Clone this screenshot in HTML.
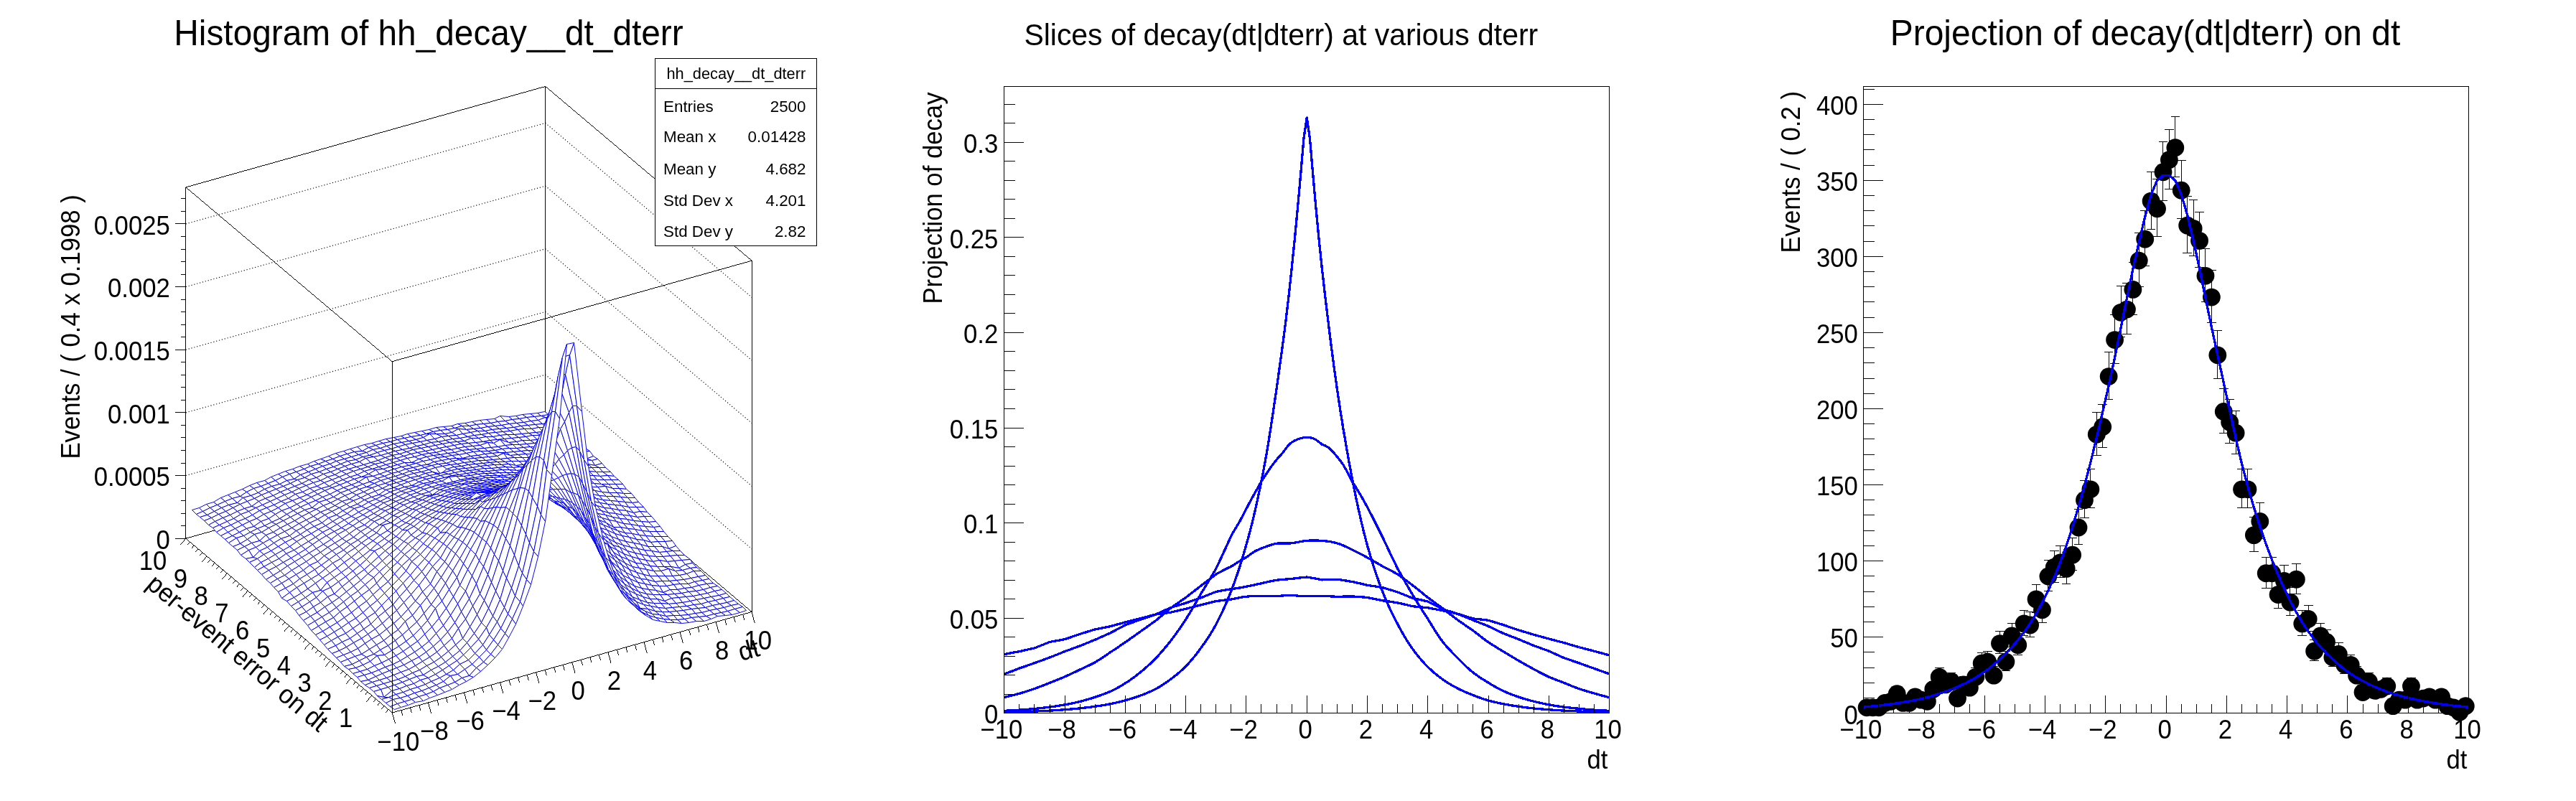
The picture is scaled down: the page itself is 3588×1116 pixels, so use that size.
<!DOCTYPE html>
<html><head><meta charset="utf-8"><title>rf306</title>
<style>html,body{margin:0;padding:0;background:#fff}svg{display:block;will-change:transform}line,polyline,polygon,rect{shape-rendering:crispEdges}.dot polyline{shape-rendering:geometricPrecision}text{font-family:"Liberation Sans",sans-serif}</style>
</head><body>
<svg width="3588" height="1116" viewBox="0 0 3588 1116">
<rect width="3588" height="1116" fill="#fff"/>
<g stroke="#000" stroke-width="0.97" fill="none">
<line x1="258.8" y1="750.2" x2="258.8" y2="260.9" />
<line x1="258.8" y1="260.9" x2="759.7" y2="120.4" />
<line x1="759.7" y1="120.4" x2="1047.2" y2="363.2" />
<line x1="759.7" y1="120.4" x2="759.7" y2="609.7" />
<line x1="1047.2" y1="363.2" x2="1047.2" y2="852.5" />
<line x1="258.8" y1="750.2" x2="759.7" y2="609.7" />
<line x1="759.7" y1="609.7" x2="1047.2" y2="852.5" />
</g>
<g stroke="#000" stroke-width="1.15" fill="none" stroke-dasharray="1.15 2.85" style="shape-rendering:geometricPrecision" class="dot">
<polyline points="258.8,662.55 759.7,522.05 1047.2,764.85"/>
<polyline points="258.8,574.9 759.7,434.4 1047.2,677.2"/>
<polyline points="258.8,487.25 759.7,346.75 1047.2,589.55"/>
<polyline points="258.8,399.6 759.7,259.1 1047.2,501.9"/>
<polyline points="258.8,311.95 759.7,171.45 1047.2,414.25"/>
</g>
<g stroke="#0000ff" stroke-width="0.97" fill="#fff" stroke-linejoin="round">
<polygon points="753.5,579.5 764.5,577.5 758.5,573.5 748.5,575.5"/>
<polygon points="744.5,580.5 753.5,579.5 748.5,575.5 738.5,576.5"/>
<polygon points="733.5,581.5 744.5,580.5 738.5,576.5 727.5,577.5"/>
<polygon points="723.5,583.5 733.5,581.5 727.5,577.5 718.5,579.5"/>
<polygon points="713.5,584.5 723.5,583.5 718.5,579.5 708.5,580.5"/>
<polygon points="703.5,586.5 713.5,584.5 708.5,580.5 696.5,579.5"/>
<polygon points="693.5,587.5 703.5,586.5 696.5,579.5 688.5,583.5"/>
<polygon points="683.5,589.5 693.5,587.5 688.5,583.5 677.5,584.5"/>
<polygon points="673.5,590.5 683.5,589.5 677.5,584.5 668.5,585.5"/>
<polygon points="663.5,591.5 673.5,590.5 668.5,585.5 657.5,587.5"/>
<polygon points="653.5,593.5 663.5,591.5 657.5,587.5 647.5,589.5"/>
<polygon points="643.5,593.5 653.5,593.5 647.5,589.5 637.5,590.5"/>
<polygon points="633.5,596.5 643.5,593.5 637.5,590.5 628.5,593.5"/>
<polygon points="623.5,598.5 633.5,596.5 628.5,593.5 617.5,594.5"/>
<polygon points="613.5,599.5 623.5,598.5 617.5,594.5 607.5,595.5"/>
<polygon points="603.5,601.5 613.5,599.5 607.5,595.5 597.5,598.5"/>
<polygon points="593.5,604.5 603.5,601.5 597.5,598.5 587.5,600.5"/>
<polygon points="585.5,606.5 593.5,604.5 587.5,600.5 577.5,602.5"/>
<polygon points="572.5,608.5 585.5,606.5 577.5,602.5 567.5,604.5"/>
<polygon points="563.5,610.5 572.5,608.5 567.5,604.5 558.5,607.5"/>
<polygon points="553.5,612.5 563.5,610.5 558.5,607.5 548.5,609.5"/>
<polygon points="543.5,615.5 553.5,612.5 548.5,609.5 537.5,611.5"/>
<polygon points="533.5,617.5 543.5,615.5 537.5,611.5 527.5,614.5"/>
<polygon points="523.5,620.5 533.5,617.5 527.5,614.5 517.5,617.5"/>
<polygon points="513.5,623.5 523.5,620.5 517.5,617.5 507.5,619.5"/>
<polygon points="504.5,628.5 513.5,623.5 507.5,619.5 497.5,622.5"/>
<polygon points="493.5,629.5 504.5,628.5 497.5,622.5 487.5,625.5"/>
<polygon points="483.5,632.5 493.5,629.5 487.5,625.5 478.5,628.5"/>
<polygon points="473.5,635.5 483.5,632.5 478.5,628.5 467.5,631.5"/>
<polygon points="463.5,639.5 473.5,635.5 467.5,631.5 457.5,635.5"/>
<polygon points="453.5,642.5 463.5,639.5 457.5,635.5 446.5,639.5"/>
<polygon points="443.5,646.5 453.5,642.5 446.5,639.5 437.5,642.5"/>
<polygon points="432.5,649.5 443.5,646.5 437.5,642.5 428.5,646.5"/>
<polygon points="423.5,653.5 432.5,649.5 428.5,646.5 417.5,649.5"/>
<polygon points="412.5,657.5 423.5,653.5 417.5,649.5 407.5,653.5"/>
<polygon points="403.5,660.5 412.5,657.5 407.5,653.5 397.5,656.5"/>
<polygon points="393.5,664.5 403.5,660.5 397.5,656.5 387.5,660.5"/>
<polygon points="383.5,669.5 393.5,664.5 387.5,660.5 377.5,664.5"/>
<polygon points="373.5,673.5 383.5,669.5 377.5,664.5 368.5,669.5"/>
<polygon points="363.5,677.5 373.5,673.5 368.5,669.5 357.5,672.5"/>
<polygon points="353.5,680.5 363.5,677.5 357.5,672.5 347.5,676.5"/>
<polygon points="343.5,685.5 353.5,680.5 347.5,676.5 337.5,681.5"/>
<polygon points="334.5,691.5 343.5,685.5 337.5,681.5 327.5,685.5"/>
<polygon points="323.5,694.5 334.5,691.5 327.5,685.5 317.5,689.5"/>
<polygon points="313.5,698.5 323.5,694.5 317.5,689.5 307.5,693.5"/>
<polygon points="302.5,703.5 313.5,698.5 307.5,693.5 297.5,699.5"/>
<polygon points="292.5,707.5 302.5,703.5 297.5,699.5 287.5,702.5"/>
<polygon points="282.5,712.5 292.5,707.5 287.5,702.5 277.5,707.5"/>
<polygon points="273.5,716.5 282.5,712.5 277.5,707.5 267.5,710.5"/>
<polygon points="759.5,581.5 769.5,583.5 764.5,577.5 753.5,579.5"/>
<polygon points="749.5,585.5 759.5,581.5 753.5,579.5 744.5,580.5"/>
<polygon points="739.5,586.5 749.5,585.5 744.5,580.5 733.5,581.5"/>
<polygon points="729.5,588.5 739.5,586.5 733.5,581.5 723.5,583.5"/>
<polygon points="719.5,589.5 729.5,588.5 723.5,583.5 713.5,584.5"/>
<polygon points="709.5,590.5 719.5,589.5 713.5,584.5 703.5,586.5"/>
<polygon points="698.5,592.5 709.5,590.5 703.5,586.5 693.5,587.5"/>
<polygon points="689.5,593.5 698.5,592.5 693.5,587.5 683.5,589.5"/>
<polygon points="679.5,594.5 689.5,593.5 683.5,589.5 673.5,590.5"/>
<polygon points="669.5,596.5 679.5,594.5 673.5,590.5 663.5,591.5"/>
<polygon points="659.5,597.5 669.5,596.5 663.5,591.5 653.5,593.5"/>
<polygon points="649.5,598.5 659.5,597.5 653.5,593.5 643.5,593.5"/>
<polygon points="638.5,597.5 649.5,598.5 643.5,593.5 633.5,596.5"/>
<polygon points="629.5,602.5 638.5,597.5 633.5,596.5 623.5,598.5"/>
<polygon points="619.5,604.5 629.5,602.5 623.5,598.5 613.5,599.5"/>
<polygon points="607.5,604.5 619.5,604.5 613.5,599.5 603.5,601.5"/>
<polygon points="598.5,604.5 607.5,604.5 603.5,601.5 593.5,604.5"/>
<polygon points="589.5,609.5 598.5,604.5 593.5,604.5 585.5,606.5"/>
<polygon points="579.5,612.5 589.5,609.5 585.5,606.5 572.5,608.5"/>
<polygon points="569.5,614.5 579.5,612.5 572.5,608.5 563.5,610.5"/>
<polygon points="559.5,616.5 569.5,614.5 563.5,610.5 553.5,612.5"/>
<polygon points="548.5,618.5 559.5,616.5 553.5,612.5 543.5,615.5"/>
<polygon points="538.5,621.5 548.5,618.5 543.5,615.5 533.5,617.5"/>
<polygon points="529.5,624.5 538.5,621.5 533.5,617.5 523.5,620.5"/>
<polygon points="519.5,626.5 529.5,624.5 523.5,620.5 513.5,623.5"/>
<polygon points="510.5,630.5 519.5,626.5 513.5,623.5 504.5,628.5"/>
<polygon points="499.5,633.5 510.5,630.5 504.5,628.5 493.5,629.5"/>
<polygon points="489.5,636.5 499.5,633.5 493.5,629.5 483.5,632.5"/>
<polygon points="479.5,639.5 489.5,636.5 483.5,632.5 473.5,635.5"/>
<polygon points="468.5,642.5 479.5,639.5 473.5,635.5 463.5,639.5"/>
<polygon points="459.5,646.5 468.5,642.5 463.5,639.5 453.5,642.5"/>
<polygon points="449.5,649.5 459.5,646.5 453.5,642.5 443.5,646.5"/>
<polygon points="439.5,653.5 449.5,649.5 443.5,646.5 432.5,649.5"/>
<polygon points="429.5,657.5 439.5,653.5 432.5,649.5 423.5,653.5"/>
<polygon points="418.5,661.5 429.5,657.5 423.5,653.5 412.5,657.5"/>
<polygon points="409.5,667.5 418.5,661.5 412.5,657.5 403.5,660.5"/>
<polygon points="399.5,669.5 409.5,667.5 403.5,660.5 393.5,664.5"/>
<polygon points="389.5,674.5 399.5,669.5 393.5,664.5 383.5,669.5"/>
<polygon points="378.5,677.5 389.5,674.5 383.5,669.5 373.5,673.5"/>
<polygon points="368.5,681.5 378.5,677.5 373.5,673.5 363.5,677.5"/>
<polygon points="359.5,686.5 368.5,681.5 363.5,677.5 353.5,680.5"/>
<polygon points="349.5,690.5 359.5,686.5 353.5,680.5 343.5,685.5"/>
<polygon points="338.5,693.5 349.5,690.5 343.5,685.5 334.5,691.5"/>
<polygon points="330.5,700.5 338.5,693.5 334.5,691.5 323.5,694.5"/>
<polygon points="318.5,703.5 330.5,700.5 323.5,694.5 313.5,698.5"/>
<polygon points="308.5,707.5 318.5,703.5 313.5,698.5 302.5,703.5"/>
<polygon points="298.5,712.5 308.5,707.5 302.5,703.5 292.5,707.5"/>
<polygon points="288.5,717.5 298.5,712.5 292.5,707.5 282.5,712.5"/>
<polygon points="278.5,720.5 288.5,717.5 282.5,712.5 273.5,716.5"/>
<polygon points="765.5,589.5 775.5,588.5 769.5,583.5 759.5,581.5"/>
<polygon points="755.5,590.5 765.5,589.5 759.5,581.5 749.5,585.5"/>
<polygon points="745.5,591.5 755.5,590.5 749.5,585.5 739.5,586.5"/>
<polygon points="735.5,592.5 745.5,591.5 739.5,586.5 729.5,588.5"/>
<polygon points="725.5,593.5 735.5,592.5 729.5,588.5 719.5,589.5"/>
<polygon points="715.5,595.5 725.5,593.5 719.5,589.5 709.5,590.5"/>
<polygon points="705.5,596.5 715.5,595.5 709.5,590.5 698.5,592.5"/>
<polygon points="695.5,597.5 705.5,596.5 698.5,592.5 689.5,593.5"/>
<polygon points="685.5,598.5 695.5,597.5 689.5,593.5 679.5,594.5"/>
<polygon points="675.5,600.5 685.5,598.5 679.5,594.5 669.5,596.5"/>
<polygon points="665.5,600.5 675.5,600.5 669.5,596.5 659.5,597.5"/>
<polygon points="655.5,602.5 665.5,600.5 659.5,597.5 649.5,598.5"/>
<polygon points="644.5,604.5 655.5,602.5 649.5,598.5 638.5,597.5"/>
<polygon points="635.5,606.5 644.5,604.5 638.5,597.5 629.5,602.5"/>
<polygon points="624.5,607.5 635.5,606.5 629.5,602.5 619.5,604.5"/>
<polygon points="615.5,608.5 624.5,607.5 619.5,604.5 607.5,604.5"/>
<polygon points="605.5,611.5 615.5,608.5 607.5,604.5 598.5,604.5"/>
<polygon points="594.5,613.5 605.5,611.5 598.5,604.5 589.5,609.5"/>
<polygon points="585.5,615.5 594.5,613.5 589.5,609.5 579.5,612.5"/>
<polygon points="574.5,617.5 585.5,615.5 579.5,612.5 569.5,614.5"/>
<polygon points="564.5,619.5 574.5,617.5 569.5,614.5 559.5,616.5"/>
<polygon points="554.5,622.5 564.5,619.5 559.5,616.5 548.5,618.5"/>
<polygon points="544.5,625.5 554.5,622.5 548.5,618.5 538.5,621.5"/>
<polygon points="535.5,627.5 544.5,625.5 538.5,621.5 529.5,624.5"/>
<polygon points="525.5,630.5 535.5,627.5 529.5,624.5 519.5,626.5"/>
<polygon points="514.5,634.5 525.5,630.5 519.5,626.5 510.5,630.5"/>
<polygon points="505.5,636.5 514.5,634.5 510.5,630.5 499.5,633.5"/>
<polygon points="495.5,640.5 505.5,636.5 499.5,633.5 489.5,636.5"/>
<polygon points="484.5,642.5 495.5,640.5 489.5,636.5 479.5,639.5"/>
<polygon points="474.5,646.5 484.5,642.5 479.5,639.5 468.5,642.5"/>
<polygon points="464.5,650.5 474.5,646.5 468.5,642.5 459.5,646.5"/>
<polygon points="454.5,653.5 464.5,650.5 459.5,646.5 449.5,649.5"/>
<polygon points="444.5,657.5 454.5,653.5 449.5,649.5 439.5,653.5"/>
<polygon points="433.5,660.5 444.5,657.5 439.5,653.5 429.5,657.5"/>
<polygon points="424.5,665.5 433.5,660.5 429.5,657.5 418.5,661.5"/>
<polygon points="414.5,668.5 424.5,665.5 418.5,661.5 409.5,667.5"/>
<polygon points="404.5,673.5 414.5,668.5 409.5,667.5 399.5,669.5"/>
<polygon points="394.5,677.5 404.5,673.5 399.5,669.5 389.5,674.5"/>
<polygon points="384.5,681.5 394.5,677.5 389.5,674.5 378.5,677.5"/>
<polygon points="374.5,685.5 384.5,681.5 378.5,677.5 368.5,681.5"/>
<polygon points="364.5,689.5 374.5,685.5 368.5,681.5 359.5,686.5"/>
<polygon points="354.5,694.5 364.5,689.5 359.5,686.5 349.5,690.5"/>
<polygon points="344.5,698.5 354.5,694.5 349.5,690.5 338.5,693.5"/>
<polygon points="334.5,702.5 344.5,698.5 338.5,693.5 330.5,700.5"/>
<polygon points="324.5,707.5 334.5,702.5 330.5,700.5 318.5,703.5"/>
<polygon points="314.5,712.5 324.5,707.5 318.5,703.5 308.5,707.5"/>
<polygon points="304.5,716.5 314.5,712.5 308.5,707.5 298.5,712.5"/>
<polygon points="294.5,721.5 304.5,716.5 298.5,712.5 288.5,717.5"/>
<polygon points="284.5,725.5 294.5,721.5 288.5,717.5 278.5,720.5"/>
<polygon points="772.5,597.5 781.5,593.5 775.5,588.5 765.5,589.5"/>
<polygon points="760.5,595.5 772.5,597.5 765.5,589.5 755.5,590.5"/>
<polygon points="750.5,595.5 760.5,595.5 755.5,590.5 745.5,591.5"/>
<polygon points="740.5,597.5 750.5,595.5 745.5,591.5 735.5,592.5"/>
<polygon points="730.5,597.5 740.5,597.5 735.5,592.5 725.5,593.5"/>
<polygon points="721.5,598.5 730.5,597.5 725.5,593.5 715.5,595.5"/>
<polygon points="710.5,600.5 721.5,598.5 715.5,595.5 705.5,596.5"/>
<polygon points="700.5,601.5 710.5,600.5 705.5,596.5 695.5,597.5"/>
<polygon points="690.5,602.5 700.5,601.5 695.5,597.5 685.5,598.5"/>
<polygon points="680.5,603.5 690.5,602.5 685.5,598.5 675.5,600.5"/>
<polygon points="670.5,605.5 680.5,603.5 675.5,600.5 665.5,600.5"/>
<polygon points="660.5,606.5 670.5,605.5 665.5,600.5 655.5,602.5"/>
<polygon points="651.5,608.5 660.5,606.5 655.5,602.5 644.5,604.5"/>
<polygon points="640.5,610.5 651.5,608.5 644.5,604.5 635.5,606.5"/>
<polygon points="630.5,611.5 640.5,610.5 635.5,606.5 624.5,607.5"/>
<polygon points="620.5,613.5 630.5,611.5 624.5,607.5 615.5,608.5"/>
<polygon points="610.5,615.5 620.5,613.5 615.5,608.5 605.5,611.5"/>
<polygon points="600.5,616.5 610.5,615.5 605.5,611.5 594.5,613.5"/>
<polygon points="590.5,619.5 600.5,616.5 594.5,613.5 585.5,615.5"/>
<polygon points="580.5,621.5 590.5,619.5 585.5,615.5 574.5,617.5"/>
<polygon points="570.5,624.5 580.5,621.5 574.5,617.5 564.5,619.5"/>
<polygon points="560.5,626.5 570.5,624.5 564.5,619.5 554.5,622.5"/>
<polygon points="550.5,628.5 560.5,626.5 554.5,622.5 544.5,625.5"/>
<polygon points="540.5,631.5 550.5,628.5 544.5,625.5 535.5,627.5"/>
<polygon points="530.5,634.5 540.5,631.5 535.5,627.5 525.5,630.5"/>
<polygon points="520.5,636.5 530.5,634.5 525.5,630.5 514.5,634.5"/>
<polygon points="509.5,638.5 520.5,636.5 514.5,634.5 505.5,636.5"/>
<polygon points="500.5,643.5 509.5,638.5 505.5,636.5 495.5,640.5"/>
<polygon points="489.5,646.5 500.5,643.5 495.5,640.5 484.5,642.5"/>
<polygon points="480.5,649.5 489.5,646.5 484.5,642.5 474.5,646.5"/>
<polygon points="470.5,653.5 480.5,649.5 474.5,646.5 464.5,650.5"/>
<polygon points="460.5,657.5 470.5,653.5 464.5,650.5 454.5,653.5"/>
<polygon points="450.5,660.5 460.5,657.5 454.5,653.5 444.5,657.5"/>
<polygon points="440.5,665.5 450.5,660.5 444.5,657.5 433.5,660.5"/>
<polygon points="430.5,668.5 440.5,665.5 433.5,660.5 424.5,665.5"/>
<polygon points="420.5,673.5 430.5,668.5 424.5,665.5 414.5,668.5"/>
<polygon points="410.5,677.5 420.5,673.5 414.5,668.5 404.5,673.5"/>
<polygon points="400.5,681.5 410.5,677.5 404.5,673.5 394.5,677.5"/>
<polygon points="390.5,685.5 400.5,681.5 394.5,677.5 384.5,681.5"/>
<polygon points="380.5,690.5 390.5,685.5 384.5,681.5 374.5,685.5"/>
<polygon points="369.5,694.5 380.5,690.5 374.5,685.5 364.5,689.5"/>
<polygon points="360.5,698.5 369.5,694.5 364.5,689.5 354.5,694.5"/>
<polygon points="350.5,705.5 360.5,698.5 354.5,694.5 344.5,698.5"/>
<polygon points="340.5,708.5 350.5,705.5 344.5,698.5 334.5,702.5"/>
<polygon points="330.5,712.5 340.5,708.5 334.5,702.5 324.5,707.5"/>
<polygon points="320.5,717.5 330.5,712.5 324.5,707.5 314.5,712.5"/>
<polygon points="310.5,721.5 320.5,717.5 314.5,712.5 304.5,716.5"/>
<polygon points="299.5,726.5 310.5,721.5 304.5,716.5 294.5,721.5"/>
<polygon points="290.5,731.5 299.5,726.5 294.5,721.5 284.5,725.5"/>
<polygon points="776.5,599.5 786.5,600.5 781.5,593.5 772.5,597.5"/>
<polygon points="767.5,599.5 776.5,599.5 772.5,597.5 760.5,595.5"/>
<polygon points="756.5,601.5 767.5,599.5 760.5,595.5 750.5,595.5"/>
<polygon points="746.5,602.5 756.5,601.5 750.5,595.5 740.5,597.5"/>
<polygon points="736.5,603.5 746.5,602.5 740.5,597.5 730.5,597.5"/>
<polygon points="726.5,604.5 736.5,603.5 730.5,597.5 721.5,598.5"/>
<polygon points="716.5,605.5 726.5,604.5 721.5,598.5 710.5,600.5"/>
<polygon points="706.5,605.5 716.5,605.5 710.5,600.5 700.5,601.5"/>
<polygon points="696.5,606.5 706.5,605.5 700.5,601.5 690.5,602.5"/>
<polygon points="686.5,608.5 696.5,606.5 690.5,602.5 680.5,603.5"/>
<polygon points="677.5,608.5 686.5,608.5 680.5,603.5 670.5,605.5"/>
<polygon points="666.5,610.5 677.5,608.5 670.5,605.5 660.5,606.5"/>
<polygon points="656.5,610.5 666.5,610.5 660.5,606.5 651.5,608.5"/>
<polygon points="646.5,614.5 656.5,610.5 651.5,608.5 640.5,610.5"/>
<polygon points="636.5,615.5 646.5,614.5 640.5,610.5 630.5,611.5"/>
<polygon points="626.5,616.5 636.5,615.5 630.5,611.5 620.5,613.5"/>
<polygon points="616.5,618.5 626.5,616.5 620.5,613.5 610.5,615.5"/>
<polygon points="606.5,620.5 616.5,618.5 610.5,615.5 600.5,616.5"/>
<polygon points="596.5,622.5 606.5,620.5 600.5,616.5 590.5,619.5"/>
<polygon points="586.5,624.5 596.5,622.5 590.5,619.5 580.5,621.5"/>
<polygon points="575.5,626.5 586.5,624.5 580.5,621.5 570.5,624.5"/>
<polygon points="566.5,629.5 575.5,626.5 570.5,624.5 560.5,626.5"/>
<polygon points="556.5,632.5 566.5,629.5 560.5,626.5 550.5,628.5"/>
<polygon points="546.5,634.5 556.5,632.5 550.5,628.5 540.5,631.5"/>
<polygon points="536.5,637.5 546.5,634.5 540.5,631.5 530.5,634.5"/>
<polygon points="526.5,641.5 536.5,637.5 530.5,634.5 520.5,636.5"/>
<polygon points="516.5,644.5 526.5,641.5 520.5,636.5 509.5,638.5"/>
<polygon points="506.5,647.5 516.5,644.5 509.5,638.5 500.5,643.5"/>
<polygon points="496.5,650.5 506.5,647.5 500.5,643.5 489.5,646.5"/>
<polygon points="485.5,653.5 496.5,650.5 489.5,646.5 480.5,649.5"/>
<polygon points="475.5,656.5 485.5,653.5 480.5,649.5 470.5,653.5"/>
<polygon points="466.5,661.5 475.5,656.5 470.5,653.5 460.5,657.5"/>
<polygon points="456.5,664.5 466.5,661.5 460.5,657.5 450.5,660.5"/>
<polygon points="446.5,669.5 456.5,664.5 450.5,660.5 440.5,665.5"/>
<polygon points="436.5,672.5 446.5,669.5 440.5,665.5 430.5,668.5"/>
<polygon points="426.5,676.5 436.5,672.5 430.5,668.5 420.5,673.5"/>
<polygon points="416.5,680.5 426.5,676.5 420.5,673.5 410.5,677.5"/>
<polygon points="406.5,685.5 416.5,680.5 410.5,677.5 400.5,681.5"/>
<polygon points="396.5,689.5 406.5,685.5 400.5,681.5 390.5,685.5"/>
<polygon points="385.5,694.5 396.5,689.5 390.5,685.5 380.5,690.5"/>
<polygon points="376.5,698.5 385.5,694.5 380.5,690.5 369.5,694.5"/>
<polygon points="365.5,703.5 376.5,698.5 369.5,694.5 360.5,698.5"/>
<polygon points="356.5,707.5 365.5,703.5 360.5,698.5 350.5,705.5"/>
<polygon points="346.5,712.5 356.5,707.5 350.5,705.5 340.5,708.5"/>
<polygon points="335.5,716.5 346.5,712.5 340.5,708.5 330.5,712.5"/>
<polygon points="325.5,722.5 335.5,716.5 330.5,712.5 320.5,717.5"/>
<polygon points="316.5,726.5 325.5,722.5 320.5,717.5 310.5,721.5"/>
<polygon points="305.5,731.5 316.5,726.5 310.5,721.5 299.5,726.5"/>
<polygon points="296.5,735.5 305.5,731.5 299.5,726.5 290.5,731.5"/>
<polygon points="782.5,604.5 792.5,603.5 786.5,600.5 776.5,599.5"/>
<polygon points="772.5,605.5 782.5,604.5 776.5,599.5 767.5,599.5"/>
<polygon points="762.5,606.5 772.5,605.5 767.5,599.5 756.5,601.5"/>
<polygon points="752.5,606.5 762.5,606.5 756.5,601.5 746.5,602.5"/>
<polygon points="741.5,606.5 752.5,606.5 746.5,602.5 736.5,603.5"/>
<polygon points="732.5,608.5 741.5,606.5 736.5,603.5 726.5,604.5"/>
<polygon points="722.5,609.5 732.5,608.5 726.5,604.5 716.5,605.5"/>
<polygon points="712.5,610.5 722.5,609.5 716.5,605.5 706.5,605.5"/>
<polygon points="702.5,611.5 712.5,610.5 706.5,605.5 696.5,606.5"/>
<polygon points="692.5,612.5 702.5,611.5 696.5,606.5 686.5,608.5"/>
<polygon points="682.5,613.5 692.5,612.5 686.5,608.5 677.5,608.5"/>
<polygon points="672.5,615.5 682.5,613.5 677.5,608.5 666.5,610.5"/>
<polygon points="662.5,616.5 672.5,615.5 666.5,610.5 656.5,610.5"/>
<polygon points="652.5,617.5 662.5,616.5 656.5,610.5 646.5,614.5"/>
<polygon points="642.5,618.5 652.5,617.5 646.5,614.5 636.5,615.5"/>
<polygon points="632.5,620.5 642.5,618.5 636.5,615.5 626.5,616.5"/>
<polygon points="621.5,622.5 632.5,620.5 626.5,616.5 616.5,618.5"/>
<polygon points="611.5,624.5 621.5,622.5 616.5,618.5 606.5,620.5"/>
<polygon points="602.5,626.5 611.5,624.5 606.5,620.5 596.5,622.5"/>
<polygon points="592.5,628.5 602.5,626.5 596.5,622.5 586.5,624.5"/>
<polygon points="581.5,630.5 592.5,628.5 586.5,624.5 575.5,626.5"/>
<polygon points="572.5,632.5 581.5,630.5 575.5,626.5 566.5,629.5"/>
<polygon points="562.5,635.5 572.5,632.5 566.5,629.5 556.5,632.5"/>
<polygon points="552.5,638.5 562.5,635.5 556.5,632.5 546.5,634.5"/>
<polygon points="542.5,640.5 552.5,638.5 546.5,634.5 536.5,637.5"/>
<polygon points="532.5,644.5 542.5,640.5 536.5,637.5 526.5,641.5"/>
<polygon points="522.5,646.5 532.5,644.5 526.5,641.5 516.5,644.5"/>
<polygon points="512.5,650.5 522.5,646.5 516.5,644.5 506.5,647.5"/>
<polygon points="502.5,653.5 512.5,650.5 506.5,647.5 496.5,650.5"/>
<polygon points="492.5,656.5 502.5,653.5 496.5,650.5 485.5,653.5"/>
<polygon points="482.5,660.5 492.5,656.5 485.5,653.5 475.5,656.5"/>
<polygon points="472.5,664.5 482.5,660.5 475.5,656.5 466.5,661.5"/>
<polygon points="462.5,668.5 472.5,664.5 466.5,661.5 456.5,664.5"/>
<polygon points="451.5,672.5 462.5,668.5 456.5,664.5 446.5,669.5"/>
<polygon points="441.5,677.5 451.5,672.5 446.5,669.5 436.5,672.5"/>
<polygon points="431.5,680.5 441.5,677.5 436.5,672.5 426.5,676.5"/>
<polygon points="421.5,685.5 431.5,680.5 426.5,676.5 416.5,680.5"/>
<polygon points="411.5,688.5 421.5,685.5 416.5,680.5 406.5,685.5"/>
<polygon points="401.5,694.5 411.5,688.5 406.5,685.5 396.5,689.5"/>
<polygon points="391.5,698.5 401.5,694.5 396.5,689.5 385.5,694.5"/>
<polygon points="381.5,703.5 391.5,698.5 385.5,694.5 376.5,698.5"/>
<polygon points="371.5,707.5 381.5,703.5 376.5,698.5 365.5,703.5"/>
<polygon points="361.5,711.5 371.5,707.5 365.5,703.5 356.5,707.5"/>
<polygon points="351.5,717.5 361.5,711.5 356.5,707.5 346.5,712.5"/>
<polygon points="341.5,722.5 351.5,717.5 346.5,712.5 335.5,716.5"/>
<polygon points="331.5,726.5 341.5,722.5 335.5,716.5 325.5,722.5"/>
<polygon points="321.5,731.5 331.5,726.5 325.5,722.5 316.5,726.5"/>
<polygon points="311.5,735.5 321.5,731.5 316.5,726.5 305.5,731.5"/>
<polygon points="301.5,741.5 311.5,735.5 305.5,731.5 296.5,735.5"/>
<polygon points="788.5,609.5 798.5,608.5 792.5,603.5 782.5,604.5"/>
<polygon points="778.5,610.5 788.5,609.5 782.5,604.5 772.5,605.5"/>
<polygon points="768.5,611.5 778.5,610.5 772.5,605.5 762.5,606.5"/>
<polygon points="758.5,611.5 768.5,611.5 762.5,606.5 752.5,606.5"/>
<polygon points="748.5,612.5 758.5,611.5 752.5,606.5 741.5,606.5"/>
<polygon points="738.5,613.5 748.5,612.5 741.5,606.5 732.5,608.5"/>
<polygon points="727.5,613.5 738.5,613.5 732.5,608.5 722.5,609.5"/>
<polygon points="719.5,615.5 727.5,613.5 722.5,609.5 712.5,610.5"/>
<polygon points="708.5,616.5 719.5,615.5 712.5,610.5 702.5,611.5"/>
<polygon points="696.5,612.5 708.5,616.5 702.5,611.5 692.5,612.5"/>
<polygon points="687.5,617.5 696.5,612.5 692.5,612.5 682.5,613.5"/>
<polygon points="679.5,616.5 687.5,617.5 682.5,613.5 672.5,615.5"/>
<polygon points="668.5,620.5 679.5,616.5 672.5,615.5 662.5,616.5"/>
<polygon points="658.5,621.5 668.5,620.5 662.5,616.5 652.5,617.5"/>
<polygon points="647.5,622.5 658.5,621.5 652.5,617.5 642.5,618.5"/>
<polygon points="637.5,624.5 647.5,622.5 642.5,618.5 632.5,620.5"/>
<polygon points="628.5,626.5 637.5,624.5 632.5,620.5 621.5,622.5"/>
<polygon points="617.5,627.5 628.5,626.5 621.5,622.5 611.5,624.5"/>
<polygon points="607.5,630.5 617.5,627.5 611.5,624.5 602.5,626.5"/>
<polygon points="597.5,631.5 607.5,630.5 602.5,626.5 592.5,628.5"/>
<polygon points="587.5,633.5 597.5,631.5 592.5,628.5 581.5,630.5"/>
<polygon points="577.5,636.5 587.5,633.5 581.5,630.5 572.5,632.5"/>
<polygon points="567.5,638.5 577.5,636.5 572.5,632.5 562.5,635.5"/>
<polygon points="557.5,641.5 567.5,638.5 562.5,635.5 552.5,638.5"/>
<polygon points="547.5,644.5 557.5,641.5 552.5,638.5 542.5,640.5"/>
<polygon points="537.5,647.5 547.5,644.5 542.5,640.5 532.5,644.5"/>
<polygon points="527.5,650.5 537.5,647.5 532.5,644.5 522.5,646.5"/>
<polygon points="518.5,653.5 527.5,650.5 522.5,646.5 512.5,650.5"/>
<polygon points="507.5,656.5 518.5,653.5 512.5,650.5 502.5,653.5"/>
<polygon points="497.5,661.5 507.5,656.5 502.5,653.5 492.5,656.5"/>
<polygon points="487.5,664.5 497.5,661.5 492.5,656.5 482.5,660.5"/>
<polygon points="477.5,668.5 487.5,664.5 482.5,660.5 472.5,664.5"/>
<polygon points="467.5,672.5 477.5,668.5 472.5,664.5 462.5,668.5"/>
<polygon points="458.5,677.5 467.5,672.5 462.5,668.5 451.5,672.5"/>
<polygon points="447.5,680.5 458.5,677.5 451.5,672.5 441.5,677.5"/>
<polygon points="437.5,684.5 447.5,680.5 441.5,677.5 431.5,680.5"/>
<polygon points="427.5,689.5 437.5,684.5 431.5,680.5 421.5,685.5"/>
<polygon points="417.5,693.5 427.5,689.5 421.5,685.5 411.5,688.5"/>
<polygon points="407.5,697.5 417.5,693.5 411.5,688.5 401.5,694.5"/>
<polygon points="397.5,701.5 407.5,697.5 401.5,694.5 391.5,698.5"/>
<polygon points="387.5,707.5 397.5,701.5 391.5,698.5 381.5,703.5"/>
<polygon points="377.5,712.5 387.5,707.5 381.5,703.5 371.5,707.5"/>
<polygon points="367.5,716.5 377.5,712.5 371.5,707.5 361.5,711.5"/>
<polygon points="357.5,722.5 367.5,716.5 361.5,711.5 351.5,717.5"/>
<polygon points="347.5,726.5 357.5,722.5 351.5,717.5 341.5,722.5"/>
<polygon points="337.5,731.5 347.5,726.5 341.5,722.5 331.5,726.5"/>
<polygon points="327.5,736.5 337.5,731.5 331.5,726.5 321.5,731.5"/>
<polygon points="317.5,741.5 327.5,736.5 321.5,731.5 311.5,735.5"/>
<polygon points="307.5,746.5 317.5,741.5 311.5,735.5 301.5,741.5"/>
<polygon points="793.5,614.5 804.5,613.5 798.5,608.5 788.5,609.5"/>
<polygon points="784.5,616.5 793.5,614.5 788.5,609.5 778.5,610.5"/>
<polygon points="774.5,615.5 784.5,616.5 778.5,610.5 768.5,611.5"/>
<polygon points="764.5,614.5 774.5,615.5 768.5,611.5 758.5,611.5"/>
<polygon points="753.5,614.5 764.5,614.5 758.5,611.5 748.5,612.5"/>
<polygon points="744.5,617.5 753.5,614.5 748.5,612.5 738.5,613.5"/>
<polygon points="733.5,618.5 744.5,617.5 738.5,613.5 727.5,613.5"/>
<polygon points="723.5,619.5 733.5,618.5 727.5,613.5 719.5,615.5"/>
<polygon points="714.5,619.5 723.5,619.5 719.5,615.5 708.5,616.5"/>
<polygon points="703.5,620.5 714.5,619.5 708.5,616.5 696.5,612.5"/>
<polygon points="693.5,622.5 703.5,620.5 696.5,612.5 687.5,617.5"/>
<polygon points="683.5,623.5 693.5,622.5 687.5,617.5 679.5,616.5"/>
<polygon points="674.5,624.5 683.5,623.5 679.5,616.5 668.5,620.5"/>
<polygon points="663.5,625.5 674.5,624.5 668.5,620.5 658.5,621.5"/>
<polygon points="653.5,626.5 663.5,625.5 658.5,621.5 647.5,622.5"/>
<polygon points="643.5,627.5 653.5,626.5 647.5,622.5 637.5,624.5"/>
<polygon points="633.5,630.5 643.5,627.5 637.5,624.5 628.5,626.5"/>
<polygon points="623.5,631.5 633.5,630.5 628.5,626.5 617.5,627.5"/>
<polygon points="613.5,633.5 623.5,631.5 617.5,627.5 607.5,630.5"/>
<polygon points="603.5,634.5 613.5,633.5 607.5,630.5 597.5,631.5"/>
<polygon points="594.5,636.5 603.5,634.5 597.5,631.5 587.5,633.5"/>
<polygon points="583.5,639.5 594.5,636.5 587.5,633.5 577.5,636.5"/>
<polygon points="573.5,644.5 583.5,639.5 577.5,636.5 567.5,638.5"/>
<polygon points="563.5,644.5 573.5,644.5 567.5,638.5 557.5,641.5"/>
<polygon points="553.5,647.5 563.5,644.5 557.5,641.5 547.5,644.5"/>
<polygon points="543.5,650.5 553.5,647.5 547.5,644.5 537.5,647.5"/>
<polygon points="533.5,653.5 543.5,650.5 537.5,647.5 527.5,650.5"/>
<polygon points="523.5,654.5 533.5,653.5 527.5,650.5 518.5,653.5"/>
<polygon points="513.5,660.5 523.5,654.5 518.5,653.5 507.5,656.5"/>
<polygon points="503.5,664.5 513.5,660.5 507.5,656.5 497.5,661.5"/>
<polygon points="493.5,667.5 503.5,664.5 497.5,661.5 487.5,664.5"/>
<polygon points="483.5,671.5 493.5,667.5 487.5,664.5 477.5,668.5"/>
<polygon points="473.5,675.5 483.5,671.5 477.5,668.5 467.5,672.5"/>
<polygon points="462.5,679.5 473.5,675.5 467.5,672.5 458.5,677.5"/>
<polygon points="452.5,683.5 462.5,679.5 458.5,677.5 447.5,680.5"/>
<polygon points="442.5,688.5 452.5,683.5 447.5,680.5 437.5,684.5"/>
<polygon points="433.5,692.5 442.5,688.5 437.5,684.5 427.5,689.5"/>
<polygon points="423.5,697.5 433.5,692.5 427.5,689.5 417.5,693.5"/>
<polygon points="413.5,702.5 423.5,697.5 417.5,693.5 407.5,697.5"/>
<polygon points="403.5,707.5 413.5,702.5 407.5,697.5 397.5,701.5"/>
<polygon points="392.5,711.5 403.5,707.5 397.5,701.5 387.5,707.5"/>
<polygon points="383.5,716.5 392.5,711.5 387.5,707.5 377.5,712.5"/>
<polygon points="374.5,722.5 383.5,716.5 377.5,712.5 367.5,716.5"/>
<polygon points="363.5,726.5 374.5,722.5 367.5,716.5 357.5,722.5"/>
<polygon points="353.5,733.5 363.5,726.5 357.5,722.5 347.5,726.5"/>
<polygon points="343.5,736.5 353.5,733.5 347.5,726.5 337.5,731.5"/>
<polygon points="333.5,741.5 343.5,736.5 337.5,731.5 327.5,736.5"/>
<polygon points="323.5,746.5 333.5,741.5 327.5,736.5 317.5,741.5"/>
<polygon points="313.5,751.5 323.5,746.5 317.5,741.5 307.5,746.5"/>
<polygon points="799.5,619.5 809.5,618.5 804.5,613.5 793.5,614.5"/>
<polygon points="789.5,619.5 799.5,619.5 793.5,614.5 784.5,616.5"/>
<polygon points="779.5,620.5 789.5,619.5 784.5,616.5 774.5,615.5"/>
<polygon points="769.5,621.5 779.5,620.5 774.5,615.5 764.5,614.5"/>
<polygon points="758.5,622.5 769.5,621.5 764.5,614.5 753.5,614.5"/>
<polygon points="749.5,622.5 758.5,622.5 753.5,614.5 744.5,617.5"/>
<polygon points="738.5,622.5 749.5,622.5 744.5,617.5 733.5,618.5"/>
<polygon points="729.5,623.5 738.5,622.5 733.5,618.5 723.5,619.5"/>
<polygon points="719.5,624.5 729.5,623.5 723.5,619.5 714.5,619.5"/>
<polygon points="709.5,624.5 719.5,624.5 714.5,619.5 703.5,620.5"/>
<polygon points="699.5,625.5 709.5,624.5 703.5,620.5 693.5,622.5"/>
<polygon points="689.5,627.5 699.5,625.5 693.5,622.5 683.5,623.5"/>
<polygon points="679.5,628.5 689.5,627.5 683.5,623.5 674.5,624.5"/>
<polygon points="669.5,628.5 679.5,628.5 674.5,624.5 663.5,625.5"/>
<polygon points="659.5,629.5 669.5,628.5 663.5,625.5 653.5,626.5"/>
<polygon points="649.5,631.5 659.5,629.5 653.5,626.5 643.5,627.5"/>
<polygon points="639.5,633.5 649.5,631.5 643.5,627.5 633.5,630.5"/>
<polygon points="629.5,634.5 639.5,633.5 633.5,630.5 623.5,631.5"/>
<polygon points="619.5,636.5 629.5,634.5 623.5,631.5 613.5,633.5"/>
<polygon points="609.5,637.5 619.5,636.5 613.5,633.5 603.5,634.5"/>
<polygon points="599.5,640.5 609.5,637.5 603.5,634.5 594.5,636.5"/>
<polygon points="589.5,642.5 599.5,640.5 594.5,636.5 583.5,639.5"/>
<polygon points="579.5,645.5 589.5,642.5 583.5,639.5 573.5,644.5"/>
<polygon points="569.5,648.5 579.5,645.5 573.5,644.5 563.5,644.5"/>
<polygon points="559.5,650.5 569.5,648.5 563.5,644.5 553.5,647.5"/>
<polygon points="549.5,653.5 559.5,650.5 553.5,647.5 543.5,650.5"/>
<polygon points="539.5,656.5 549.5,653.5 543.5,650.5 533.5,653.5"/>
<polygon points="528.5,660.5 539.5,656.5 533.5,653.5 523.5,654.5"/>
<polygon points="519.5,663.5 528.5,660.5 523.5,654.5 513.5,660.5"/>
<polygon points="510.5,664.5 519.5,663.5 513.5,660.5 503.5,664.5"/>
<polygon points="499.5,671.5 510.5,664.5 503.5,664.5 493.5,667.5"/>
<polygon points="489.5,675.5 499.5,671.5 493.5,667.5 483.5,671.5"/>
<polygon points="478.5,679.5 489.5,675.5 483.5,671.5 473.5,675.5"/>
<polygon points="469.5,683.5 478.5,679.5 473.5,675.5 462.5,679.5"/>
<polygon points="459.5,688.5 469.5,683.5 462.5,679.5 452.5,683.5"/>
<polygon points="449.5,692.5 459.5,688.5 452.5,683.5 442.5,688.5"/>
<polygon points="439.5,697.5 449.5,692.5 442.5,688.5 433.5,692.5"/>
<polygon points="429.5,701.5 439.5,697.5 433.5,692.5 423.5,697.5"/>
<polygon points="418.5,706.5 429.5,701.5 423.5,697.5 413.5,702.5"/>
<polygon points="408.5,711.5 418.5,706.5 413.5,702.5 403.5,707.5"/>
<polygon points="399.5,716.5 408.5,711.5 403.5,707.5 392.5,711.5"/>
<polygon points="389.5,722.5 399.5,716.5 392.5,711.5 383.5,716.5"/>
<polygon points="378.5,727.5 389.5,722.5 383.5,716.5 374.5,722.5"/>
<polygon points="368.5,732.5 378.5,727.5 374.5,722.5 363.5,726.5"/>
<polygon points="358.5,736.5 368.5,732.5 363.5,726.5 353.5,733.5"/>
<polygon points="348.5,741.5 358.5,736.5 353.5,733.5 343.5,736.5"/>
<polygon points="339.5,746.5 348.5,741.5 343.5,736.5 333.5,741.5"/>
<polygon points="329.5,749.5 339.5,746.5 333.5,741.5 323.5,746.5"/>
<polygon points="318.5,756.5 329.5,749.5 323.5,746.5 313.5,751.5"/>
<polygon points="805.5,624.5 815.5,624.5 809.5,618.5 799.5,619.5"/>
<polygon points="795.5,625.5 805.5,624.5 799.5,619.5 789.5,619.5"/>
<polygon points="784.5,623.5 795.5,625.5 789.5,619.5 779.5,620.5"/>
<polygon points="775.5,626.5 784.5,623.5 779.5,620.5 769.5,621.5"/>
<polygon points="765.5,626.5 775.5,626.5 769.5,621.5 758.5,622.5"/>
<polygon points="755.5,627.5 765.5,626.5 758.5,622.5 749.5,622.5"/>
<polygon points="745.5,627.5 755.5,627.5 749.5,622.5 738.5,622.5"/>
<polygon points="735.5,627.5 745.5,627.5 738.5,622.5 729.5,623.5"/>
<polygon points="725.5,628.5 735.5,627.5 729.5,623.5 719.5,624.5"/>
<polygon points="715.5,629.5 725.5,628.5 719.5,624.5 709.5,624.5"/>
<polygon points="705.5,630.5 715.5,629.5 709.5,624.5 699.5,625.5"/>
<polygon points="695.5,630.5 705.5,630.5 699.5,625.5 689.5,627.5"/>
<polygon points="685.5,631.5 695.5,630.5 689.5,627.5 679.5,628.5"/>
<polygon points="675.5,632.5 685.5,631.5 679.5,628.5 669.5,628.5"/>
<polygon points="665.5,634.5 675.5,632.5 669.5,628.5 659.5,629.5"/>
<polygon points="655.5,635.5 665.5,634.5 659.5,629.5 649.5,631.5"/>
<polygon points="644.5,638.5 655.5,635.5 649.5,631.5 639.5,633.5"/>
<polygon points="635.5,638.5 644.5,638.5 639.5,633.5 629.5,634.5"/>
<polygon points="625.5,639.5 635.5,638.5 629.5,634.5 619.5,636.5"/>
<polygon points="615.5,641.5 625.5,639.5 619.5,636.5 609.5,637.5"/>
<polygon points="604.5,643.5 615.5,641.5 609.5,637.5 599.5,640.5"/>
<polygon points="594.5,647.5 604.5,643.5 599.5,640.5 589.5,642.5"/>
<polygon points="586.5,648.5 594.5,647.5 589.5,642.5 579.5,645.5"/>
<polygon points="575.5,651.5 586.5,648.5 579.5,645.5 569.5,648.5"/>
<polygon points="565.5,653.5 575.5,651.5 569.5,648.5 559.5,650.5"/>
<polygon points="554.5,657.5 565.5,653.5 559.5,650.5 549.5,653.5"/>
<polygon points="545.5,659.5 554.5,657.5 549.5,653.5 539.5,656.5"/>
<polygon points="535.5,663.5 545.5,659.5 539.5,656.5 528.5,660.5"/>
<polygon points="525.5,666.5 535.5,663.5 528.5,660.5 519.5,663.5"/>
<polygon points="514.5,671.5 525.5,666.5 519.5,663.5 510.5,664.5"/>
<polygon points="505.5,674.5 514.5,671.5 510.5,664.5 499.5,671.5"/>
<polygon points="495.5,678.5 505.5,674.5 499.5,671.5 489.5,675.5"/>
<polygon points="485.5,682.5 495.5,678.5 489.5,675.5 478.5,679.5"/>
<polygon points="474.5,686.5 485.5,682.5 478.5,679.5 469.5,683.5"/>
<polygon points="464.5,692.5 474.5,686.5 469.5,683.5 459.5,688.5"/>
<polygon points="454.5,696.5 464.5,692.5 459.5,688.5 449.5,692.5"/>
<polygon points="444.5,699.5 454.5,696.5 449.5,692.5 439.5,697.5"/>
<polygon points="434.5,707.5 444.5,699.5 439.5,697.5 429.5,701.5"/>
<polygon points="424.5,710.5 434.5,707.5 429.5,701.5 418.5,706.5"/>
<polygon points="414.5,715.5 424.5,710.5 418.5,706.5 408.5,711.5"/>
<polygon points="404.5,720.5 414.5,715.5 408.5,711.5 399.5,716.5"/>
<polygon points="394.5,725.5 404.5,720.5 399.5,716.5 389.5,722.5"/>
<polygon points="384.5,730.5 394.5,725.5 389.5,722.5 378.5,727.5"/>
<polygon points="374.5,735.5 384.5,730.5 378.5,727.5 368.5,732.5"/>
<polygon points="364.5,741.5 374.5,735.5 368.5,732.5 358.5,736.5"/>
<polygon points="354.5,744.5 364.5,741.5 358.5,736.5 348.5,741.5"/>
<polygon points="344.5,751.5 354.5,744.5 348.5,741.5 339.5,746.5"/>
<polygon points="334.5,757.5 344.5,751.5 339.5,746.5 329.5,749.5"/>
<polygon points="324.5,761.5 334.5,757.5 329.5,749.5 318.5,756.5"/>
<polygon points="811.5,629.5 821.5,628.5 815.5,624.5 805.5,624.5"/>
<polygon points="801.5,629.5 811.5,629.5 805.5,624.5 795.5,625.5"/>
<polygon points="791.5,630.5 801.5,629.5 795.5,625.5 784.5,623.5"/>
<polygon points="781.5,630.5 791.5,630.5 784.5,623.5 775.5,626.5"/>
<polygon points="771.5,631.5 781.5,630.5 775.5,626.5 765.5,626.5"/>
<polygon points="760.5,631.5 771.5,631.5 765.5,626.5 755.5,627.5"/>
<polygon points="751.5,632.5 760.5,631.5 755.5,627.5 745.5,627.5"/>
<polygon points="741.5,632.5 751.5,632.5 745.5,627.5 735.5,627.5"/>
<polygon points="732.5,632.5 741.5,632.5 735.5,627.5 725.5,628.5"/>
<polygon points="721.5,633.5 732.5,632.5 725.5,628.5 715.5,629.5"/>
<polygon points="710.5,634.5 721.5,633.5 715.5,629.5 705.5,630.5"/>
<polygon points="701.5,631.5 710.5,634.5 705.5,630.5 695.5,630.5"/>
<polygon points="692.5,635.5 701.5,631.5 695.5,630.5 685.5,631.5"/>
<polygon points="680.5,636.5 692.5,635.5 685.5,631.5 675.5,632.5"/>
<polygon points="671.5,637.5 680.5,636.5 675.5,632.5 665.5,634.5"/>
<polygon points="660.5,638.5 671.5,637.5 665.5,634.5 655.5,635.5"/>
<polygon points="651.5,639.5 660.5,638.5 655.5,635.5 644.5,638.5"/>
<polygon points="639.5,640.5 651.5,639.5 644.5,638.5 635.5,638.5"/>
<polygon points="630.5,642.5 639.5,640.5 635.5,638.5 625.5,639.5"/>
<polygon points="621.5,645.5 630.5,642.5 625.5,639.5 615.5,641.5"/>
<polygon points="610.5,646.5 621.5,645.5 615.5,641.5 604.5,643.5"/>
<polygon points="601.5,648.5 610.5,646.5 604.5,643.5 594.5,647.5"/>
<polygon points="591.5,651.5 601.5,648.5 594.5,647.5 586.5,648.5"/>
<polygon points="581.5,654.5 591.5,651.5 586.5,648.5 575.5,651.5"/>
<polygon points="570.5,656.5 581.5,654.5 575.5,651.5 565.5,653.5"/>
<polygon points="560.5,660.5 570.5,656.5 565.5,653.5 554.5,657.5"/>
<polygon points="550.5,663.5 560.5,660.5 554.5,657.5 545.5,659.5"/>
<polygon points="540.5,666.5 550.5,663.5 545.5,659.5 535.5,663.5"/>
<polygon points="530.5,669.5 540.5,666.5 535.5,663.5 525.5,666.5"/>
<polygon points="521.5,673.5 530.5,669.5 525.5,666.5 514.5,671.5"/>
<polygon points="510.5,678.5 521.5,673.5 514.5,671.5 505.5,674.5"/>
<polygon points="500.5,681.5 510.5,678.5 505.5,674.5 495.5,678.5"/>
<polygon points="490.5,686.5 500.5,681.5 495.5,678.5 485.5,682.5"/>
<polygon points="480.5,690.5 490.5,686.5 485.5,682.5 474.5,686.5"/>
<polygon points="470.5,695.5 480.5,690.5 474.5,686.5 464.5,692.5"/>
<polygon points="460.5,700.5 470.5,695.5 464.5,692.5 454.5,696.5"/>
<polygon points="450.5,704.5 460.5,700.5 454.5,696.5 444.5,699.5"/>
<polygon points="440.5,709.5 450.5,704.5 444.5,699.5 434.5,707.5"/>
<polygon points="430.5,714.5 440.5,709.5 434.5,707.5 424.5,710.5"/>
<polygon points="420.5,719.5 430.5,714.5 424.5,710.5 414.5,715.5"/>
<polygon points="410.5,725.5 420.5,719.5 414.5,715.5 404.5,720.5"/>
<polygon points="400.5,730.5 410.5,725.5 404.5,720.5 394.5,725.5"/>
<polygon points="390.5,735.5 400.5,730.5 394.5,725.5 384.5,730.5"/>
<polygon points="380.5,741.5 390.5,735.5 384.5,730.5 374.5,735.5"/>
<polygon points="370.5,745.5 380.5,741.5 374.5,735.5 364.5,741.5"/>
<polygon points="361.5,753.5 370.5,745.5 364.5,741.5 354.5,744.5"/>
<polygon points="350.5,756.5 361.5,753.5 354.5,744.5 344.5,751.5"/>
<polygon points="340.5,761.5 350.5,756.5 344.5,751.5 334.5,757.5"/>
<polygon points="330.5,766.5 340.5,761.5 334.5,757.5 324.5,761.5"/>
<polygon points="816.5,639.5 826.5,635.5 821.5,628.5 811.5,629.5"/>
<polygon points="807.5,635.5 816.5,639.5 811.5,629.5 801.5,629.5"/>
<polygon points="797.5,635.5 807.5,635.5 801.5,629.5 791.5,630.5"/>
<polygon points="787.5,636.5 797.5,635.5 791.5,630.5 781.5,630.5"/>
<polygon points="776.5,636.5 787.5,636.5 781.5,630.5 771.5,631.5"/>
<polygon points="766.5,636.5 776.5,636.5 771.5,631.5 760.5,631.5"/>
<polygon points="756.5,636.5 766.5,636.5 760.5,631.5 751.5,632.5"/>
<polygon points="746.5,636.5 756.5,636.5 751.5,632.5 741.5,632.5"/>
<polygon points="736.5,637.5 746.5,636.5 741.5,632.5 732.5,632.5"/>
<polygon points="727.5,637.5 736.5,637.5 732.5,632.5 721.5,633.5"/>
<polygon points="716.5,637.5 727.5,637.5 721.5,633.5 710.5,634.5"/>
<polygon points="706.5,638.5 716.5,637.5 710.5,634.5 701.5,631.5"/>
<polygon points="696.5,639.5 706.5,638.5 701.5,631.5 692.5,635.5"/>
<polygon points="686.5,640.5 696.5,639.5 692.5,635.5 680.5,636.5"/>
<polygon points="676.5,641.5 686.5,640.5 680.5,636.5 671.5,637.5"/>
<polygon points="666.5,641.5 676.5,641.5 671.5,637.5 660.5,638.5"/>
<polygon points="656.5,643.5 666.5,641.5 660.5,638.5 651.5,639.5"/>
<polygon points="646.5,644.5 656.5,643.5 651.5,639.5 639.5,640.5"/>
<polygon points="636.5,646.5 646.5,644.5 639.5,640.5 630.5,642.5"/>
<polygon points="627.5,647.5 636.5,646.5 630.5,642.5 621.5,645.5"/>
<polygon points="616.5,649.5 627.5,647.5 621.5,645.5 610.5,646.5"/>
<polygon points="606.5,651.5 616.5,649.5 610.5,646.5 601.5,648.5"/>
<polygon points="597.5,654.5 606.5,651.5 601.5,648.5 591.5,651.5"/>
<polygon points="586.5,657.5 597.5,654.5 591.5,651.5 581.5,654.5"/>
<polygon points="576.5,659.5 586.5,657.5 581.5,654.5 570.5,656.5"/>
<polygon points="566.5,662.5 576.5,659.5 570.5,656.5 560.5,660.5"/>
<polygon points="555.5,666.5 566.5,662.5 560.5,660.5 550.5,663.5"/>
<polygon points="546.5,669.5 555.5,666.5 550.5,663.5 540.5,666.5"/>
<polygon points="536.5,673.5 546.5,669.5 540.5,666.5 530.5,669.5"/>
<polygon points="526.5,676.5 536.5,673.5 530.5,669.5 521.5,673.5"/>
<polygon points="518.5,679.5 526.5,676.5 521.5,673.5 510.5,678.5"/>
<polygon points="506.5,685.5 518.5,679.5 510.5,678.5 500.5,681.5"/>
<polygon points="496.5,689.5 506.5,685.5 500.5,681.5 490.5,686.5"/>
<polygon points="486.5,695.5 496.5,689.5 490.5,686.5 480.5,690.5"/>
<polygon points="476.5,698.5 486.5,695.5 480.5,690.5 470.5,695.5"/>
<polygon points="466.5,704.5 476.5,698.5 470.5,695.5 460.5,700.5"/>
<polygon points="456.5,709.5 466.5,704.5 460.5,700.5 450.5,704.5"/>
<polygon points="446.5,713.5 456.5,709.5 450.5,704.5 440.5,709.5"/>
<polygon points="436.5,719.5 446.5,713.5 440.5,709.5 430.5,714.5"/>
<polygon points="426.5,724.5 436.5,719.5 430.5,714.5 420.5,719.5"/>
<polygon points="416.5,729.5 426.5,724.5 420.5,719.5 410.5,725.5"/>
<polygon points="406.5,735.5 416.5,729.5 410.5,725.5 400.5,730.5"/>
<polygon points="396.5,740.5 406.5,735.5 400.5,730.5 390.5,735.5"/>
<polygon points="386.5,745.5 396.5,740.5 390.5,735.5 380.5,741.5"/>
<polygon points="375.5,751.5 386.5,745.5 380.5,741.5 370.5,745.5"/>
<polygon points="366.5,756.5 375.5,751.5 370.5,745.5 361.5,753.5"/>
<polygon points="356.5,762.5 366.5,756.5 361.5,753.5 350.5,756.5"/>
<polygon points="346.5,766.5 356.5,762.5 350.5,756.5 340.5,761.5"/>
<polygon points="335.5,773.5 346.5,766.5 340.5,761.5 330.5,766.5"/>
<polygon points="824.5,641.5 832.5,639.5 826.5,635.5 816.5,639.5"/>
<polygon points="812.5,640.5 824.5,641.5 816.5,639.5 807.5,635.5"/>
<polygon points="802.5,641.5 812.5,640.5 807.5,635.5 797.5,635.5"/>
<polygon points="792.5,640.5 802.5,641.5 797.5,635.5 787.5,636.5"/>
<polygon points="782.5,640.5 792.5,640.5 787.5,636.5 776.5,636.5"/>
<polygon points="771.5,641.5 782.5,640.5 776.5,636.5 766.5,636.5"/>
<polygon points="762.5,641.5 771.5,641.5 766.5,636.5 756.5,636.5"/>
<polygon points="752.5,641.5 762.5,641.5 756.5,636.5 746.5,636.5"/>
<polygon points="742.5,641.5 752.5,641.5 746.5,636.5 736.5,637.5"/>
<polygon points="732.5,642.5 742.5,641.5 736.5,637.5 727.5,637.5"/>
<polygon points="722.5,642.5 732.5,642.5 727.5,637.5 716.5,637.5"/>
<polygon points="712.5,642.5 722.5,642.5 716.5,637.5 706.5,638.5"/>
<polygon points="703.5,643.5 712.5,642.5 706.5,638.5 696.5,639.5"/>
<polygon points="692.5,643.5 703.5,643.5 696.5,639.5 686.5,640.5"/>
<polygon points="682.5,644.5 692.5,643.5 686.5,640.5 676.5,641.5"/>
<polygon points="672.5,645.5 682.5,644.5 676.5,641.5 666.5,641.5"/>
<polygon points="662.5,646.5 672.5,645.5 666.5,641.5 656.5,643.5"/>
<polygon points="652.5,647.5 662.5,646.5 656.5,643.5 646.5,644.5"/>
<polygon points="642.5,649.5 652.5,647.5 646.5,644.5 636.5,646.5"/>
<polygon points="632.5,650.5 642.5,649.5 636.5,646.5 627.5,647.5"/>
<polygon points="622.5,653.5 632.5,650.5 627.5,647.5 616.5,649.5"/>
<polygon points="613.5,660.5 622.5,653.5 616.5,649.5 606.5,651.5"/>
<polygon points="602.5,657.5 613.5,660.5 606.5,651.5 597.5,654.5"/>
<polygon points="592.5,659.5 602.5,657.5 597.5,654.5 586.5,657.5"/>
<polygon points="582.5,663.5 592.5,659.5 586.5,657.5 576.5,659.5"/>
<polygon points="571.5,665.5 582.5,663.5 576.5,659.5 566.5,662.5"/>
<polygon points="562.5,669.5 571.5,665.5 566.5,662.5 555.5,666.5"/>
<polygon points="552.5,672.5 562.5,669.5 555.5,666.5 546.5,669.5"/>
<polygon points="542.5,675.5 552.5,672.5 546.5,669.5 536.5,673.5"/>
<polygon points="532.5,680.5 542.5,675.5 536.5,673.5 526.5,676.5"/>
<polygon points="522.5,684.5 532.5,680.5 526.5,676.5 518.5,679.5"/>
<polygon points="512.5,688.5 522.5,684.5 518.5,679.5 506.5,685.5"/>
<polygon points="502.5,693.5 512.5,688.5 506.5,685.5 496.5,689.5"/>
<polygon points="492.5,697.5 502.5,693.5 496.5,689.5 486.5,695.5"/>
<polygon points="482.5,702.5 492.5,697.5 486.5,695.5 476.5,698.5"/>
<polygon points="472.5,707.5 482.5,702.5 476.5,698.5 466.5,704.5"/>
<polygon points="462.5,712.5 472.5,707.5 466.5,704.5 456.5,709.5"/>
<polygon points="452.5,717.5 462.5,712.5 456.5,709.5 446.5,713.5"/>
<polygon points="442.5,723.5 452.5,717.5 446.5,713.5 436.5,719.5"/>
<polygon points="431.5,728.5 442.5,723.5 436.5,719.5 426.5,724.5"/>
<polygon points="422.5,734.5 431.5,728.5 426.5,724.5 416.5,729.5"/>
<polygon points="412.5,739.5 422.5,734.5 416.5,729.5 406.5,735.5"/>
<polygon points="403.5,746.5 412.5,739.5 406.5,735.5 396.5,740.5"/>
<polygon points="391.5,750.5 403.5,746.5 396.5,740.5 386.5,745.5"/>
<polygon points="381.5,756.5 391.5,750.5 386.5,745.5 375.5,751.5"/>
<polygon points="372.5,762.5 381.5,756.5 375.5,751.5 366.5,756.5"/>
<polygon points="361.5,767.5 372.5,762.5 366.5,756.5 356.5,762.5"/>
<polygon points="352.5,776.5 361.5,767.5 356.5,762.5 346.5,766.5"/>
<polygon points="342.5,778.5 352.5,776.5 346.5,766.5 335.5,773.5"/>
<polygon points="828.5,648.5 838.5,645.5 832.5,639.5 824.5,641.5"/>
<polygon points="818.5,646.5 828.5,648.5 824.5,641.5 812.5,640.5"/>
<polygon points="808.5,646.5 818.5,646.5 812.5,640.5 802.5,641.5"/>
<polygon points="798.5,645.5 808.5,646.5 802.5,641.5 792.5,640.5"/>
<polygon points="788.5,646.5 798.5,645.5 792.5,640.5 782.5,640.5"/>
<polygon points="778.5,646.5 788.5,646.5 782.5,640.5 771.5,641.5"/>
<polygon points="768.5,645.5 778.5,646.5 771.5,641.5 762.5,641.5"/>
<polygon points="757.5,646.5 768.5,645.5 762.5,641.5 752.5,641.5"/>
<polygon points="748.5,646.5 757.5,646.5 752.5,641.5 742.5,641.5"/>
<polygon points="738.5,646.5 748.5,646.5 742.5,641.5 732.5,642.5"/>
<polygon points="728.5,647.5 738.5,646.5 732.5,642.5 722.5,642.5"/>
<polygon points="718.5,648.5 728.5,647.5 722.5,642.5 712.5,642.5"/>
<polygon points="708.5,646.5 718.5,648.5 712.5,642.5 703.5,643.5"/>
<polygon points="698.5,647.5 708.5,646.5 703.5,643.5 692.5,643.5"/>
<polygon points="688.5,647.5 698.5,647.5 692.5,643.5 682.5,644.5"/>
<polygon points="678.5,648.5 688.5,647.5 682.5,644.5 672.5,645.5"/>
<polygon points="668.5,649.5 678.5,648.5 672.5,645.5 662.5,646.5"/>
<polygon points="658.5,651.5 668.5,649.5 662.5,646.5 652.5,647.5"/>
<polygon points="648.5,652.5 658.5,651.5 652.5,647.5 642.5,649.5"/>
<polygon points="637.5,653.5 648.5,652.5 642.5,649.5 632.5,650.5"/>
<polygon points="628.5,655.5 637.5,653.5 632.5,650.5 622.5,653.5"/>
<polygon points="617.5,658.5 628.5,655.5 622.5,653.5 613.5,660.5"/>
<polygon points="608.5,660.5 617.5,658.5 613.5,660.5 602.5,657.5"/>
<polygon points="598.5,662.5 608.5,660.5 602.5,657.5 592.5,659.5"/>
<polygon points="588.5,665.5 598.5,662.5 592.5,659.5 582.5,663.5"/>
<polygon points="578.5,668.5 588.5,665.5 582.5,663.5 571.5,665.5"/>
<polygon points="568.5,671.5 578.5,668.5 571.5,665.5 562.5,669.5"/>
<polygon points="558.5,675.5 568.5,671.5 562.5,669.5 552.5,672.5"/>
<polygon points="548.5,679.5 558.5,675.5 552.5,672.5 542.5,675.5"/>
<polygon points="537.5,682.5 548.5,679.5 542.5,675.5 532.5,680.5"/>
<polygon points="527.5,689.5 537.5,682.5 532.5,680.5 522.5,684.5"/>
<polygon points="517.5,692.5 527.5,689.5 522.5,684.5 512.5,688.5"/>
<polygon points="507.5,696.5 517.5,692.5 512.5,688.5 502.5,693.5"/>
<polygon points="497.5,702.5 507.5,696.5 502.5,693.5 492.5,697.5"/>
<polygon points="487.5,706.5 497.5,702.5 492.5,697.5 482.5,702.5"/>
<polygon points="477.5,711.5 487.5,706.5 482.5,702.5 472.5,707.5"/>
<polygon points="468.5,717.5 477.5,711.5 472.5,707.5 462.5,712.5"/>
<polygon points="457.5,721.5 468.5,717.5 462.5,712.5 452.5,717.5"/>
<polygon points="448.5,728.5 457.5,721.5 452.5,717.5 442.5,723.5"/>
<polygon points="437.5,733.5 448.5,728.5 442.5,723.5 431.5,728.5"/>
<polygon points="427.5,738.5 437.5,733.5 431.5,728.5 422.5,734.5"/>
<polygon points="418.5,744.5 427.5,738.5 422.5,734.5 412.5,739.5"/>
<polygon points="407.5,750.5 418.5,744.5 412.5,739.5 403.5,746.5"/>
<polygon points="397.5,755.5 407.5,750.5 403.5,746.5 391.5,750.5"/>
<polygon points="387.5,761.5 397.5,755.5 391.5,750.5 381.5,756.5"/>
<polygon points="377.5,767.5 387.5,761.5 381.5,756.5 372.5,762.5"/>
<polygon points="367.5,772.5 377.5,767.5 372.5,762.5 361.5,767.5"/>
<polygon points="358.5,778.5 367.5,772.5 361.5,767.5 352.5,776.5"/>
<polygon points="347.5,783.5 358.5,778.5 352.5,776.5 342.5,778.5"/>
<polygon points="834.5,651.5 843.5,651.5 838.5,645.5 828.5,648.5"/>
<polygon points="824.5,651.5 834.5,651.5 828.5,648.5 818.5,646.5"/>
<polygon points="814.5,652.5 824.5,651.5 818.5,646.5 808.5,646.5"/>
<polygon points="804.5,651.5 814.5,652.5 808.5,646.5 798.5,645.5"/>
<polygon points="794.5,651.5 804.5,651.5 798.5,645.5 788.5,646.5"/>
<polygon points="784.5,651.5 794.5,651.5 788.5,646.5 778.5,646.5"/>
<polygon points="774.5,651.5 784.5,651.5 778.5,646.5 768.5,645.5"/>
<polygon points="764.5,650.5 774.5,651.5 768.5,645.5 757.5,646.5"/>
<polygon points="754.5,650.5 764.5,650.5 757.5,646.5 748.5,646.5"/>
<polygon points="744.5,650.5 754.5,650.5 748.5,646.5 738.5,646.5"/>
<polygon points="733.5,650.5 744.5,650.5 738.5,646.5 728.5,647.5"/>
<polygon points="724.5,650.5 733.5,650.5 728.5,647.5 718.5,648.5"/>
<polygon points="714.5,651.5 724.5,650.5 718.5,648.5 708.5,646.5"/>
<polygon points="704.5,650.5 714.5,651.5 708.5,646.5 698.5,647.5"/>
<polygon points="693.5,651.5 704.5,650.5 698.5,647.5 688.5,647.5"/>
<polygon points="684.5,652.5 693.5,651.5 688.5,647.5 678.5,648.5"/>
<polygon points="674.5,652.5 684.5,652.5 678.5,648.5 668.5,649.5"/>
<polygon points="663.5,654.5 674.5,652.5 668.5,649.5 658.5,651.5"/>
<polygon points="653.5,655.5 663.5,654.5 658.5,651.5 648.5,652.5"/>
<polygon points="644.5,656.5 653.5,655.5 648.5,652.5 637.5,653.5"/>
<polygon points="633.5,658.5 644.5,656.5 637.5,653.5 628.5,655.5"/>
<polygon points="624.5,660.5 633.5,658.5 628.5,655.5 617.5,658.5"/>
<polygon points="613.5,662.5 624.5,660.5 617.5,658.5 608.5,660.5"/>
<polygon points="603.5,665.5 613.5,662.5 608.5,660.5 598.5,662.5"/>
<polygon points="593.5,667.5 603.5,665.5 598.5,662.5 588.5,665.5"/>
<polygon points="583.5,671.5 593.5,667.5 588.5,665.5 578.5,668.5"/>
<polygon points="573.5,676.5 583.5,671.5 578.5,668.5 568.5,671.5"/>
<polygon points="563.5,678.5 573.5,676.5 568.5,671.5 558.5,675.5"/>
<polygon points="554.5,681.5 563.5,678.5 558.5,675.5 548.5,679.5"/>
<polygon points="543.5,685.5 554.5,681.5 548.5,679.5 537.5,682.5"/>
<polygon points="533.5,690.5 543.5,685.5 537.5,682.5 527.5,689.5"/>
<polygon points="523.5,695.5 533.5,690.5 527.5,689.5 517.5,692.5"/>
<polygon points="513.5,699.5 523.5,695.5 517.5,692.5 507.5,696.5"/>
<polygon points="503.5,705.5 513.5,699.5 507.5,696.5 497.5,702.5"/>
<polygon points="493.5,708.5 503.5,705.5 497.5,702.5 487.5,706.5"/>
<polygon points="483.5,715.5 493.5,708.5 487.5,706.5 477.5,711.5"/>
<polygon points="473.5,720.5 483.5,715.5 477.5,711.5 468.5,717.5"/>
<polygon points="463.5,726.5 473.5,720.5 468.5,717.5 457.5,721.5"/>
<polygon points="453.5,732.5 463.5,726.5 457.5,721.5 448.5,728.5"/>
<polygon points="443.5,737.5 453.5,732.5 448.5,728.5 437.5,733.5"/>
<polygon points="433.5,743.5 443.5,737.5 437.5,733.5 427.5,738.5"/>
<polygon points="423.5,748.5 433.5,743.5 427.5,738.5 418.5,744.5"/>
<polygon points="413.5,754.5 423.5,748.5 418.5,744.5 407.5,750.5"/>
<polygon points="403.5,761.5 413.5,754.5 407.5,750.5 397.5,755.5"/>
<polygon points="394.5,766.5 403.5,761.5 397.5,755.5 387.5,761.5"/>
<polygon points="383.5,772.5 394.5,766.5 387.5,761.5 377.5,767.5"/>
<polygon points="373.5,778.5 383.5,772.5 377.5,767.5 367.5,772.5"/>
<polygon points="363.5,783.5 373.5,778.5 367.5,772.5 358.5,778.5"/>
<polygon points="354.5,790.5 363.5,783.5 358.5,778.5 347.5,783.5"/>
<polygon points="839.5,657.5 850.5,657.5 843.5,651.5 834.5,651.5"/>
<polygon points="830.5,657.5 839.5,657.5 834.5,651.5 824.5,651.5"/>
<polygon points="820.5,656.5 830.5,657.5 824.5,651.5 814.5,652.5"/>
<polygon points="809.5,656.5 820.5,656.5 814.5,652.5 804.5,651.5"/>
<polygon points="800.5,656.5 809.5,656.5 804.5,651.5 794.5,651.5"/>
<polygon points="790.5,656.5 800.5,656.5 794.5,651.5 784.5,651.5"/>
<polygon points="780.5,657.5 790.5,656.5 784.5,651.5 774.5,651.5"/>
<polygon points="769.5,655.5 780.5,657.5 774.5,651.5 764.5,650.5"/>
<polygon points="759.5,654.5 769.5,655.5 764.5,650.5 754.5,650.5"/>
<polygon points="749.5,654.5 759.5,654.5 754.5,650.5 744.5,650.5"/>
<polygon points="739.5,654.5 749.5,654.5 744.5,650.5 733.5,650.5"/>
<polygon points="729.5,654.5 739.5,654.5 733.5,650.5 724.5,650.5"/>
<polygon points="719.5,655.5 729.5,654.5 724.5,650.5 714.5,651.5"/>
<polygon points="709.5,654.5 719.5,655.5 714.5,651.5 704.5,650.5"/>
<polygon points="699.5,654.5 709.5,654.5 704.5,650.5 693.5,651.5"/>
<polygon points="689.5,655.5 699.5,654.5 693.5,651.5 684.5,652.5"/>
<polygon points="679.5,656.5 689.5,655.5 684.5,652.5 674.5,652.5"/>
<polygon points="669.5,656.5 679.5,656.5 674.5,652.5 663.5,654.5"/>
<polygon points="659.5,658.5 669.5,656.5 663.5,654.5 653.5,655.5"/>
<polygon points="649.5,659.5 659.5,658.5 653.5,655.5 644.5,656.5"/>
<polygon points="639.5,661.5 649.5,659.5 644.5,656.5 633.5,658.5"/>
<polygon points="629.5,662.5 639.5,661.5 633.5,658.5 624.5,660.5"/>
<polygon points="619.5,665.5 629.5,662.5 624.5,660.5 613.5,662.5"/>
<polygon points="609.5,667.5 619.5,665.5 613.5,662.5 603.5,665.5"/>
<polygon points="600.5,671.5 609.5,667.5 603.5,665.5 593.5,667.5"/>
<polygon points="589.5,673.5 600.5,671.5 593.5,667.5 583.5,671.5"/>
<polygon points="579.5,677.5 589.5,673.5 583.5,671.5 573.5,676.5"/>
<polygon points="569.5,680.5 579.5,677.5 573.5,676.5 563.5,678.5"/>
<polygon points="558.5,684.5 569.5,680.5 563.5,678.5 554.5,681.5"/>
<polygon points="549.5,688.5 558.5,684.5 554.5,681.5 543.5,685.5"/>
<polygon points="539.5,693.5 549.5,688.5 543.5,685.5 533.5,690.5"/>
<polygon points="529.5,698.5 539.5,693.5 533.5,690.5 523.5,695.5"/>
<polygon points="519.5,703.5 529.5,698.5 523.5,695.5 513.5,699.5"/>
<polygon points="509.5,708.5 519.5,703.5 513.5,699.5 503.5,705.5"/>
<polygon points="499.5,713.5 509.5,708.5 503.5,705.5 493.5,708.5"/>
<polygon points="489.5,719.5 499.5,713.5 493.5,708.5 483.5,715.5"/>
<polygon points="479.5,724.5 489.5,719.5 483.5,715.5 473.5,720.5"/>
<polygon points="469.5,730.5 479.5,724.5 473.5,720.5 463.5,726.5"/>
<polygon points="459.5,736.5 469.5,730.5 463.5,726.5 453.5,732.5"/>
<polygon points="449.5,741.5 459.5,736.5 453.5,732.5 443.5,737.5"/>
<polygon points="439.5,748.5 449.5,741.5 443.5,737.5 433.5,743.5"/>
<polygon points="429.5,754.5 439.5,748.5 433.5,743.5 423.5,748.5"/>
<polygon points="419.5,760.5 429.5,754.5 423.5,748.5 413.5,754.5"/>
<polygon points="409.5,766.5 419.5,760.5 413.5,754.5 403.5,761.5"/>
<polygon points="398.5,771.5 409.5,766.5 403.5,761.5 394.5,766.5"/>
<polygon points="388.5,778.5 398.5,771.5 394.5,766.5 383.5,772.5"/>
<polygon points="378.5,783.5 388.5,778.5 383.5,772.5 373.5,778.5"/>
<polygon points="367.5,789.5 378.5,783.5 373.5,778.5 363.5,783.5"/>
<polygon points="358.5,794.5 367.5,789.5 363.5,783.5 354.5,790.5"/>
<polygon points="846.5,662.5 855.5,663.5 850.5,657.5 839.5,657.5"/>
<polygon points="835.5,663.5 846.5,662.5 839.5,657.5 830.5,657.5"/>
<polygon points="826.5,662.5 835.5,663.5 830.5,657.5 820.5,656.5"/>
<polygon points="815.5,662.5 826.5,662.5 820.5,656.5 809.5,656.5"/>
<polygon points="805.5,661.5 815.5,662.5 809.5,656.5 800.5,656.5"/>
<polygon points="796.5,661.5 805.5,661.5 800.5,656.5 790.5,656.5"/>
<polygon points="786.5,660.5 796.5,661.5 790.5,656.5 780.5,657.5"/>
<polygon points="775.5,660.5 786.5,660.5 780.5,657.5 769.5,655.5"/>
<polygon points="765.5,660.5 775.5,660.5 769.5,655.5 759.5,654.5"/>
<polygon points="755.5,658.5 765.5,660.5 759.5,654.5 749.5,654.5"/>
<polygon points="745.5,658.5 755.5,658.5 749.5,654.5 739.5,654.5"/>
<polygon points="735.5,658.5 745.5,658.5 739.5,654.5 729.5,654.5"/>
<polygon points="725.5,658.5 735.5,658.5 729.5,654.5 719.5,655.5"/>
<polygon points="715.5,658.5 725.5,658.5 719.5,655.5 709.5,654.5"/>
<polygon points="705.5,658.5 715.5,658.5 709.5,654.5 699.5,654.5"/>
<polygon points="695.5,658.5 705.5,658.5 699.5,654.5 689.5,655.5"/>
<polygon points="685.5,659.5 695.5,658.5 689.5,655.5 679.5,656.5"/>
<polygon points="675.5,659.5 685.5,659.5 679.5,656.5 669.5,656.5"/>
<polygon points="665.5,660.5 675.5,659.5 669.5,656.5 659.5,658.5"/>
<polygon points="655.5,662.5 665.5,660.5 659.5,658.5 649.5,659.5"/>
<polygon points="645.5,663.5 655.5,662.5 649.5,659.5 639.5,661.5"/>
<polygon points="635.5,663.5 645.5,663.5 639.5,661.5 629.5,662.5"/>
<polygon points="625.5,664.5 635.5,663.5 629.5,662.5 619.5,665.5"/>
<polygon points="615.5,670.5 625.5,664.5 619.5,665.5 609.5,667.5"/>
<polygon points="605.5,672.5 615.5,670.5 609.5,667.5 600.5,671.5"/>
<polygon points="594.5,675.5 605.5,672.5 600.5,671.5 589.5,673.5"/>
<polygon points="585.5,679.5 594.5,675.5 589.5,673.5 579.5,677.5"/>
<polygon points="575.5,683.5 585.5,679.5 579.5,677.5 569.5,680.5"/>
<polygon points="565.5,686.5 575.5,683.5 569.5,680.5 558.5,684.5"/>
<polygon points="554.5,691.5 565.5,686.5 558.5,684.5 549.5,688.5"/>
<polygon points="545.5,696.5 554.5,691.5 549.5,688.5 539.5,693.5"/>
<polygon points="534.5,700.5 545.5,696.5 539.5,693.5 529.5,698.5"/>
<polygon points="525.5,706.5 534.5,700.5 529.5,698.5 519.5,703.5"/>
<polygon points="515.5,711.5 525.5,706.5 519.5,703.5 509.5,708.5"/>
<polygon points="505.5,717.5 515.5,711.5 509.5,708.5 499.5,713.5"/>
<polygon points="495.5,722.5 505.5,717.5 499.5,713.5 489.5,719.5"/>
<polygon points="485.5,729.5 495.5,722.5 489.5,719.5 479.5,724.5"/>
<polygon points="475.5,735.5 485.5,729.5 479.5,724.5 469.5,730.5"/>
<polygon points="465.5,740.5 475.5,735.5 469.5,730.5 459.5,736.5"/>
<polygon points="454.5,746.5 465.5,740.5 459.5,736.5 449.5,741.5"/>
<polygon points="444.5,752.5 454.5,746.5 449.5,741.5 439.5,748.5"/>
<polygon points="435.5,758.5 444.5,752.5 439.5,748.5 429.5,754.5"/>
<polygon points="425.5,765.5 435.5,758.5 429.5,754.5 419.5,760.5"/>
<polygon points="415.5,771.5 425.5,765.5 419.5,760.5 409.5,766.5"/>
<polygon points="405.5,777.5 415.5,771.5 409.5,766.5 398.5,771.5"/>
<polygon points="394.5,783.5 405.5,777.5 398.5,771.5 388.5,778.5"/>
<polygon points="384.5,789.5 394.5,783.5 388.5,778.5 378.5,783.5"/>
<polygon points="374.5,794.5 384.5,789.5 378.5,783.5 367.5,789.5"/>
<polygon points="364.5,800.5 374.5,794.5 367.5,789.5 358.5,794.5"/>
<polygon points="851.5,668.5 861.5,668.5 855.5,663.5 846.5,662.5"/>
<polygon points="841.5,668.5 851.5,668.5 846.5,662.5 835.5,663.5"/>
<polygon points="831.5,668.5 841.5,668.5 835.5,663.5 826.5,662.5"/>
<polygon points="821.5,667.5 831.5,668.5 826.5,662.5 815.5,662.5"/>
<polygon points="811.5,666.5 821.5,667.5 815.5,662.5 805.5,661.5"/>
<polygon points="801.5,666.5 811.5,666.5 805.5,661.5 796.5,661.5"/>
<polygon points="791.5,665.5 801.5,666.5 796.5,661.5 786.5,660.5"/>
<polygon points="782.5,662.5 791.5,665.5 786.5,660.5 775.5,660.5"/>
<polygon points="771.5,663.5 782.5,662.5 775.5,660.5 765.5,660.5"/>
<polygon points="761.5,664.5 771.5,663.5 765.5,660.5 755.5,658.5"/>
<polygon points="751.5,663.5 761.5,664.5 755.5,658.5 745.5,658.5"/>
<polygon points="741.5,662.5 751.5,663.5 745.5,658.5 735.5,658.5"/>
<polygon points="731.5,661.5 741.5,662.5 735.5,658.5 725.5,658.5"/>
<polygon points="721.5,661.5 731.5,661.5 725.5,658.5 715.5,658.5"/>
<polygon points="711.5,661.5 721.5,661.5 715.5,658.5 705.5,658.5"/>
<polygon points="701.5,662.5 711.5,661.5 705.5,658.5 695.5,658.5"/>
<polygon points="692.5,662.5 701.5,662.5 695.5,658.5 685.5,659.5"/>
<polygon points="681.5,662.5 692.5,662.5 685.5,659.5 675.5,659.5"/>
<polygon points="671.5,663.5 681.5,662.5 675.5,659.5 665.5,660.5"/>
<polygon points="661.5,665.5 671.5,663.5 665.5,660.5 655.5,662.5"/>
<polygon points="651.5,666.5 661.5,665.5 655.5,662.5 645.5,663.5"/>
<polygon points="641.5,668.5 651.5,666.5 645.5,663.5 635.5,663.5"/>
<polygon points="630.5,671.5 641.5,668.5 635.5,663.5 625.5,664.5"/>
<polygon points="621.5,673.5 630.5,671.5 625.5,664.5 615.5,670.5"/>
<polygon points="611.5,675.5 621.5,673.5 615.5,670.5 605.5,672.5"/>
<polygon points="601.5,678.5 611.5,675.5 605.5,672.5 594.5,675.5"/>
<polygon points="590.5,681.5 601.5,678.5 594.5,675.5 585.5,679.5"/>
<polygon points="580.5,686.5 590.5,681.5 585.5,679.5 575.5,683.5"/>
<polygon points="571.5,689.5 580.5,686.5 575.5,683.5 565.5,686.5"/>
<polygon points="561.5,694.5 571.5,689.5 565.5,686.5 554.5,691.5"/>
<polygon points="551.5,698.5 561.5,694.5 554.5,691.5 545.5,696.5"/>
<polygon points="540.5,704.5 551.5,698.5 545.5,696.5 534.5,700.5"/>
<polygon points="530.5,709.5 540.5,704.5 534.5,700.5 525.5,706.5"/>
<polygon points="520.5,715.5 530.5,709.5 525.5,706.5 515.5,711.5"/>
<polygon points="511.5,720.5 520.5,715.5 515.5,711.5 505.5,717.5"/>
<polygon points="500.5,726.5 511.5,720.5 505.5,717.5 495.5,722.5"/>
<polygon points="491.5,732.5 500.5,726.5 495.5,722.5 485.5,729.5"/>
<polygon points="481.5,738.5 491.5,732.5 485.5,729.5 475.5,735.5"/>
<polygon points="470.5,744.5 481.5,738.5 475.5,735.5 465.5,740.5"/>
<polygon points="461.5,751.5 470.5,744.5 465.5,740.5 454.5,746.5"/>
<polygon points="450.5,758.5 461.5,751.5 454.5,746.5 444.5,752.5"/>
<polygon points="440.5,764.5 450.5,758.5 444.5,752.5 435.5,758.5"/>
<polygon points="430.5,770.5 440.5,764.5 435.5,758.5 425.5,765.5"/>
<polygon points="420.5,776.5 430.5,770.5 425.5,765.5 415.5,771.5"/>
<polygon points="410.5,782.5 420.5,776.5 415.5,771.5 405.5,777.5"/>
<polygon points="400.5,788.5 410.5,782.5 405.5,777.5 394.5,783.5"/>
<polygon points="390.5,795.5 400.5,788.5 394.5,783.5 384.5,789.5"/>
<polygon points="380.5,801.5 390.5,795.5 384.5,789.5 374.5,794.5"/>
<polygon points="370.5,807.5 380.5,801.5 374.5,794.5 364.5,800.5"/>
<polygon points="857.5,674.5 867.5,674.5 861.5,668.5 851.5,668.5"/>
<polygon points="847.5,674.5 857.5,674.5 851.5,668.5 841.5,668.5"/>
<polygon points="837.5,674.5 847.5,674.5 841.5,668.5 831.5,668.5"/>
<polygon points="827.5,673.5 837.5,674.5 831.5,668.5 821.5,667.5"/>
<polygon points="817.5,672.5 827.5,673.5 821.5,667.5 811.5,666.5"/>
<polygon points="807.5,671.5 817.5,672.5 811.5,666.5 801.5,666.5"/>
<polygon points="797.5,671.5 807.5,671.5 801.5,666.5 791.5,665.5"/>
<polygon points="787.5,669.5 797.5,671.5 791.5,665.5 782.5,662.5"/>
<polygon points="777.5,669.5 787.5,669.5 782.5,662.5 771.5,663.5"/>
<polygon points="766.5,668.5 777.5,669.5 771.5,663.5 761.5,664.5"/>
<polygon points="757.5,667.5 766.5,668.5 761.5,664.5 751.5,663.5"/>
<polygon points="747.5,666.5 757.5,667.5 751.5,663.5 741.5,662.5"/>
<polygon points="736.5,665.5 747.5,666.5 741.5,662.5 731.5,661.5"/>
<polygon points="727.5,665.5 736.5,665.5 731.5,661.5 721.5,661.5"/>
<polygon points="716.5,664.5 727.5,665.5 721.5,661.5 711.5,661.5"/>
<polygon points="707.5,665.5 716.5,664.5 711.5,661.5 701.5,662.5"/>
<polygon points="697.5,664.5 707.5,665.5 701.5,662.5 692.5,662.5"/>
<polygon points="687.5,665.5 697.5,664.5 692.5,662.5 681.5,662.5"/>
<polygon points="676.5,665.5 687.5,665.5 681.5,662.5 671.5,663.5"/>
<polygon points="667.5,667.5 676.5,665.5 671.5,663.5 661.5,665.5"/>
<polygon points="656.5,667.5 667.5,667.5 661.5,665.5 651.5,666.5"/>
<polygon points="646.5,669.5 656.5,667.5 651.5,666.5 641.5,668.5"/>
<polygon points="636.5,672.5 646.5,669.5 641.5,668.5 630.5,671.5"/>
<polygon points="626.5,674.5 636.5,672.5 630.5,671.5 621.5,673.5"/>
<polygon points="616.5,677.5 626.5,674.5 621.5,673.5 611.5,675.5"/>
<polygon points="606.5,680.5 616.5,677.5 611.5,675.5 601.5,678.5"/>
<polygon points="597.5,685.5 606.5,680.5 601.5,678.5 590.5,681.5"/>
<polygon points="586.5,688.5 597.5,685.5 590.5,681.5 580.5,686.5"/>
<polygon points="576.5,692.5 586.5,688.5 580.5,686.5 571.5,689.5"/>
<polygon points="566.5,696.5 576.5,692.5 571.5,689.5 561.5,694.5"/>
<polygon points="556.5,701.5 566.5,696.5 561.5,694.5 551.5,698.5"/>
<polygon points="546.5,707.5 556.5,701.5 551.5,698.5 540.5,704.5"/>
<polygon points="536.5,711.5 546.5,707.5 540.5,704.5 530.5,709.5"/>
<polygon points="526.5,718.5 536.5,711.5 530.5,709.5 520.5,715.5"/>
<polygon points="516.5,724.5 526.5,718.5 520.5,715.5 511.5,720.5"/>
<polygon points="507.5,731.5 516.5,724.5 511.5,720.5 500.5,726.5"/>
<polygon points="496.5,736.5 507.5,731.5 500.5,726.5 491.5,732.5"/>
<polygon points="486.5,743.5 496.5,736.5 491.5,732.5 481.5,738.5"/>
<polygon points="476.5,750.5 486.5,743.5 481.5,738.5 470.5,744.5"/>
<polygon points="466.5,756.5 476.5,750.5 470.5,744.5 461.5,751.5"/>
<polygon points="456.5,762.5 466.5,756.5 461.5,751.5 450.5,758.5"/>
<polygon points="446.5,769.5 456.5,762.5 450.5,758.5 440.5,764.5"/>
<polygon points="436.5,775.5 446.5,769.5 440.5,764.5 430.5,770.5"/>
<polygon points="426.5,782.5 436.5,775.5 430.5,770.5 420.5,776.5"/>
<polygon points="416.5,788.5 426.5,782.5 420.5,776.5 410.5,782.5"/>
<polygon points="406.5,794.5 416.5,788.5 410.5,782.5 400.5,788.5"/>
<polygon points="396.5,801.5 406.5,794.5 400.5,788.5 390.5,795.5"/>
<polygon points="386.5,806.5 396.5,801.5 390.5,795.5 380.5,801.5"/>
<polygon points="376.5,812.5 386.5,806.5 380.5,801.5 370.5,807.5"/>
<polygon points="862.5,680.5 872.5,681.5 867.5,674.5 857.5,674.5"/>
<polygon points="853.5,680.5 862.5,680.5 857.5,674.5 847.5,674.5"/>
<polygon points="843.5,677.5 853.5,680.5 847.5,674.5 837.5,674.5"/>
<polygon points="832.5,678.5 843.5,677.5 837.5,674.5 827.5,673.5"/>
<polygon points="822.5,678.5 832.5,678.5 827.5,673.5 817.5,672.5"/>
<polygon points="813.5,677.5 822.5,678.5 817.5,672.5 807.5,671.5"/>
<polygon points="803.5,676.5 813.5,677.5 807.5,671.5 797.5,671.5"/>
<polygon points="793.5,674.5 803.5,676.5 797.5,671.5 787.5,669.5"/>
<polygon points="783.5,674.5 793.5,674.5 787.5,669.5 777.5,669.5"/>
<polygon points="772.5,672.5 783.5,674.5 777.5,669.5 766.5,668.5"/>
<polygon points="763.5,671.5 772.5,672.5 766.5,668.5 757.5,667.5"/>
<polygon points="752.5,670.5 763.5,671.5 757.5,667.5 747.5,666.5"/>
<polygon points="742.5,669.5 752.5,670.5 747.5,666.5 736.5,665.5"/>
<polygon points="732.5,668.5 742.5,669.5 736.5,665.5 727.5,665.5"/>
<polygon points="723.5,669.5 732.5,668.5 727.5,665.5 716.5,664.5"/>
<polygon points="712.5,667.5 723.5,669.5 716.5,664.5 707.5,665.5"/>
<polygon points="702.5,668.5 712.5,667.5 707.5,665.5 697.5,664.5"/>
<polygon points="692.5,668.5 702.5,668.5 697.5,664.5 687.5,665.5"/>
<polygon points="682.5,668.5 692.5,668.5 687.5,665.5 676.5,665.5"/>
<polygon points="672.5,669.5 682.5,668.5 676.5,665.5 667.5,667.5"/>
<polygon points="662.5,670.5 672.5,669.5 667.5,667.5 656.5,667.5"/>
<polygon points="652.5,671.5 662.5,670.5 656.5,667.5 646.5,669.5"/>
<polygon points="642.5,674.5 652.5,671.5 646.5,669.5 636.5,672.5"/>
<polygon points="632.5,676.5 642.5,674.5 636.5,672.5 626.5,674.5"/>
<polygon points="622.5,678.5 632.5,676.5 626.5,674.5 616.5,677.5"/>
<polygon points="612.5,682.5 622.5,678.5 616.5,677.5 606.5,680.5"/>
<polygon points="602.5,689.5 612.5,682.5 606.5,680.5 597.5,685.5"/>
<polygon points="592.5,690.5 602.5,689.5 597.5,685.5 586.5,688.5"/>
<polygon points="582.5,695.5 592.5,690.5 586.5,688.5 576.5,692.5"/>
<polygon points="572.5,699.5 582.5,695.5 576.5,692.5 566.5,696.5"/>
<polygon points="562.5,703.5 572.5,699.5 566.5,696.5 556.5,701.5"/>
<polygon points="552.5,709.5 562.5,703.5 556.5,701.5 546.5,707.5"/>
<polygon points="542.5,715.5 552.5,709.5 546.5,707.5 536.5,711.5"/>
<polygon points="532.5,721.5 542.5,715.5 536.5,711.5 526.5,718.5"/>
<polygon points="521.5,726.5 532.5,721.5 526.5,718.5 516.5,724.5"/>
<polygon points="512.5,734.5 521.5,726.5 516.5,724.5 507.5,731.5"/>
<polygon points="502.5,740.5 512.5,734.5 507.5,731.5 496.5,736.5"/>
<polygon points="492.5,748.5 502.5,740.5 496.5,736.5 486.5,743.5"/>
<polygon points="482.5,754.5 492.5,748.5 486.5,743.5 476.5,750.5"/>
<polygon points="472.5,761.5 482.5,754.5 476.5,750.5 466.5,756.5"/>
<polygon points="462.5,767.5 472.5,761.5 466.5,756.5 456.5,762.5"/>
<polygon points="451.5,774.5 462.5,767.5 456.5,762.5 446.5,769.5"/>
<polygon points="442.5,782.5 451.5,774.5 446.5,769.5 436.5,775.5"/>
<polygon points="431.5,787.5 442.5,782.5 436.5,775.5 426.5,782.5"/>
<polygon points="422.5,794.5 431.5,787.5 426.5,782.5 416.5,788.5"/>
<polygon points="412.5,800.5 422.5,794.5 416.5,788.5 406.5,794.5"/>
<polygon points="402.5,806.5 412.5,800.5 406.5,794.5 396.5,801.5"/>
<polygon points="392.5,812.5 402.5,806.5 396.5,801.5 386.5,806.5"/>
<polygon points="381.5,818.5 392.5,812.5 386.5,806.5 376.5,812.5"/>
<polygon points="868.5,687.5 879.5,687.5 872.5,681.5 862.5,680.5"/>
<polygon points="859.5,686.5 868.5,687.5 862.5,680.5 853.5,680.5"/>
<polygon points="848.5,686.5 859.5,686.5 853.5,680.5 843.5,677.5"/>
<polygon points="838.5,685.5 848.5,686.5 843.5,677.5 832.5,678.5"/>
<polygon points="828.5,683.5 838.5,685.5 832.5,678.5 822.5,678.5"/>
<polygon points="818.5,682.5 828.5,683.5 822.5,678.5 813.5,677.5"/>
<polygon points="808.5,681.5 818.5,682.5 813.5,677.5 803.5,676.5"/>
<polygon points="798.5,680.5 808.5,681.5 803.5,676.5 793.5,674.5"/>
<polygon points="789.5,679.5 798.5,680.5 793.5,674.5 783.5,674.5"/>
<polygon points="778.5,678.5 789.5,679.5 783.5,674.5 772.5,672.5"/>
<polygon points="768.5,676.5 778.5,678.5 772.5,672.5 763.5,671.5"/>
<polygon points="758.5,674.5 768.5,676.5 763.5,671.5 752.5,670.5"/>
<polygon points="748.5,673.5 758.5,674.5 752.5,670.5 742.5,669.5"/>
<polygon points="738.5,673.5 748.5,673.5 742.5,669.5 732.5,668.5"/>
<polygon points="726.5,672.5 738.5,673.5 732.5,668.5 723.5,669.5"/>
<polygon points="718.5,670.5 726.5,672.5 723.5,669.5 712.5,667.5"/>
<polygon points="708.5,670.5 718.5,670.5 712.5,667.5 702.5,668.5"/>
<polygon points="698.5,670.5 708.5,670.5 702.5,668.5 692.5,668.5"/>
<polygon points="688.5,670.5 698.5,670.5 692.5,668.5 682.5,668.5"/>
<polygon points="678.5,671.5 688.5,670.5 682.5,668.5 672.5,669.5"/>
<polygon points="668.5,673.5 678.5,671.5 672.5,669.5 662.5,670.5"/>
<polygon points="658.5,673.5 668.5,673.5 662.5,670.5 652.5,671.5"/>
<polygon points="647.5,674.5 658.5,673.5 652.5,671.5 642.5,674.5"/>
<polygon points="638.5,678.5 647.5,674.5 642.5,674.5 632.5,676.5"/>
<polygon points="628.5,681.5 638.5,678.5 632.5,676.5 622.5,678.5"/>
<polygon points="618.5,683.5 628.5,681.5 622.5,678.5 612.5,682.5"/>
<polygon points="608.5,688.5 618.5,683.5 612.5,682.5 602.5,689.5"/>
<polygon points="598.5,691.5 608.5,688.5 602.5,689.5 592.5,690.5"/>
<polygon points="588.5,696.5 598.5,691.5 592.5,690.5 582.5,695.5"/>
<polygon points="578.5,700.5 588.5,696.5 582.5,695.5 572.5,699.5"/>
<polygon points="568.5,707.5 578.5,700.5 572.5,699.5 562.5,703.5"/>
<polygon points="558.5,712.5 568.5,707.5 562.5,703.5 552.5,709.5"/>
<polygon points="547.5,718.5 558.5,712.5 552.5,709.5 542.5,715.5"/>
<polygon points="538.5,725.5 547.5,718.5 542.5,715.5 532.5,721.5"/>
<polygon points="528.5,731.5 538.5,725.5 532.5,721.5 521.5,726.5"/>
<polygon points="518.5,738.5 528.5,731.5 521.5,726.5 512.5,734.5"/>
<polygon points="508.5,745.5 518.5,738.5 512.5,734.5 502.5,740.5"/>
<polygon points="498.5,752.5 508.5,745.5 502.5,740.5 492.5,748.5"/>
<polygon points="488.5,758.5 498.5,752.5 492.5,748.5 482.5,754.5"/>
<polygon points="478.5,766.5 488.5,758.5 482.5,754.5 472.5,761.5"/>
<polygon points="468.5,772.5 478.5,766.5 472.5,761.5 462.5,767.5"/>
<polygon points="458.5,779.5 468.5,772.5 462.5,767.5 451.5,774.5"/>
<polygon points="447.5,787.5 458.5,779.5 451.5,774.5 442.5,782.5"/>
<polygon points="438.5,793.5 447.5,787.5 442.5,782.5 431.5,787.5"/>
<polygon points="427.5,800.5 438.5,793.5 431.5,787.5 422.5,794.5"/>
<polygon points="417.5,806.5 427.5,800.5 422.5,794.5 412.5,800.5"/>
<polygon points="408.5,813.5 417.5,806.5 412.5,800.5 402.5,806.5"/>
<polygon points="397.5,819.5 408.5,813.5 402.5,806.5 392.5,812.5"/>
<polygon points="387.5,824.5 397.5,819.5 392.5,812.5 381.5,818.5"/>
<polygon points="874.5,693.5 884.5,693.5 879.5,687.5 868.5,687.5"/>
<polygon points="864.5,692.5 874.5,693.5 868.5,687.5 859.5,686.5"/>
<polygon points="854.5,691.5 864.5,692.5 859.5,686.5 848.5,686.5"/>
<polygon points="844.5,691.5 854.5,691.5 848.5,686.5 838.5,685.5"/>
<polygon points="834.5,690.5 844.5,691.5 838.5,685.5 828.5,683.5"/>
<polygon points="824.5,688.5 834.5,690.5 828.5,683.5 818.5,682.5"/>
<polygon points="814.5,687.5 824.5,688.5 818.5,682.5 808.5,681.5"/>
<polygon points="804.5,684.5 814.5,687.5 808.5,681.5 798.5,680.5"/>
<polygon points="794.5,683.5 804.5,684.5 798.5,680.5 789.5,679.5"/>
<polygon points="784.5,682.5 794.5,683.5 789.5,679.5 778.5,678.5"/>
<polygon points="774.5,680.5 784.5,682.5 778.5,678.5 768.5,676.5"/>
<polygon points="764.5,681.5 774.5,680.5 768.5,676.5 758.5,674.5"/>
<polygon points="754.5,677.5 764.5,681.5 758.5,674.5 748.5,673.5"/>
<polygon points="744.5,676.5 754.5,677.5 748.5,673.5 738.5,673.5"/>
<polygon points="734.5,674.5 744.5,676.5 738.5,673.5 726.5,672.5"/>
<polygon points="725.5,671.5 734.5,674.5 726.5,672.5 718.5,670.5"/>
<polygon points="714.5,673.5 725.5,671.5 718.5,670.5 708.5,670.5"/>
<polygon points="704.5,673.5 714.5,673.5 708.5,670.5 698.5,670.5"/>
<polygon points="694.5,672.5 704.5,673.5 698.5,670.5 688.5,670.5"/>
<polygon points="684.5,673.5 694.5,672.5 688.5,670.5 678.5,671.5"/>
<polygon points="674.5,674.5 684.5,673.5 678.5,671.5 668.5,673.5"/>
<polygon points="664.5,675.5 674.5,674.5 668.5,673.5 658.5,673.5"/>
<polygon points="654.5,677.5 664.5,675.5 658.5,673.5 647.5,674.5"/>
<polygon points="643.5,680.5 654.5,677.5 647.5,674.5 638.5,678.5"/>
<polygon points="633.5,682.5 643.5,680.5 638.5,678.5 628.5,681.5"/>
<polygon points="623.5,685.5 633.5,682.5 628.5,681.5 618.5,683.5"/>
<polygon points="613.5,690.5 623.5,685.5 618.5,683.5 608.5,688.5"/>
<polygon points="603.5,693.5 613.5,690.5 608.5,688.5 598.5,691.5"/>
<polygon points="593.5,698.5 603.5,693.5 598.5,691.5 588.5,696.5"/>
<polygon points="584.5,703.5 593.5,698.5 588.5,696.5 578.5,700.5"/>
<polygon points="574.5,709.5 584.5,703.5 578.5,700.5 568.5,707.5"/>
<polygon points="564.5,715.5 574.5,709.5 568.5,707.5 558.5,712.5"/>
<polygon points="554.5,720.5 564.5,715.5 558.5,712.5 547.5,718.5"/>
<polygon points="544.5,728.5 554.5,720.5 547.5,718.5 538.5,725.5"/>
<polygon points="533.5,731.5 544.5,728.5 538.5,725.5 528.5,731.5"/>
<polygon points="524.5,742.5 533.5,731.5 528.5,731.5 518.5,738.5"/>
<polygon points="513.5,749.5 524.5,742.5 518.5,738.5 508.5,745.5"/>
<polygon points="503.5,756.5 513.5,749.5 508.5,745.5 498.5,752.5"/>
<polygon points="494.5,763.5 503.5,756.5 498.5,752.5 488.5,758.5"/>
<polygon points="483.5,770.5 494.5,763.5 488.5,758.5 478.5,766.5"/>
<polygon points="474.5,778.5 483.5,770.5 478.5,766.5 468.5,772.5"/>
<polygon points="463.5,784.5 474.5,778.5 468.5,772.5 458.5,779.5"/>
<polygon points="453.5,792.5 463.5,784.5 458.5,779.5 447.5,787.5"/>
<polygon points="443.5,800.5 453.5,792.5 447.5,787.5 438.5,793.5"/>
<polygon points="433.5,806.5 443.5,800.5 438.5,793.5 427.5,800.5"/>
<polygon points="423.5,812.5 433.5,806.5 427.5,800.5 417.5,806.5"/>
<polygon points="413.5,818.5 423.5,812.5 417.5,806.5 408.5,813.5"/>
<polygon points="403.5,825.5 413.5,818.5 408.5,813.5 397.5,819.5"/>
<polygon points="392.5,833.5 403.5,825.5 397.5,819.5 387.5,824.5"/>
<polygon points="880.5,700.5 889.5,699.5 884.5,693.5 874.5,693.5"/>
<polygon points="870.5,699.5 880.5,700.5 874.5,693.5 864.5,692.5"/>
<polygon points="860.5,698.5 870.5,699.5 864.5,692.5 854.5,691.5"/>
<polygon points="850.5,697.5 860.5,698.5 854.5,691.5 844.5,691.5"/>
<polygon points="839.5,696.5 850.5,697.5 844.5,691.5 834.5,690.5"/>
<polygon points="830.5,694.5 839.5,696.5 834.5,690.5 824.5,688.5"/>
<polygon points="820.5,692.5 830.5,694.5 824.5,688.5 814.5,687.5"/>
<polygon points="809.5,691.5 820.5,692.5 814.5,687.5 804.5,684.5"/>
<polygon points="799.5,689.5 809.5,691.5 804.5,684.5 794.5,683.5"/>
<polygon points="790.5,687.5 799.5,689.5 794.5,683.5 784.5,682.5"/>
<polygon points="780.5,685.5 790.5,687.5 784.5,682.5 774.5,680.5"/>
<polygon points="770.5,683.5 780.5,685.5 774.5,680.5 764.5,681.5"/>
<polygon points="759.5,682.5 770.5,683.5 764.5,681.5 754.5,677.5"/>
<polygon points="749.5,678.5 759.5,682.5 754.5,677.5 744.5,676.5"/>
<polygon points="740.5,678.5 749.5,678.5 744.5,676.5 734.5,674.5"/>
<polygon points="730.5,676.5 740.5,678.5 734.5,674.5 725.5,671.5"/>
<polygon points="720.5,676.5 730.5,676.5 725.5,671.5 714.5,673.5"/>
<polygon points="710.5,675.5 720.5,676.5 714.5,673.5 704.5,673.5"/>
<polygon points="699.5,675.5 710.5,675.5 704.5,673.5 694.5,672.5"/>
<polygon points="689.5,675.5 699.5,675.5 694.5,672.5 684.5,673.5"/>
<polygon points="679.5,675.5 689.5,675.5 684.5,673.5 674.5,674.5"/>
<polygon points="670.5,677.5 679.5,675.5 674.5,674.5 664.5,675.5"/>
<polygon points="659.5,679.5 670.5,677.5 664.5,675.5 654.5,677.5"/>
<polygon points="649.5,681.5 659.5,679.5 654.5,677.5 643.5,680.5"/>
<polygon points="639.5,684.5 649.5,681.5 643.5,680.5 633.5,682.5"/>
<polygon points="629.5,687.5 639.5,684.5 633.5,682.5 623.5,685.5"/>
<polygon points="619.5,691.5 629.5,687.5 623.5,685.5 613.5,690.5"/>
<polygon points="609.5,696.5 619.5,691.5 613.5,690.5 603.5,693.5"/>
<polygon points="599.5,700.5 609.5,696.5 603.5,693.5 593.5,698.5"/>
<polygon points="589.5,706.5 599.5,700.5 593.5,698.5 584.5,703.5"/>
<polygon points="579.5,710.5 589.5,706.5 584.5,703.5 574.5,709.5"/>
<polygon points="570.5,718.5 579.5,710.5 574.5,709.5 564.5,715.5"/>
<polygon points="559.5,725.5 570.5,718.5 564.5,715.5 554.5,720.5"/>
<polygon points="549.5,731.5 559.5,725.5 554.5,720.5 544.5,728.5"/>
<polygon points="539.5,739.5 549.5,731.5 544.5,728.5 533.5,731.5"/>
<polygon points="529.5,745.5 539.5,739.5 533.5,731.5 524.5,742.5"/>
<polygon points="519.5,753.5 529.5,745.5 524.5,742.5 513.5,749.5"/>
<polygon points="509.5,760.5 519.5,753.5 513.5,749.5 503.5,756.5"/>
<polygon points="499.5,768.5 509.5,760.5 503.5,756.5 494.5,763.5"/>
<polygon points="489.5,776.5 499.5,768.5 494.5,763.5 483.5,770.5"/>
<polygon points="479.5,783.5 489.5,776.5 483.5,770.5 474.5,778.5"/>
<polygon points="469.5,791.5 479.5,783.5 474.5,778.5 463.5,784.5"/>
<polygon points="459.5,798.5 469.5,791.5 463.5,784.5 453.5,792.5"/>
<polygon points="449.5,805.5 459.5,798.5 453.5,792.5 443.5,800.5"/>
<polygon points="439.5,812.5 449.5,805.5 443.5,800.5 433.5,806.5"/>
<polygon points="428.5,820.5 439.5,812.5 433.5,806.5 423.5,812.5"/>
<polygon points="419.5,826.5 428.5,820.5 423.5,812.5 413.5,818.5"/>
<polygon points="409.5,832.5 419.5,826.5 413.5,818.5 403.5,825.5"/>
<polygon points="399.5,837.5 409.5,832.5 403.5,825.5 392.5,833.5"/>
<polygon points="886.5,706.5 896.5,706.5 889.5,699.5 880.5,700.5"/>
<polygon points="875.5,706.5 886.5,706.5 880.5,700.5 870.5,699.5"/>
<polygon points="865.5,704.5 875.5,706.5 870.5,699.5 860.5,698.5"/>
<polygon points="856.5,703.5 865.5,704.5 860.5,698.5 850.5,697.5"/>
<polygon points="846.5,702.5 856.5,703.5 850.5,697.5 839.5,696.5"/>
<polygon points="835.5,700.5 846.5,702.5 839.5,696.5 830.5,694.5"/>
<polygon points="825.5,698.5 835.5,700.5 830.5,694.5 820.5,692.5"/>
<polygon points="816.5,697.5 825.5,698.5 820.5,692.5 809.5,691.5"/>
<polygon points="805.5,694.5 816.5,697.5 809.5,691.5 799.5,689.5"/>
<polygon points="795.5,692.5 805.5,694.5 799.5,689.5 790.5,687.5"/>
<polygon points="785.5,690.5 795.5,692.5 790.5,687.5 780.5,685.5"/>
<polygon points="775.5,688.5 785.5,690.5 780.5,685.5 770.5,683.5"/>
<polygon points="765.5,685.5 775.5,688.5 770.5,683.5 759.5,682.5"/>
<polygon points="756.5,683.5 765.5,685.5 759.5,682.5 749.5,678.5"/>
<polygon points="745.5,681.5 756.5,683.5 749.5,678.5 740.5,678.5"/>
<polygon points="736.5,680.5 745.5,681.5 740.5,678.5 730.5,676.5"/>
<polygon points="725.5,679.5 736.5,680.5 730.5,676.5 720.5,676.5"/>
<polygon points="715.5,677.5 725.5,679.5 720.5,676.5 710.5,675.5"/>
<polygon points="705.5,677.5 715.5,677.5 710.5,675.5 699.5,675.5"/>
<polygon points="695.5,677.5 705.5,677.5 699.5,675.5 689.5,675.5"/>
<polygon points="685.5,677.5 695.5,677.5 689.5,675.5 679.5,675.5"/>
<polygon points="675.5,678.5 685.5,677.5 679.5,675.5 670.5,677.5"/>
<polygon points="665.5,680.5 675.5,678.5 670.5,677.5 659.5,679.5"/>
<polygon points="655.5,682.5 665.5,680.5 659.5,679.5 649.5,681.5"/>
<polygon points="645.5,685.5 655.5,682.5 649.5,681.5 639.5,684.5"/>
<polygon points="635.5,688.5 645.5,685.5 639.5,684.5 629.5,687.5"/>
<polygon points="625.5,692.5 635.5,688.5 629.5,687.5 619.5,691.5"/>
<polygon points="615.5,697.5 625.5,692.5 619.5,691.5 609.5,696.5"/>
<polygon points="605.5,702.5 615.5,697.5 609.5,696.5 599.5,700.5"/>
<polygon points="595.5,708.5 605.5,702.5 599.5,700.5 589.5,706.5"/>
<polygon points="585.5,714.5 595.5,708.5 589.5,706.5 579.5,710.5"/>
<polygon points="575.5,721.5 585.5,714.5 579.5,710.5 570.5,718.5"/>
<polygon points="565.5,728.5 575.5,721.5 570.5,718.5 559.5,725.5"/>
<polygon points="555.5,734.5 565.5,728.5 559.5,725.5 549.5,731.5"/>
<polygon points="545.5,742.5 555.5,734.5 549.5,731.5 539.5,739.5"/>
<polygon points="535.5,750.5 545.5,742.5 539.5,739.5 529.5,745.5"/>
<polygon points="525.5,757.5 535.5,750.5 529.5,745.5 519.5,753.5"/>
<polygon points="515.5,766.5 525.5,757.5 519.5,753.5 509.5,760.5"/>
<polygon points="505.5,774.5 515.5,766.5 509.5,760.5 499.5,768.5"/>
<polygon points="495.5,781.5 505.5,774.5 499.5,768.5 489.5,776.5"/>
<polygon points="485.5,790.5 495.5,781.5 489.5,776.5 479.5,783.5"/>
<polygon points="475.5,797.5 485.5,790.5 479.5,783.5 469.5,791.5"/>
<polygon points="465.5,804.5 475.5,797.5 469.5,791.5 459.5,798.5"/>
<polygon points="455.5,811.5 465.5,804.5 459.5,798.5 449.5,805.5"/>
<polygon points="446.5,822.5 455.5,811.5 449.5,805.5 439.5,812.5"/>
<polygon points="435.5,825.5 446.5,822.5 439.5,812.5 428.5,820.5"/>
<polygon points="425.5,832.5 435.5,825.5 428.5,820.5 419.5,826.5"/>
<polygon points="415.5,838.5 425.5,832.5 419.5,826.5 409.5,832.5"/>
<polygon points="405.5,844.5 415.5,838.5 409.5,832.5 399.5,837.5"/>
<polygon points="891.5,712.5 901.5,713.5 896.5,706.5 886.5,706.5"/>
<polygon points="882.5,714.5 891.5,712.5 886.5,706.5 875.5,706.5"/>
<polygon points="872.5,711.5 882.5,714.5 875.5,706.5 865.5,704.5"/>
<polygon points="861.5,710.5 872.5,711.5 865.5,704.5 856.5,703.5"/>
<polygon points="851.5,708.5 861.5,710.5 856.5,703.5 846.5,702.5"/>
<polygon points="841.5,707.5 851.5,708.5 846.5,702.5 835.5,700.5"/>
<polygon points="831.5,704.5 841.5,707.5 835.5,700.5 825.5,698.5"/>
<polygon points="821.5,702.5 831.5,704.5 825.5,698.5 816.5,697.5"/>
<polygon points="812.5,701.5 821.5,702.5 816.5,697.5 805.5,694.5"/>
<polygon points="801.5,697.5 812.5,701.5 805.5,694.5 795.5,692.5"/>
<polygon points="792.5,694.5 801.5,697.5 795.5,692.5 785.5,690.5"/>
<polygon points="781.5,692.5 792.5,694.5 785.5,690.5 775.5,688.5"/>
<polygon points="771.5,689.5 781.5,692.5 775.5,688.5 765.5,685.5"/>
<polygon points="761.5,687.5 771.5,689.5 765.5,685.5 756.5,683.5"/>
<polygon points="751.5,684.5 761.5,687.5 756.5,683.5 745.5,681.5"/>
<polygon points="741.5,683.5 751.5,684.5 745.5,681.5 736.5,680.5"/>
<polygon points="731.5,681.5 741.5,683.5 736.5,680.5 725.5,679.5"/>
<polygon points="721.5,679.5 731.5,681.5 725.5,679.5 715.5,677.5"/>
<polygon points="711.5,679.5 721.5,679.5 715.5,677.5 705.5,677.5"/>
<polygon points="701.5,678.5 711.5,679.5 705.5,677.5 695.5,677.5"/>
<polygon points="691.5,679.5 701.5,678.5 695.5,677.5 685.5,677.5"/>
<polygon points="681.5,680.5 691.5,679.5 685.5,677.5 675.5,678.5"/>
<polygon points="671.5,681.5 681.5,680.5 675.5,678.5 665.5,680.5"/>
<polygon points="661.5,683.5 671.5,681.5 665.5,680.5 655.5,682.5"/>
<polygon points="651.5,686.5 661.5,683.5 655.5,682.5 645.5,685.5"/>
<polygon points="641.5,689.5 651.5,686.5 645.5,685.5 635.5,688.5"/>
<polygon points="631.5,693.5 641.5,689.5 635.5,688.5 625.5,692.5"/>
<polygon points="621.5,698.5 631.5,693.5 625.5,692.5 615.5,697.5"/>
<polygon points="611.5,704.5 621.5,698.5 615.5,697.5 605.5,702.5"/>
<polygon points="601.5,710.5 611.5,704.5 605.5,702.5 595.5,708.5"/>
<polygon points="591.5,716.5 601.5,710.5 595.5,708.5 585.5,714.5"/>
<polygon points="581.5,722.5 591.5,716.5 585.5,714.5 575.5,721.5"/>
<polygon points="571.5,730.5 581.5,722.5 575.5,721.5 565.5,728.5"/>
<polygon points="560.5,738.5 571.5,730.5 565.5,728.5 555.5,734.5"/>
<polygon points="551.5,747.5 560.5,738.5 555.5,734.5 545.5,742.5"/>
<polygon points="541.5,754.5 551.5,747.5 545.5,742.5 535.5,750.5"/>
<polygon points="531.5,762.5 541.5,754.5 535.5,750.5 525.5,757.5"/>
<polygon points="521.5,767.5 531.5,762.5 525.5,757.5 515.5,766.5"/>
<polygon points="510.5,779.5 521.5,767.5 515.5,766.5 505.5,774.5"/>
<polygon points="501.5,787.5 510.5,779.5 505.5,774.5 495.5,781.5"/>
<polygon points="491.5,795.5 501.5,787.5 495.5,781.5 485.5,790.5"/>
<polygon points="481.5,803.5 491.5,795.5 485.5,790.5 475.5,797.5"/>
<polygon points="471.5,810.5 481.5,803.5 475.5,797.5 465.5,804.5"/>
<polygon points="460.5,818.5 471.5,810.5 465.5,804.5 455.5,811.5"/>
<polygon points="449.5,823.5 460.5,818.5 455.5,811.5 446.5,822.5"/>
<polygon points="440.5,832.5 449.5,823.5 446.5,822.5 435.5,825.5"/>
<polygon points="431.5,838.5 440.5,832.5 435.5,825.5 425.5,832.5"/>
<polygon points="420.5,845.5 431.5,838.5 425.5,832.5 415.5,838.5"/>
<polygon points="411.5,850.5 420.5,845.5 415.5,838.5 405.5,844.5"/>
<polygon points="897.5,719.5 907.5,719.5 901.5,713.5 891.5,712.5"/>
<polygon points="887.5,720.5 897.5,719.5 891.5,712.5 882.5,714.5"/>
<polygon points="877.5,718.5 887.5,720.5 882.5,714.5 872.5,711.5"/>
<polygon points="867.5,717.5 877.5,718.5 872.5,711.5 861.5,710.5"/>
<polygon points="857.5,715.5 867.5,717.5 861.5,710.5 851.5,708.5"/>
<polygon points="847.5,714.5 857.5,715.5 851.5,708.5 841.5,707.5"/>
<polygon points="837.5,711.5 847.5,714.5 841.5,707.5 831.5,704.5"/>
<polygon points="827.5,708.5 837.5,711.5 831.5,704.5 821.5,702.5"/>
<polygon points="817.5,705.5 827.5,708.5 821.5,702.5 812.5,701.5"/>
<polygon points="807.5,703.5 817.5,705.5 812.5,701.5 801.5,697.5"/>
<polygon points="797.5,700.5 807.5,703.5 801.5,697.5 792.5,694.5"/>
<polygon points="787.5,698.5 797.5,700.5 792.5,694.5 781.5,692.5"/>
<polygon points="777.5,694.5 787.5,698.5 781.5,692.5 771.5,689.5"/>
<polygon points="767.5,691.5 777.5,694.5 771.5,689.5 761.5,687.5"/>
<polygon points="757.5,688.5 767.5,691.5 761.5,687.5 751.5,684.5"/>
<polygon points="747.5,686.5 757.5,688.5 751.5,684.5 741.5,683.5"/>
<polygon points="736.5,686.5 747.5,686.5 741.5,683.5 731.5,681.5"/>
<polygon points="727.5,682.5 736.5,686.5 731.5,681.5 721.5,679.5"/>
<polygon points="717.5,680.5 727.5,682.5 721.5,679.5 711.5,679.5"/>
<polygon points="706.5,680.5 717.5,680.5 711.5,679.5 701.5,678.5"/>
<polygon points="697.5,680.5 706.5,680.5 701.5,678.5 691.5,679.5"/>
<polygon points="687.5,681.5 697.5,680.5 691.5,679.5 681.5,680.5"/>
<polygon points="677.5,682.5 687.5,681.5 681.5,680.5 671.5,681.5"/>
<polygon points="666.5,683.5 677.5,682.5 671.5,681.5 661.5,683.5"/>
<polygon points="657.5,686.5 666.5,683.5 661.5,683.5 651.5,686.5"/>
<polygon points="647.5,689.5 657.5,686.5 651.5,686.5 641.5,689.5"/>
<polygon points="637.5,694.5 647.5,689.5 641.5,689.5 631.5,693.5"/>
<polygon points="627.5,699.5 637.5,694.5 631.5,693.5 621.5,698.5"/>
<polygon points="617.5,705.5 627.5,699.5 621.5,698.5 611.5,704.5"/>
<polygon points="607.5,712.5 617.5,705.5 611.5,704.5 601.5,710.5"/>
<polygon points="596.5,718.5 607.5,712.5 601.5,710.5 591.5,716.5"/>
<polygon points="586.5,725.5 596.5,718.5 591.5,716.5 581.5,722.5"/>
<polygon points="576.5,733.5 586.5,725.5 581.5,722.5 571.5,730.5"/>
<polygon points="567.5,738.5 576.5,733.5 571.5,730.5 560.5,738.5"/>
<polygon points="556.5,750.5 567.5,738.5 560.5,738.5 551.5,747.5"/>
<polygon points="547.5,758.5 556.5,750.5 551.5,747.5 541.5,754.5"/>
<polygon points="536.5,767.5 547.5,758.5 541.5,754.5 531.5,762.5"/>
<polygon points="527.5,775.5 536.5,767.5 531.5,762.5 521.5,767.5"/>
<polygon points="516.5,785.5 527.5,775.5 521.5,767.5 510.5,779.5"/>
<polygon points="507.5,793.5 516.5,785.5 510.5,779.5 501.5,787.5"/>
<polygon points="496.5,801.5 507.5,793.5 501.5,787.5 491.5,795.5"/>
<polygon points="486.5,809.5 496.5,801.5 491.5,795.5 481.5,803.5"/>
<polygon points="476.5,817.5 486.5,809.5 481.5,803.5 471.5,810.5"/>
<polygon points="465.5,827.5 476.5,817.5 471.5,810.5 460.5,818.5"/>
<polygon points="456.5,831.5 465.5,827.5 460.5,818.5 449.5,823.5"/>
<polygon points="446.5,839.5 456.5,831.5 449.5,823.5 440.5,832.5"/>
<polygon points="436.5,845.5 446.5,839.5 440.5,832.5 431.5,838.5"/>
<polygon points="426.5,852.5 436.5,845.5 431.5,838.5 420.5,845.5"/>
<polygon points="416.5,857.5 426.5,852.5 420.5,845.5 411.5,850.5"/>
<polygon points="903.5,727.5 913.5,726.5 907.5,719.5 897.5,719.5"/>
<polygon points="893.5,726.5 903.5,727.5 897.5,719.5 887.5,720.5"/>
<polygon points="882.5,725.5 893.5,726.5 887.5,720.5 877.5,718.5"/>
<polygon points="873.5,723.5 882.5,725.5 877.5,718.5 867.5,717.5"/>
<polygon points="863.5,722.5 873.5,723.5 867.5,717.5 857.5,715.5"/>
<polygon points="853.5,720.5 863.5,722.5 857.5,715.5 847.5,714.5"/>
<polygon points="843.5,717.5 853.5,720.5 847.5,714.5 837.5,711.5"/>
<polygon points="832.5,715.5 843.5,717.5 837.5,711.5 827.5,708.5"/>
<polygon points="823.5,712.5 832.5,715.5 827.5,708.5 817.5,705.5"/>
<polygon points="813.5,708.5 823.5,712.5 817.5,705.5 807.5,703.5"/>
<polygon points="803.5,706.5 813.5,708.5 807.5,703.5 797.5,700.5"/>
<polygon points="793.5,701.5 803.5,706.5 797.5,700.5 787.5,698.5"/>
<polygon points="783.5,699.5 793.5,701.5 787.5,698.5 777.5,694.5"/>
<polygon points="772.5,695.5 783.5,699.5 777.5,694.5 767.5,691.5"/>
<polygon points="762.5,692.5 772.5,695.5 767.5,691.5 757.5,688.5"/>
<polygon points="752.5,689.5 762.5,692.5 757.5,688.5 747.5,686.5"/>
<polygon points="743.5,685.5 752.5,689.5 747.5,686.5 736.5,686.5"/>
<polygon points="732.5,683.5 743.5,685.5 736.5,686.5 727.5,682.5"/>
<polygon points="722.5,682.5 732.5,683.5 727.5,682.5 717.5,680.5"/>
<polygon points="713.5,676.5 722.5,682.5 717.5,680.5 706.5,680.5"/>
<polygon points="703.5,681.5 713.5,676.5 706.5,680.5 697.5,680.5"/>
<polygon points="692.5,681.5 703.5,681.5 697.5,680.5 687.5,681.5"/>
<polygon points="683.5,682.5 692.5,681.5 687.5,681.5 677.5,682.5"/>
<polygon points="673.5,684.5 683.5,682.5 677.5,682.5 666.5,683.5"/>
<polygon points="662.5,686.5 673.5,684.5 666.5,683.5 657.5,686.5"/>
<polygon points="652.5,690.5 662.5,686.5 657.5,686.5 647.5,689.5"/>
<polygon points="642.5,695.5 652.5,690.5 647.5,689.5 637.5,694.5"/>
<polygon points="632.5,701.5 642.5,695.5 637.5,694.5 627.5,699.5"/>
<polygon points="622.5,707.5 632.5,701.5 627.5,699.5 617.5,705.5"/>
<polygon points="612.5,713.5 622.5,707.5 617.5,705.5 607.5,712.5"/>
<polygon points="602.5,721.5 612.5,713.5 607.5,712.5 596.5,718.5"/>
<polygon points="592.5,728.5 602.5,721.5 596.5,718.5 586.5,725.5"/>
<polygon points="582.5,737.5 592.5,728.5 586.5,725.5 576.5,733.5"/>
<polygon points="572.5,745.5 582.5,737.5 576.5,733.5 567.5,738.5"/>
<polygon points="562.5,754.5 572.5,745.5 567.5,738.5 556.5,750.5"/>
<polygon points="553.5,763.5 562.5,754.5 556.5,750.5 547.5,758.5"/>
<polygon points="542.5,772.5 553.5,763.5 547.5,758.5 536.5,767.5"/>
<polygon points="532.5,781.5 542.5,772.5 536.5,767.5 527.5,775.5"/>
<polygon points="522.5,790.5 532.5,781.5 527.5,775.5 516.5,785.5"/>
<polygon points="512.5,799.5 522.5,790.5 516.5,785.5 507.5,793.5"/>
<polygon points="502.5,808.5 512.5,799.5 507.5,793.5 496.5,801.5"/>
<polygon points="492.5,816.5 502.5,808.5 496.5,801.5 486.5,809.5"/>
<polygon points="482.5,824.5 492.5,816.5 486.5,809.5 476.5,817.5"/>
<polygon points="472.5,832.5 482.5,824.5 476.5,817.5 465.5,827.5"/>
<polygon points="462.5,839.5 472.5,832.5 465.5,827.5 456.5,831.5"/>
<polygon points="452.5,845.5 462.5,839.5 456.5,831.5 446.5,839.5"/>
<polygon points="441.5,853.5 452.5,845.5 446.5,839.5 436.5,845.5"/>
<polygon points="432.5,858.5 441.5,853.5 436.5,845.5 426.5,852.5"/>
<polygon points="422.5,864.5 432.5,858.5 426.5,852.5 416.5,857.5"/>
<polygon points="910.5,734.5 919.5,733.5 913.5,726.5 903.5,727.5"/>
<polygon points="898.5,733.5 910.5,734.5 903.5,727.5 893.5,726.5"/>
<polygon points="889.5,732.5 898.5,733.5 893.5,726.5 882.5,725.5"/>
<polygon points="878.5,730.5 889.5,732.5 882.5,725.5 873.5,723.5"/>
<polygon points="868.5,729.5 878.5,730.5 873.5,723.5 863.5,722.5"/>
<polygon points="858.5,726.5 868.5,729.5 863.5,722.5 853.5,720.5"/>
<polygon points="848.5,724.5 858.5,726.5 853.5,720.5 843.5,717.5"/>
<polygon points="838.5,721.5 848.5,724.5 843.5,717.5 832.5,715.5"/>
<polygon points="829.5,718.5 838.5,721.5 832.5,715.5 823.5,712.5"/>
<polygon points="819.5,715.5 829.5,718.5 823.5,712.5 813.5,708.5"/>
<polygon points="808.5,711.5 819.5,715.5 813.5,708.5 803.5,706.5"/>
<polygon points="798.5,707.5 808.5,711.5 803.5,706.5 793.5,701.5"/>
<polygon points="788.5,702.5 798.5,707.5 793.5,701.5 783.5,699.5"/>
<polygon points="778.5,700.5 788.5,702.5 783.5,699.5 772.5,695.5"/>
<polygon points="768.5,696.5 778.5,700.5 772.5,695.5 762.5,692.5"/>
<polygon points="758.5,692.5 768.5,696.5 762.5,692.5 752.5,689.5"/>
<polygon points="748.5,688.5 758.5,692.5 752.5,689.5 743.5,685.5"/>
<polygon points="738.5,686.5 748.5,688.5 743.5,685.5 732.5,683.5"/>
<polygon points="728.5,683.5 738.5,686.5 732.5,683.5 722.5,682.5"/>
<polygon points="718.5,682.5 728.5,683.5 722.5,682.5 713.5,676.5"/>
<polygon points="708.5,681.5 718.5,682.5 713.5,676.5 703.5,681.5"/>
<polygon points="698.5,681.5 708.5,681.5 703.5,681.5 692.5,681.5"/>
<polygon points="688.5,681.5 698.5,681.5 692.5,681.5 683.5,682.5"/>
<polygon points="678.5,684.5 688.5,681.5 683.5,682.5 673.5,684.5"/>
<polygon points="668.5,686.5 678.5,684.5 673.5,684.5 662.5,686.5"/>
<polygon points="658.5,691.5 668.5,686.5 662.5,686.5 652.5,690.5"/>
<polygon points="648.5,695.5 658.5,691.5 652.5,690.5 642.5,695.5"/>
<polygon points="638.5,701.5 648.5,695.5 642.5,695.5 632.5,701.5"/>
<polygon points="628.5,707.5 638.5,701.5 632.5,701.5 622.5,707.5"/>
<polygon points="618.5,714.5 628.5,707.5 622.5,707.5 612.5,713.5"/>
<polygon points="608.5,722.5 618.5,714.5 612.5,713.5 602.5,721.5"/>
<polygon points="597.5,729.5 608.5,722.5 602.5,721.5 592.5,728.5"/>
<polygon points="588.5,742.5 597.5,729.5 592.5,728.5 582.5,737.5"/>
<polygon points="578.5,749.5 588.5,742.5 582.5,737.5 572.5,745.5"/>
<polygon points="568.5,757.5 578.5,749.5 572.5,745.5 562.5,754.5"/>
<polygon points="558.5,768.5 568.5,757.5 562.5,754.5 553.5,763.5"/>
<polygon points="548.5,778.5 558.5,768.5 553.5,763.5 542.5,772.5"/>
<polygon points="538.5,787.5 548.5,778.5 542.5,772.5 532.5,781.5"/>
<polygon points="528.5,796.5 538.5,787.5 532.5,781.5 522.5,790.5"/>
<polygon points="520.5,804.5 528.5,796.5 522.5,790.5 512.5,799.5"/>
<polygon points="508.5,814.5 520.5,804.5 512.5,799.5 502.5,808.5"/>
<polygon points="498.5,823.5 508.5,814.5 502.5,808.5 492.5,816.5"/>
<polygon points="488.5,830.5 498.5,823.5 492.5,816.5 482.5,824.5"/>
<polygon points="478.5,838.5 488.5,830.5 482.5,824.5 472.5,832.5"/>
<polygon points="468.5,846.5 478.5,838.5 472.5,832.5 462.5,839.5"/>
<polygon points="458.5,853.5 468.5,846.5 462.5,839.5 452.5,845.5"/>
<polygon points="448.5,859.5 458.5,853.5 452.5,845.5 441.5,853.5"/>
<polygon points="438.5,865.5 448.5,859.5 441.5,853.5 432.5,858.5"/>
<polygon points="428.5,871.5 438.5,865.5 432.5,858.5 422.5,864.5"/>
<polygon points="914.5,740.5 924.5,740.5 919.5,733.5 910.5,734.5"/>
<polygon points="904.5,740.5 914.5,740.5 910.5,734.5 898.5,733.5"/>
<polygon points="894.5,739.5 904.5,740.5 898.5,733.5 889.5,732.5"/>
<polygon points="884.5,737.5 894.5,739.5 889.5,732.5 878.5,730.5"/>
<polygon points="874.5,736.5 884.5,737.5 878.5,730.5 868.5,729.5"/>
<polygon points="864.5,734.5 874.5,736.5 868.5,729.5 858.5,726.5"/>
<polygon points="854.5,734.5 864.5,734.5 858.5,726.5 848.5,724.5"/>
<polygon points="844.5,728.5 854.5,734.5 848.5,724.5 838.5,721.5"/>
<polygon points="834.5,724.5 844.5,728.5 838.5,721.5 829.5,718.5"/>
<polygon points="824.5,721.5 834.5,724.5 829.5,718.5 819.5,715.5"/>
<polygon points="814.5,717.5 824.5,721.5 819.5,715.5 808.5,711.5"/>
<polygon points="804.5,713.5 814.5,717.5 808.5,711.5 798.5,707.5"/>
<polygon points="794.5,708.5 804.5,713.5 798.5,707.5 788.5,702.5"/>
<polygon points="784.5,703.5 794.5,708.5 788.5,702.5 778.5,700.5"/>
<polygon points="774.5,699.5 784.5,703.5 778.5,700.5 768.5,696.5"/>
<polygon points="764.5,695.5 774.5,699.5 768.5,696.5 758.5,692.5"/>
<polygon points="754.5,691.5 764.5,695.5 758.5,692.5 748.5,688.5"/>
<polygon points="744.5,688.5 754.5,691.5 748.5,688.5 738.5,686.5"/>
<polygon points="734.5,684.5 744.5,688.5 738.5,686.5 728.5,683.5"/>
<polygon points="724.5,684.5 734.5,684.5 728.5,683.5 718.5,682.5"/>
<polygon points="714.5,681.5 724.5,684.5 718.5,682.5 708.5,681.5"/>
<polygon points="704.5,681.5 714.5,681.5 708.5,681.5 698.5,681.5"/>
<polygon points="694.5,681.5 704.5,681.5 698.5,681.5 688.5,681.5"/>
<polygon points="684.5,684.5 694.5,681.5 688.5,681.5 678.5,684.5"/>
<polygon points="674.5,686.5 684.5,684.5 678.5,684.5 668.5,686.5"/>
<polygon points="663.5,686.5 674.5,686.5 668.5,686.5 658.5,691.5"/>
<polygon points="653.5,695.5 663.5,686.5 658.5,691.5 648.5,695.5"/>
<polygon points="644.5,701.5 653.5,695.5 648.5,695.5 638.5,701.5"/>
<polygon points="634.5,708.5 644.5,701.5 638.5,701.5 628.5,707.5"/>
<polygon points="624.5,715.5 634.5,708.5 628.5,707.5 618.5,714.5"/>
<polygon points="614.5,724.5 624.5,715.5 618.5,714.5 608.5,722.5"/>
<polygon points="604.5,733.5 614.5,724.5 608.5,722.5 597.5,729.5"/>
<polygon points="594.5,743.5 604.5,733.5 597.5,729.5 588.5,742.5"/>
<polygon points="584.5,752.5 594.5,743.5 588.5,742.5 578.5,749.5"/>
<polygon points="574.5,763.5 584.5,752.5 578.5,749.5 568.5,757.5"/>
<polygon points="563.5,772.5 574.5,763.5 568.5,757.5 558.5,768.5"/>
<polygon points="553.5,783.5 563.5,772.5 558.5,768.5 548.5,778.5"/>
<polygon points="543.5,792.5 553.5,783.5 548.5,778.5 538.5,787.5"/>
<polygon points="533.5,802.5 543.5,792.5 538.5,787.5 528.5,796.5"/>
<polygon points="524.5,812.5 533.5,802.5 528.5,796.5 520.5,804.5"/>
<polygon points="514.5,821.5 524.5,812.5 520.5,804.5 508.5,814.5"/>
<polygon points="503.5,829.5 514.5,821.5 508.5,814.5 498.5,823.5"/>
<polygon points="493.5,837.5 503.5,829.5 498.5,823.5 488.5,830.5"/>
<polygon points="483.5,845.5 493.5,837.5 488.5,830.5 478.5,838.5"/>
<polygon points="473.5,852.5 483.5,845.5 478.5,838.5 468.5,846.5"/>
<polygon points="464.5,860.5 473.5,852.5 468.5,846.5 458.5,853.5"/>
<polygon points="453.5,866.5 464.5,860.5 458.5,853.5 448.5,859.5"/>
<polygon points="443.5,872.5 453.5,866.5 448.5,859.5 438.5,865.5"/>
<polygon points="433.5,878.5 443.5,872.5 438.5,865.5 428.5,871.5"/>
<polygon points="920.5,747.5 930.5,747.5 924.5,740.5 914.5,740.5"/>
<polygon points="910.5,747.5 920.5,747.5 914.5,740.5 904.5,740.5"/>
<polygon points="899.5,746.5 910.5,747.5 904.5,740.5 894.5,739.5"/>
<polygon points="890.5,745.5 899.5,746.5 894.5,739.5 884.5,737.5"/>
<polygon points="880.5,743.5 890.5,745.5 884.5,737.5 874.5,736.5"/>
<polygon points="870.5,742.5 880.5,743.5 874.5,736.5 864.5,734.5"/>
<polygon points="860.5,739.5 870.5,742.5 864.5,734.5 854.5,734.5"/>
<polygon points="850.5,735.5 860.5,739.5 854.5,734.5 844.5,728.5"/>
<polygon points="840.5,731.5 850.5,735.5 844.5,728.5 834.5,724.5"/>
<polygon points="830.5,727.5 840.5,731.5 834.5,724.5 824.5,721.5"/>
<polygon points="820.5,723.5 830.5,727.5 824.5,721.5 814.5,717.5"/>
<polygon points="810.5,718.5 820.5,723.5 814.5,717.5 804.5,713.5"/>
<polygon points="800.5,714.5 810.5,718.5 804.5,713.5 794.5,708.5"/>
<polygon points="790.5,708.5 800.5,714.5 794.5,708.5 784.5,703.5"/>
<polygon points="780.5,703.5 790.5,708.5 784.5,703.5 774.5,699.5"/>
<polygon points="770.5,698.5 780.5,703.5 774.5,699.5 764.5,695.5"/>
<polygon points="760.5,693.5 770.5,698.5 764.5,695.5 754.5,691.5"/>
<polygon points="750.5,690.5 760.5,693.5 754.5,691.5 744.5,688.5"/>
<polygon points="740.5,686.5 750.5,690.5 744.5,688.5 734.5,684.5"/>
<polygon points="730.5,683.5 740.5,686.5 734.5,684.5 724.5,684.5"/>
<polygon points="720.5,682.5 730.5,683.5 724.5,684.5 714.5,681.5"/>
<polygon points="710.5,681.5 720.5,682.5 714.5,681.5 704.5,681.5"/>
<polygon points="700.5,681.5 710.5,681.5 704.5,681.5 694.5,681.5"/>
<polygon points="690.5,683.5 700.5,681.5 694.5,681.5 684.5,684.5"/>
<polygon points="680.5,686.5 690.5,683.5 684.5,684.5 674.5,686.5"/>
<polygon points="670.5,690.5 680.5,686.5 674.5,686.5 663.5,686.5"/>
<polygon points="659.5,695.5 670.5,690.5 663.5,686.5 653.5,695.5"/>
<polygon points="649.5,701.5 659.5,695.5 653.5,695.5 644.5,701.5"/>
<polygon points="640.5,708.5 649.5,701.5 644.5,701.5 634.5,708.5"/>
<polygon points="629.5,716.5 640.5,708.5 634.5,708.5 624.5,715.5"/>
<polygon points="620.5,726.5 629.5,716.5 624.5,715.5 614.5,724.5"/>
<polygon points="609.5,735.5 620.5,726.5 614.5,724.5 604.5,733.5"/>
<polygon points="599.5,746.5 609.5,735.5 604.5,733.5 594.5,743.5"/>
<polygon points="589.5,757.5 599.5,746.5 594.5,743.5 584.5,752.5"/>
<polygon points="580.5,767.5 589.5,757.5 584.5,752.5 574.5,763.5"/>
<polygon points="570.5,778.5 580.5,767.5 574.5,763.5 563.5,772.5"/>
<polygon points="559.5,788.5 570.5,778.5 563.5,772.5 553.5,783.5"/>
<polygon points="549.5,799.5 559.5,788.5 553.5,783.5 543.5,792.5"/>
<polygon points="540.5,810.5 549.5,799.5 543.5,792.5 533.5,802.5"/>
<polygon points="529.5,819.5 540.5,810.5 533.5,802.5 524.5,812.5"/>
<polygon points="519.5,828.5 529.5,819.5 524.5,812.5 514.5,821.5"/>
<polygon points="510.5,837.5 519.5,828.5 514.5,821.5 503.5,829.5"/>
<polygon points="499.5,845.5 510.5,837.5 503.5,829.5 493.5,837.5"/>
<polygon points="489.5,853.5 499.5,845.5 493.5,837.5 483.5,845.5"/>
<polygon points="479.5,860.5 489.5,853.5 483.5,845.5 473.5,852.5"/>
<polygon points="469.5,867.5 479.5,860.5 473.5,852.5 464.5,860.5"/>
<polygon points="459.5,873.5 469.5,867.5 464.5,860.5 453.5,866.5"/>
<polygon points="449.5,879.5 459.5,873.5 453.5,866.5 443.5,872.5"/>
<polygon points="439.5,884.5 449.5,879.5 443.5,872.5 433.5,878.5"/>
<polygon points="926.5,754.5 936.5,753.5 930.5,747.5 920.5,747.5"/>
<polygon points="916.5,754.5 926.5,754.5 920.5,747.5 910.5,747.5"/>
<polygon points="906.5,755.5 916.5,754.5 910.5,747.5 899.5,746.5"/>
<polygon points="896.5,752.5 906.5,755.5 899.5,746.5 890.5,745.5"/>
<polygon points="886.5,751.5 896.5,752.5 890.5,745.5 880.5,743.5"/>
<polygon points="876.5,748.5 886.5,751.5 880.5,743.5 870.5,742.5"/>
<polygon points="866.5,746.5 876.5,748.5 870.5,742.5 860.5,739.5"/>
<polygon points="856.5,743.5 866.5,746.5 860.5,739.5 850.5,735.5"/>
<polygon points="845.5,738.5 856.5,743.5 850.5,735.5 840.5,731.5"/>
<polygon points="836.5,735.5 845.5,738.5 840.5,731.5 830.5,727.5"/>
<polygon points="826.5,729.5 836.5,735.5 830.5,727.5 820.5,723.5"/>
<polygon points="815.5,724.5 826.5,729.5 820.5,723.5 810.5,718.5"/>
<polygon points="806.5,718.5 815.5,724.5 810.5,718.5 800.5,714.5"/>
<polygon points="796.5,714.5 806.5,718.5 800.5,714.5 790.5,708.5"/>
<polygon points="786.5,707.5 796.5,714.5 790.5,708.5 780.5,703.5"/>
<polygon points="775.5,702.5 786.5,707.5 780.5,703.5 770.5,698.5"/>
<polygon points="766.5,696.5 775.5,702.5 770.5,698.5 760.5,693.5"/>
<polygon points="756.5,691.5 766.5,696.5 760.5,693.5 750.5,690.5"/>
<polygon points="746.5,687.5 756.5,691.5 750.5,690.5 740.5,686.5"/>
<polygon points="735.5,684.5 746.5,687.5 740.5,686.5 730.5,683.5"/>
<polygon points="725.5,681.5 735.5,684.5 730.5,683.5 720.5,682.5"/>
<polygon points="715.5,680.5 725.5,681.5 720.5,682.5 710.5,681.5"/>
<polygon points="706.5,680.5 715.5,680.5 710.5,681.5 700.5,681.5"/>
<polygon points="695.5,682.5 706.5,680.5 700.5,681.5 690.5,683.5"/>
<polygon points="686.5,684.5 695.5,682.5 690.5,683.5 680.5,686.5"/>
<polygon points="675.5,688.5 686.5,684.5 680.5,686.5 670.5,690.5"/>
<polygon points="665.5,694.5 675.5,688.5 670.5,690.5 659.5,695.5"/>
<polygon points="655.5,701.5 665.5,694.5 659.5,695.5 649.5,701.5"/>
<polygon points="645.5,709.5 655.5,701.5 649.5,701.5 640.5,708.5"/>
<polygon points="635.5,716.5 645.5,709.5 640.5,708.5 629.5,716.5"/>
<polygon points="625.5,728.5 635.5,716.5 629.5,716.5 620.5,726.5"/>
<polygon points="613.5,742.5 625.5,728.5 620.5,726.5 609.5,735.5"/>
<polygon points="605.5,749.5 613.5,742.5 609.5,735.5 599.5,746.5"/>
<polygon points="595.5,761.5 605.5,749.5 599.5,746.5 589.5,757.5"/>
<polygon points="585.5,772.5 595.5,761.5 589.5,757.5 580.5,767.5"/>
<polygon points="573.5,782.5 585.5,772.5 580.5,767.5 570.5,778.5"/>
<polygon points="565.5,795.5 573.5,782.5 570.5,778.5 559.5,788.5"/>
<polygon points="555.5,806.5 565.5,795.5 559.5,788.5 549.5,799.5"/>
<polygon points="545.5,816.5 555.5,806.5 549.5,799.5 540.5,810.5"/>
<polygon points="535.5,826.5 545.5,816.5 540.5,810.5 529.5,819.5"/>
<polygon points="525.5,836.5 535.5,826.5 529.5,819.5 519.5,828.5"/>
<polygon points="515.5,844.5 525.5,836.5 519.5,828.5 510.5,837.5"/>
<polygon points="505.5,853.5 515.5,844.5 510.5,837.5 499.5,845.5"/>
<polygon points="495.5,861.5 505.5,853.5 499.5,845.5 489.5,853.5"/>
<polygon points="485.5,867.5 495.5,861.5 489.5,853.5 479.5,860.5"/>
<polygon points="475.5,874.5 485.5,867.5 479.5,860.5 469.5,867.5"/>
<polygon points="465.5,880.5 475.5,874.5 469.5,867.5 459.5,873.5"/>
<polygon points="455.5,886.5 465.5,880.5 459.5,873.5 449.5,879.5"/>
<polygon points="445.5,891.5 455.5,886.5 449.5,879.5 439.5,884.5"/>
<polygon points="931.5,764.5 941.5,760.5 936.5,753.5 926.5,754.5"/>
<polygon points="922.5,761.5 931.5,764.5 926.5,754.5 916.5,754.5"/>
<polygon points="911.5,761.5 922.5,761.5 916.5,754.5 906.5,755.5"/>
<polygon points="902.5,761.5 911.5,761.5 906.5,755.5 896.5,752.5"/>
<polygon points="892.5,758.5 902.5,761.5 896.5,752.5 886.5,751.5"/>
<polygon points="882.5,756.5 892.5,758.5 886.5,751.5 876.5,748.5"/>
<polygon points="871.5,754.5 882.5,756.5 876.5,748.5 866.5,746.5"/>
<polygon points="861.5,751.5 871.5,754.5 866.5,746.5 856.5,743.5"/>
<polygon points="851.5,747.5 861.5,751.5 856.5,743.5 845.5,738.5"/>
<polygon points="841.5,742.5 851.5,747.5 845.5,738.5 836.5,735.5"/>
<polygon points="831.5,737.5 841.5,742.5 836.5,735.5 826.5,729.5"/>
<polygon points="821.5,731.5 831.5,737.5 826.5,729.5 815.5,724.5"/>
<polygon points="811.5,725.5 821.5,731.5 815.5,724.5 806.5,718.5"/>
<polygon points="801.5,718.5 811.5,725.5 806.5,718.5 796.5,714.5"/>
<polygon points="791.5,712.5 801.5,718.5 796.5,714.5 786.5,707.5"/>
<polygon points="781.5,705.5 791.5,712.5 786.5,707.5 775.5,702.5"/>
<polygon points="771.5,699.5 781.5,705.5 775.5,702.5 766.5,696.5"/>
<polygon points="761.5,693.5 771.5,699.5 766.5,696.5 756.5,691.5"/>
<polygon points="751.5,688.5 761.5,693.5 756.5,691.5 746.5,687.5"/>
<polygon points="741.5,684.5 751.5,688.5 746.5,687.5 735.5,684.5"/>
<polygon points="731.5,681.5 741.5,684.5 735.5,684.5 725.5,681.5"/>
<polygon points="721.5,679.5 731.5,681.5 725.5,681.5 715.5,680.5"/>
<polygon points="711.5,678.5 721.5,679.5 715.5,680.5 706.5,680.5"/>
<polygon points="701.5,680.5 711.5,678.5 706.5,680.5 695.5,682.5"/>
<polygon points="691.5,682.5 701.5,680.5 695.5,682.5 686.5,684.5"/>
<polygon points="681.5,687.5 691.5,682.5 686.5,684.5 675.5,688.5"/>
<polygon points="671.5,693.5 681.5,687.5 675.5,688.5 665.5,694.5"/>
<polygon points="661.5,701.5 671.5,693.5 665.5,694.5 655.5,701.5"/>
<polygon points="651.5,709.5 661.5,701.5 655.5,701.5 645.5,709.5"/>
<polygon points="641.5,719.5 651.5,709.5 645.5,709.5 635.5,716.5"/>
<polygon points="630.5,730.5 641.5,719.5 635.5,716.5 625.5,728.5"/>
<polygon points="621.5,741.5 630.5,730.5 625.5,728.5 613.5,742.5"/>
<polygon points="611.5,753.5 621.5,741.5 613.5,742.5 605.5,749.5"/>
<polygon points="601.5,765.5 611.5,753.5 605.5,749.5 595.5,761.5"/>
<polygon points="591.5,778.5 601.5,765.5 595.5,761.5 585.5,772.5"/>
<polygon points="581.5,789.5 591.5,778.5 585.5,772.5 573.5,782.5"/>
<polygon points="571.5,801.5 581.5,789.5 573.5,782.5 565.5,795.5"/>
<polygon points="561.5,812.5 571.5,801.5 565.5,795.5 555.5,806.5"/>
<polygon points="551.5,823.5 561.5,812.5 555.5,806.5 545.5,816.5"/>
<polygon points="541.5,833.5 551.5,823.5 545.5,816.5 535.5,826.5"/>
<polygon points="531.5,843.5 541.5,833.5 535.5,826.5 525.5,836.5"/>
<polygon points="522.5,853.5 531.5,843.5 525.5,836.5 515.5,844.5"/>
<polygon points="511.5,860.5 522.5,853.5 515.5,844.5 505.5,853.5"/>
<polygon points="501.5,868.5 511.5,860.5 505.5,853.5 495.5,861.5"/>
<polygon points="491.5,875.5 501.5,868.5 495.5,861.5 485.5,867.5"/>
<polygon points="481.5,882.5 491.5,875.5 485.5,867.5 475.5,874.5"/>
<polygon points="470.5,887.5 481.5,882.5 475.5,874.5 465.5,880.5"/>
<polygon points="461.5,892.5 470.5,887.5 465.5,880.5 455.5,886.5"/>
<polygon points="451.5,898.5 461.5,892.5 455.5,886.5 445.5,891.5"/>
<polygon points="937.5,767.5 947.5,767.5 941.5,760.5 931.5,764.5"/>
<polygon points="928.5,768.5 937.5,767.5 931.5,764.5 922.5,761.5"/>
<polygon points="918.5,769.5 928.5,768.5 922.5,761.5 911.5,761.5"/>
<polygon points="907.5,767.5 918.5,769.5 911.5,761.5 902.5,761.5"/>
<polygon points="897.5,766.5 907.5,767.5 902.5,761.5 892.5,758.5"/>
<polygon points="888.5,764.5 897.5,766.5 892.5,758.5 882.5,756.5"/>
<polygon points="878.5,762.5 888.5,764.5 882.5,756.5 871.5,754.5"/>
<polygon points="867.5,759.5 878.5,762.5 871.5,754.5 861.5,751.5"/>
<polygon points="856.5,755.5 867.5,759.5 861.5,751.5 851.5,747.5"/>
<polygon points="847.5,750.5 856.5,755.5 851.5,747.5 841.5,742.5"/>
<polygon points="837.5,745.5 847.5,750.5 841.5,742.5 831.5,737.5"/>
<polygon points="827.5,738.5 837.5,745.5 831.5,737.5 821.5,731.5"/>
<polygon points="817.5,731.5 827.5,738.5 821.5,731.5 811.5,725.5"/>
<polygon points="807.5,724.5 817.5,731.5 811.5,725.5 801.5,718.5"/>
<polygon points="797.5,717.5 807.5,724.5 801.5,718.5 791.5,712.5"/>
<polygon points="787.5,709.5 797.5,717.5 791.5,712.5 781.5,705.5"/>
<polygon points="777.5,701.5 787.5,709.5 781.5,705.5 771.5,699.5"/>
<polygon points="767.5,694.5 777.5,701.5 771.5,699.5 761.5,693.5"/>
<polygon points="757.5,689.5 767.5,694.5 761.5,693.5 751.5,688.5"/>
<polygon points="747.5,684.5 757.5,689.5 751.5,688.5 741.5,684.5"/>
<polygon points="737.5,679.5 747.5,684.5 741.5,684.5 731.5,681.5"/>
<polygon points="727.5,678.5 737.5,679.5 731.5,681.5 721.5,679.5"/>
<polygon points="717.5,677.5 727.5,678.5 721.5,679.5 711.5,678.5"/>
<polygon points="707.5,678.5 717.5,677.5 711.5,678.5 701.5,680.5"/>
<polygon points="697.5,681.5 707.5,678.5 701.5,680.5 691.5,682.5"/>
<polygon points="687.5,685.5 697.5,681.5 691.5,682.5 681.5,687.5"/>
<polygon points="677.5,691.5 687.5,685.5 681.5,687.5 671.5,693.5"/>
<polygon points="668.5,697.5 677.5,691.5 671.5,693.5 661.5,701.5"/>
<polygon points="657.5,709.5 668.5,697.5 661.5,701.5 651.5,709.5"/>
<polygon points="647.5,720.5 657.5,709.5 651.5,709.5 641.5,719.5"/>
<polygon points="637.5,734.5 647.5,720.5 641.5,719.5 630.5,730.5"/>
<polygon points="626.5,744.5 637.5,734.5 630.5,730.5 621.5,741.5"/>
<polygon points="617.5,757.5 626.5,744.5 621.5,741.5 611.5,753.5"/>
<polygon points="607.5,770.5 617.5,757.5 611.5,753.5 601.5,765.5"/>
<polygon points="597.5,783.5 607.5,770.5 601.5,765.5 591.5,778.5"/>
<polygon points="587.5,796.5 597.5,783.5 591.5,778.5 581.5,789.5"/>
<polygon points="576.5,808.5 587.5,796.5 581.5,789.5 571.5,801.5"/>
<polygon points="566.5,820.5 576.5,808.5 571.5,801.5 561.5,812.5"/>
<polygon points="556.5,831.5 566.5,820.5 561.5,812.5 551.5,823.5"/>
<polygon points="547.5,842.5 556.5,831.5 551.5,823.5 541.5,833.5"/>
<polygon points="536.5,851.5 547.5,842.5 541.5,833.5 531.5,843.5"/>
<polygon points="526.5,859.5 536.5,851.5 531.5,843.5 522.5,853.5"/>
<polygon points="516.5,869.5 526.5,859.5 522.5,853.5 511.5,860.5"/>
<polygon points="506.5,876.5 516.5,869.5 511.5,860.5 501.5,868.5"/>
<polygon points="497.5,882.5 506.5,876.5 501.5,868.5 491.5,875.5"/>
<polygon points="487.5,889.5 497.5,882.5 491.5,875.5 481.5,882.5"/>
<polygon points="476.5,894.5 487.5,889.5 481.5,882.5 470.5,887.5"/>
<polygon points="467.5,899.5 476.5,894.5 470.5,887.5 461.5,892.5"/>
<polygon points="456.5,904.5 467.5,899.5 461.5,892.5 451.5,898.5"/>
<polygon points="943.5,773.5 953.5,773.5 947.5,767.5 937.5,767.5"/>
<polygon points="933.5,774.5 943.5,773.5 937.5,767.5 928.5,768.5"/>
<polygon points="923.5,775.5 933.5,774.5 928.5,768.5 918.5,769.5"/>
<polygon points="913.5,775.5 923.5,775.5 918.5,769.5 907.5,767.5"/>
<polygon points="903.5,774.5 913.5,775.5 907.5,767.5 897.5,766.5"/>
<polygon points="893.5,772.5 903.5,774.5 897.5,766.5 888.5,764.5"/>
<polygon points="884.5,770.5 893.5,772.5 888.5,764.5 878.5,762.5"/>
<polygon points="873.5,767.5 884.5,770.5 878.5,762.5 867.5,759.5"/>
<polygon points="863.5,762.5 873.5,767.5 867.5,759.5 856.5,755.5"/>
<polygon points="853.5,759.5 863.5,762.5 856.5,755.5 847.5,750.5"/>
<polygon points="843.5,752.5 853.5,759.5 847.5,750.5 837.5,745.5"/>
<polygon points="834.5,745.5 843.5,752.5 837.5,745.5 827.5,738.5"/>
<polygon points="823.5,738.5 834.5,745.5 827.5,738.5 817.5,731.5"/>
<polygon points="812.5,731.5 823.5,738.5 817.5,731.5 807.5,724.5"/>
<polygon points="804.5,724.5 812.5,731.5 807.5,724.5 797.5,717.5"/>
<polygon points="793.5,714.5 804.5,724.5 797.5,717.5 787.5,709.5"/>
<polygon points="783.5,705.5 793.5,714.5 787.5,709.5 777.5,701.5"/>
<polygon points="771.5,697.5 783.5,705.5 777.5,701.5 767.5,694.5"/>
<polygon points="763.5,690.5 771.5,697.5 767.5,694.5 757.5,689.5"/>
<polygon points="752.5,684.5 763.5,690.5 757.5,689.5 747.5,684.5"/>
<polygon points="743.5,679.5 752.5,684.5 747.5,684.5 737.5,679.5"/>
<polygon points="733.5,675.5 743.5,679.5 737.5,679.5 727.5,678.5"/>
<polygon points="723.5,674.5 733.5,675.5 727.5,678.5 717.5,677.5"/>
<polygon points="713.5,675.5 723.5,674.5 717.5,677.5 707.5,678.5"/>
<polygon points="703.5,678.5 713.5,675.5 707.5,678.5 697.5,681.5"/>
<polygon points="692.5,683.5 703.5,678.5 697.5,681.5 687.5,685.5"/>
<polygon points="683.5,690.5 692.5,683.5 687.5,685.5 677.5,691.5"/>
<polygon points="672.5,699.5 683.5,690.5 677.5,691.5 668.5,697.5"/>
<polygon points="662.5,709.5 672.5,699.5 668.5,697.5 657.5,709.5"/>
<polygon points="652.5,720.5 662.5,709.5 657.5,709.5 647.5,720.5"/>
<polygon points="642.5,734.5 652.5,720.5 647.5,720.5 637.5,734.5"/>
<polygon points="632.5,748.5 642.5,734.5 637.5,734.5 626.5,744.5"/>
<polygon points="622.5,761.5 632.5,748.5 626.5,744.5 617.5,757.5"/>
<polygon points="613.5,777.5 622.5,761.5 617.5,757.5 607.5,770.5"/>
<polygon points="602.5,789.5 613.5,777.5 607.5,770.5 597.5,783.5"/>
<polygon points="592.5,803.5 602.5,789.5 597.5,783.5 587.5,796.5"/>
<polygon points="583.5,815.5 592.5,803.5 587.5,796.5 576.5,808.5"/>
<polygon points="572.5,828.5 583.5,815.5 576.5,808.5 566.5,820.5"/>
<polygon points="562.5,839.5 572.5,828.5 566.5,820.5 556.5,831.5"/>
<polygon points="552.5,850.5 562.5,839.5 556.5,831.5 547.5,842.5"/>
<polygon points="542.5,859.5 552.5,850.5 547.5,842.5 536.5,851.5"/>
<polygon points="532.5,868.5 542.5,859.5 536.5,851.5 526.5,859.5"/>
<polygon points="522.5,876.5 532.5,868.5 526.5,859.5 516.5,869.5"/>
<polygon points="512.5,883.5 522.5,876.5 516.5,869.5 506.5,876.5"/>
<polygon points="503.5,889.5 512.5,883.5 506.5,876.5 497.5,882.5"/>
<polygon points="492.5,895.5 503.5,889.5 497.5,882.5 487.5,889.5"/>
<polygon points="482.5,901.5 492.5,895.5 487.5,889.5 476.5,894.5"/>
<polygon points="472.5,906.5 482.5,901.5 476.5,894.5 467.5,899.5"/>
<polygon points="462.5,910.5 472.5,906.5 467.5,899.5 456.5,904.5"/>
<polygon points="949.5,780.5 961.5,779.5 953.5,773.5 943.5,773.5"/>
<polygon points="939.5,781.5 949.5,780.5 943.5,773.5 933.5,774.5"/>
<polygon points="929.5,782.5 939.5,781.5 933.5,774.5 923.5,775.5"/>
<polygon points="918.5,780.5 929.5,782.5 923.5,775.5 913.5,775.5"/>
<polygon points="909.5,782.5 918.5,780.5 913.5,775.5 903.5,774.5"/>
<polygon points="899.5,780.5 909.5,782.5 903.5,774.5 893.5,772.5"/>
<polygon points="889.5,778.5 899.5,780.5 893.5,772.5 884.5,770.5"/>
<polygon points="879.5,775.5 889.5,778.5 884.5,770.5 873.5,767.5"/>
<polygon points="868.5,771.5 879.5,775.5 873.5,767.5 863.5,762.5"/>
<polygon points="859.5,766.5 868.5,771.5 863.5,762.5 853.5,759.5"/>
<polygon points="849.5,761.5 859.5,766.5 853.5,759.5 843.5,752.5"/>
<polygon points="839.5,754.5 849.5,761.5 843.5,752.5 834.5,745.5"/>
<polygon points="828.5,746.5 839.5,754.5 834.5,745.5 823.5,738.5"/>
<polygon points="819.5,737.5 828.5,746.5 823.5,738.5 812.5,731.5"/>
<polygon points="809.5,728.5 819.5,737.5 812.5,731.5 804.5,724.5"/>
<polygon points="798.5,718.5 809.5,728.5 804.5,724.5 793.5,714.5"/>
<polygon points="789.5,708.5 798.5,718.5 793.5,714.5 783.5,705.5"/>
<polygon points="779.5,699.5 789.5,708.5 783.5,705.5 771.5,697.5"/>
<polygon points="769.5,691.5 779.5,699.5 771.5,697.5 763.5,690.5"/>
<polygon points="759.5,684.5 769.5,691.5 763.5,690.5 752.5,684.5"/>
<polygon points="749.5,678.5 759.5,684.5 752.5,684.5 743.5,679.5"/>
<polygon points="738.5,671.5 749.5,678.5 743.5,679.5 733.5,675.5"/>
<polygon points="728.5,671.5 738.5,671.5 733.5,675.5 723.5,674.5"/>
<polygon points="718.5,671.5 728.5,671.5 723.5,674.5 713.5,675.5"/>
<polygon points="708.5,674.5 718.5,671.5 713.5,675.5 703.5,678.5"/>
<polygon points="698.5,679.5 708.5,674.5 703.5,678.5 692.5,683.5"/>
<polygon points="688.5,687.5 698.5,679.5 692.5,683.5 683.5,690.5"/>
<polygon points="678.5,697.5 688.5,687.5 683.5,690.5 672.5,699.5"/>
<polygon points="669.5,705.5 678.5,697.5 672.5,699.5 662.5,709.5"/>
<polygon points="658.5,721.5 669.5,705.5 662.5,709.5 652.5,720.5"/>
<polygon points="648.5,736.5 658.5,721.5 652.5,720.5 642.5,734.5"/>
<polygon points="638.5,751.5 648.5,736.5 642.5,734.5 632.5,748.5"/>
<polygon points="628.5,766.5 638.5,751.5 632.5,748.5 622.5,761.5"/>
<polygon points="619.5,782.5 628.5,766.5 622.5,761.5 613.5,777.5"/>
<polygon points="608.5,796.5 619.5,782.5 613.5,777.5 602.5,789.5"/>
<polygon points="599.5,813.5 608.5,796.5 602.5,789.5 592.5,803.5"/>
<polygon points="588.5,824.5 599.5,813.5 592.5,803.5 583.5,815.5"/>
<polygon points="578.5,837.5 588.5,824.5 583.5,815.5 572.5,828.5"/>
<polygon points="568.5,848.5 578.5,837.5 572.5,828.5 562.5,839.5"/>
<polygon points="558.5,859.5 568.5,848.5 562.5,839.5 552.5,850.5"/>
<polygon points="548.5,868.5 558.5,859.5 552.5,850.5 542.5,859.5"/>
<polygon points="538.5,876.5 548.5,868.5 542.5,859.5 532.5,868.5"/>
<polygon points="528.5,884.5 538.5,876.5 532.5,868.5 522.5,876.5"/>
<polygon points="517.5,890.5 528.5,884.5 522.5,876.5 512.5,883.5"/>
<polygon points="508.5,896.5 517.5,890.5 512.5,883.5 503.5,889.5"/>
<polygon points="498.5,903.5 508.5,896.5 503.5,889.5 492.5,895.5"/>
<polygon points="488.5,908.5 498.5,903.5 492.5,895.5 482.5,901.5"/>
<polygon points="478.5,912.5 488.5,908.5 482.5,901.5 472.5,906.5"/>
<polygon points="468.5,916.5 478.5,912.5 472.5,906.5 462.5,910.5"/>
<polygon points="954.5,786.5 964.5,784.5 961.5,779.5 949.5,780.5"/>
<polygon points="945.5,791.5 954.5,786.5 949.5,780.5 939.5,781.5"/>
<polygon points="934.5,789.5 945.5,791.5 939.5,781.5 929.5,782.5"/>
<polygon points="924.5,789.5 934.5,789.5 929.5,782.5 918.5,780.5"/>
<polygon points="915.5,789.5 924.5,789.5 918.5,780.5 909.5,782.5"/>
<polygon points="905.5,788.5 915.5,789.5 909.5,782.5 899.5,780.5"/>
<polygon points="894.5,785.5 905.5,788.5 899.5,780.5 889.5,778.5"/>
<polygon points="885.5,784.5 894.5,785.5 889.5,778.5 879.5,775.5"/>
<polygon points="874.5,779.5 885.5,784.5 879.5,775.5 868.5,771.5"/>
<polygon points="864.5,775.5 874.5,779.5 868.5,771.5 859.5,766.5"/>
<polygon points="854.5,769.5 864.5,775.5 859.5,766.5 849.5,761.5"/>
<polygon points="846.5,758.5 854.5,769.5 849.5,761.5 839.5,754.5"/>
<polygon points="834.5,754.5 846.5,758.5 839.5,754.5 828.5,746.5"/>
<polygon points="824.5,745.5 834.5,754.5 828.5,746.5 819.5,737.5"/>
<polygon points="814.5,734.5 824.5,745.5 819.5,737.5 809.5,728.5"/>
<polygon points="804.5,724.5 814.5,734.5 809.5,728.5 798.5,718.5"/>
<polygon points="794.5,711.5 804.5,724.5 798.5,718.5 789.5,708.5"/>
<polygon points="784.5,700.5 794.5,711.5 789.5,708.5 779.5,699.5"/>
<polygon points="774.5,692.5 784.5,700.5 779.5,699.5 769.5,691.5"/>
<polygon points="764.5,682.5 774.5,692.5 769.5,691.5 759.5,684.5"/>
<polygon points="754.5,675.5 764.5,682.5 759.5,684.5 749.5,678.5"/>
<polygon points="744.5,670.5 754.5,675.5 749.5,678.5 738.5,671.5"/>
<polygon points="735.5,667.5 744.5,670.5 738.5,671.5 728.5,671.5"/>
<polygon points="724.5,667.5 735.5,667.5 728.5,671.5 718.5,671.5"/>
<polygon points="714.5,670.5 724.5,667.5 718.5,671.5 708.5,674.5"/>
<polygon points="704.5,676.5 714.5,670.5 708.5,674.5 698.5,679.5"/>
<polygon points="694.5,685.5 704.5,676.5 698.5,679.5 688.5,687.5"/>
<polygon points="684.5,695.5 694.5,685.5 688.5,687.5 678.5,697.5"/>
<polygon points="674.5,708.5 684.5,695.5 678.5,697.5 669.5,705.5"/>
<polygon points="664.5,722.5 674.5,708.5 669.5,705.5 658.5,721.5"/>
<polygon points="654.5,738.5 664.5,722.5 658.5,721.5 648.5,736.5"/>
<polygon points="644.5,755.5 654.5,738.5 648.5,736.5 638.5,751.5"/>
<polygon points="634.5,771.5 644.5,755.5 638.5,751.5 628.5,766.5"/>
<polygon points="624.5,788.5 634.5,771.5 628.5,766.5 619.5,782.5"/>
<polygon points="614.5,804.5 624.5,788.5 619.5,782.5 608.5,796.5"/>
<polygon points="604.5,819.5 614.5,804.5 608.5,796.5 599.5,813.5"/>
<polygon points="594.5,832.5 604.5,819.5 599.5,813.5 588.5,824.5"/>
<polygon points="585.5,843.5 594.5,832.5 588.5,824.5 578.5,837.5"/>
<polygon points="574.5,857.5 585.5,843.5 578.5,837.5 568.5,848.5"/>
<polygon points="564.5,865.5 574.5,857.5 568.5,848.5 558.5,859.5"/>
<polygon points="554.5,877.5 564.5,865.5 558.5,859.5 548.5,868.5"/>
<polygon points="544.5,884.5 554.5,877.5 548.5,868.5 538.5,876.5"/>
<polygon points="534.5,892.5 544.5,884.5 538.5,876.5 528.5,884.5"/>
<polygon points="524.5,898.5 534.5,892.5 528.5,884.5 517.5,890.5"/>
<polygon points="514.5,904.5 524.5,898.5 517.5,890.5 508.5,896.5"/>
<polygon points="503.5,911.5 514.5,904.5 508.5,896.5 498.5,903.5"/>
<polygon points="494.5,914.5 503.5,911.5 498.5,903.5 488.5,908.5"/>
<polygon points="484.5,918.5 494.5,914.5 488.5,908.5 478.5,912.5"/>
<polygon points="474.5,922.5 484.5,918.5 478.5,912.5 468.5,916.5"/>
<polygon points="961.5,791.5 970.5,790.5 964.5,784.5 954.5,786.5"/>
<polygon points="950.5,794.5 961.5,791.5 954.5,786.5 945.5,791.5"/>
<polygon points="940.5,795.5 950.5,794.5 945.5,791.5 934.5,789.5"/>
<polygon points="931.5,792.5 940.5,795.5 934.5,789.5 924.5,789.5"/>
<polygon points="920.5,795.5 931.5,792.5 924.5,789.5 915.5,789.5"/>
<polygon points="910.5,795.5 920.5,795.5 915.5,789.5 905.5,788.5"/>
<polygon points="900.5,793.5 910.5,795.5 905.5,788.5 894.5,785.5"/>
<polygon points="890.5,791.5 900.5,793.5 894.5,785.5 885.5,784.5"/>
<polygon points="880.5,789.5 890.5,791.5 885.5,784.5 874.5,779.5"/>
<polygon points="870.5,784.5 880.5,789.5 874.5,779.5 864.5,775.5"/>
<polygon points="860.5,778.5 870.5,784.5 864.5,775.5 854.5,769.5"/>
<polygon points="850.5,771.5 860.5,778.5 854.5,769.5 846.5,758.5"/>
<polygon points="840.5,762.5 850.5,771.5 846.5,758.5 834.5,754.5"/>
<polygon points="830.5,753.5 840.5,762.5 834.5,754.5 824.5,745.5"/>
<polygon points="820.5,742.5 830.5,753.5 824.5,745.5 814.5,734.5"/>
<polygon points="810.5,730.5 820.5,742.5 814.5,734.5 804.5,724.5"/>
<polygon points="800.5,718.5 810.5,730.5 804.5,724.5 794.5,711.5"/>
<polygon points="790.5,705.5 800.5,718.5 794.5,711.5 784.5,700.5"/>
<polygon points="780.5,694.5 790.5,705.5 784.5,700.5 774.5,692.5"/>
<polygon points="770.5,681.5 780.5,694.5 774.5,692.5 764.5,682.5"/>
<polygon points="760.5,673.5 770.5,681.5 764.5,682.5 754.5,675.5"/>
<polygon points="750.5,666.5 760.5,673.5 754.5,675.5 744.5,670.5"/>
<polygon points="740.5,663.5 750.5,666.5 744.5,670.5 735.5,667.5"/>
<polygon points="730.5,662.5 740.5,663.5 735.5,667.5 724.5,667.5"/>
<polygon points="720.5,665.5 730.5,662.5 724.5,667.5 714.5,670.5"/>
<polygon points="709.5,672.5 720.5,665.5 714.5,670.5 704.5,676.5"/>
<polygon points="700.5,681.5 709.5,672.5 704.5,676.5 694.5,685.5"/>
<polygon points="690.5,693.5 700.5,681.5 694.5,685.5 684.5,695.5"/>
<polygon points="680.5,708.5 690.5,693.5 684.5,695.5 674.5,708.5"/>
<polygon points="669.5,726.5 680.5,708.5 674.5,708.5 664.5,722.5"/>
<polygon points="660.5,741.5 669.5,726.5 664.5,722.5 654.5,738.5"/>
<polygon points="650.5,760.5 660.5,741.5 654.5,738.5 644.5,755.5"/>
<polygon points="640.5,778.5 650.5,760.5 644.5,755.5 634.5,771.5"/>
<polygon points="630.5,795.5 640.5,778.5 634.5,771.5 624.5,788.5"/>
<polygon points="620.5,812.5 630.5,795.5 624.5,788.5 614.5,804.5"/>
<polygon points="610.5,828.5 620.5,812.5 614.5,804.5 604.5,819.5"/>
<polygon points="600.5,842.5 610.5,828.5 604.5,819.5 594.5,832.5"/>
<polygon points="590.5,854.5 600.5,842.5 594.5,832.5 585.5,843.5"/>
<polygon points="580.5,866.5 590.5,854.5 585.5,843.5 574.5,857.5"/>
<polygon points="569.5,876.5 580.5,866.5 574.5,857.5 564.5,865.5"/>
<polygon points="560.5,884.5 569.5,876.5 564.5,865.5 554.5,877.5"/>
<polygon points="550.5,892.5 560.5,884.5 554.5,877.5 544.5,884.5"/>
<polygon points="540.5,899.5 550.5,892.5 544.5,884.5 534.5,892.5"/>
<polygon points="529.5,905.5 540.5,899.5 534.5,892.5 524.5,898.5"/>
<polygon points="520.5,911.5 529.5,905.5 524.5,898.5 514.5,904.5"/>
<polygon points="510.5,915.5 520.5,911.5 514.5,904.5 503.5,911.5"/>
<polygon points="500.5,920.5 510.5,915.5 503.5,911.5 494.5,914.5"/>
<polygon points="490.5,925.5 500.5,920.5 494.5,914.5 484.5,918.5"/>
<polygon points="479.5,928.5 490.5,925.5 484.5,918.5 474.5,922.5"/>
<polygon points="966.5,795.5 976.5,795.5 970.5,790.5 961.5,791.5"/>
<polygon points="956.5,799.5 966.5,795.5 961.5,791.5 950.5,794.5"/>
<polygon points="946.5,801.5 956.5,799.5 950.5,794.5 940.5,795.5"/>
<polygon points="936.5,802.5 946.5,801.5 940.5,795.5 931.5,792.5"/>
<polygon points="926.5,802.5 936.5,802.5 931.5,792.5 920.5,795.5"/>
<polygon points="916.5,802.5 926.5,802.5 920.5,795.5 910.5,795.5"/>
<polygon points="905.5,802.5 916.5,802.5 910.5,795.5 900.5,793.5"/>
<polygon points="896.5,800.5 905.5,802.5 900.5,793.5 890.5,791.5"/>
<polygon points="886.5,797.5 896.5,800.5 890.5,791.5 880.5,789.5"/>
<polygon points="876.5,793.5 886.5,797.5 880.5,789.5 870.5,784.5"/>
<polygon points="866.5,787.5 876.5,793.5 870.5,784.5 860.5,778.5"/>
<polygon points="856.5,780.5 866.5,787.5 860.5,778.5 850.5,771.5"/>
<polygon points="846.5,772.5 856.5,780.5 850.5,771.5 840.5,762.5"/>
<polygon points="836.5,761.5 846.5,772.5 840.5,762.5 830.5,753.5"/>
<polygon points="826.5,750.5 836.5,761.5 830.5,753.5 820.5,742.5"/>
<polygon points="816.5,737.5 826.5,750.5 820.5,742.5 810.5,730.5"/>
<polygon points="805.5,721.5 816.5,737.5 810.5,730.5 800.5,718.5"/>
<polygon points="797.5,708.5 805.5,721.5 800.5,718.5 790.5,705.5"/>
<polygon points="786.5,695.5 797.5,708.5 790.5,705.5 780.5,694.5"/>
<polygon points="776.5,681.5 786.5,695.5 780.5,694.5 770.5,681.5"/>
<polygon points="765.5,670.5 776.5,681.5 770.5,681.5 760.5,673.5"/>
<polygon points="756.5,661.5 765.5,670.5 760.5,673.5 750.5,666.5"/>
<polygon points="746.5,657.5 756.5,661.5 750.5,666.5 740.5,663.5"/>
<polygon points="736.5,656.5 746.5,657.5 740.5,663.5 730.5,662.5"/>
<polygon points="726.5,659.5 736.5,656.5 730.5,662.5 720.5,665.5"/>
<polygon points="716.5,665.5 726.5,659.5 720.5,665.5 709.5,672.5"/>
<polygon points="706.5,676.5 716.5,665.5 709.5,672.5 700.5,681.5"/>
<polygon points="696.5,690.5 706.5,676.5 700.5,681.5 690.5,693.5"/>
<polygon points="686.5,707.5 696.5,690.5 690.5,693.5 680.5,708.5"/>
<polygon points="675.5,725.5 686.5,707.5 680.5,708.5 669.5,726.5"/>
<polygon points="666.5,746.5 675.5,725.5 669.5,726.5 660.5,741.5"/>
<polygon points="655.5,765.5 666.5,746.5 660.5,741.5 650.5,760.5"/>
<polygon points="645.5,785.5 655.5,765.5 650.5,760.5 640.5,778.5"/>
<polygon points="636.5,804.5 645.5,785.5 640.5,778.5 630.5,795.5"/>
<polygon points="625.5,821.5 636.5,804.5 630.5,795.5 620.5,812.5"/>
<polygon points="615.5,837.5 625.5,821.5 620.5,812.5 610.5,828.5"/>
<polygon points="606.5,847.5 615.5,837.5 610.5,828.5 600.5,842.5"/>
<polygon points="595.5,864.5 606.5,847.5 600.5,842.5 590.5,854.5"/>
<polygon points="586.5,874.5 595.5,864.5 590.5,854.5 580.5,866.5"/>
<polygon points="575.5,885.5 586.5,874.5 580.5,866.5 569.5,876.5"/>
<polygon points="565.5,893.5 575.5,885.5 569.5,876.5 560.5,884.5"/>
<polygon points="555.5,900.5 565.5,893.5 560.5,884.5 550.5,892.5"/>
<polygon points="545.5,906.5 555.5,900.5 550.5,892.5 540.5,899.5"/>
<polygon points="535.5,912.5 545.5,906.5 540.5,899.5 529.5,905.5"/>
<polygon points="525.5,913.5 535.5,912.5 529.5,905.5 520.5,911.5"/>
<polygon points="515.5,921.5 525.5,913.5 520.5,911.5 510.5,915.5"/>
<polygon points="505.5,926.5 515.5,921.5 510.5,915.5 500.5,920.5"/>
<polygon points="495.5,930.5 505.5,926.5 500.5,920.5 490.5,925.5"/>
<polygon points="485.5,932.5 495.5,930.5 490.5,925.5 479.5,928.5"/>
<polygon points="972.5,803.5 982.5,801.5 976.5,795.5 966.5,795.5"/>
<polygon points="962.5,805.5 972.5,803.5 966.5,795.5 956.5,799.5"/>
<polygon points="952.5,807.5 962.5,805.5 956.5,799.5 946.5,801.5"/>
<polygon points="942.5,808.5 952.5,807.5 946.5,801.5 936.5,802.5"/>
<polygon points="932.5,809.5 942.5,808.5 936.5,802.5 926.5,802.5"/>
<polygon points="922.5,809.5 932.5,809.5 926.5,802.5 916.5,802.5"/>
<polygon points="912.5,810.5 922.5,809.5 916.5,802.5 905.5,802.5"/>
<polygon points="901.5,807.5 912.5,810.5 905.5,802.5 896.5,800.5"/>
<polygon points="892.5,806.5 901.5,807.5 896.5,800.5 886.5,797.5"/>
<polygon points="881.5,802.5 892.5,806.5 886.5,797.5 876.5,793.5"/>
<polygon points="871.5,797.5 881.5,802.5 876.5,793.5 866.5,787.5"/>
<polygon points="862.5,791.5 871.5,797.5 866.5,787.5 856.5,780.5"/>
<polygon points="851.5,782.5 862.5,791.5 856.5,780.5 846.5,772.5"/>
<polygon points="842.5,772.5 851.5,782.5 846.5,772.5 836.5,761.5"/>
<polygon points="832.5,759.5 842.5,772.5 836.5,761.5 826.5,750.5"/>
<polygon points="822.5,745.5 832.5,759.5 826.5,750.5 816.5,737.5"/>
<polygon points="811.5,730.5 822.5,745.5 816.5,737.5 805.5,721.5"/>
<polygon points="802.5,713.5 811.5,730.5 805.5,721.5 797.5,708.5"/>
<polygon points="791.5,697.5 802.5,713.5 797.5,708.5 786.5,695.5"/>
<polygon points="781.5,681.5 791.5,697.5 786.5,695.5 776.5,681.5"/>
<polygon points="771.5,668.5 781.5,681.5 776.5,681.5 765.5,670.5"/>
<polygon points="762.5,657.5 771.5,668.5 765.5,670.5 756.5,661.5"/>
<polygon points="751.5,651.5 762.5,657.5 756.5,661.5 746.5,657.5"/>
<polygon points="741.5,649.5 751.5,651.5 746.5,657.5 736.5,656.5"/>
<polygon points="731.5,651.5 741.5,649.5 736.5,656.5 726.5,659.5"/>
<polygon points="721.5,659.5 731.5,651.5 726.5,659.5 716.5,665.5"/>
<polygon points="711.5,671.5 721.5,659.5 716.5,665.5 706.5,676.5"/>
<polygon points="701.5,688.5 711.5,671.5 706.5,676.5 696.5,690.5"/>
<polygon points="691.5,706.5 701.5,688.5 696.5,690.5 686.5,707.5"/>
<polygon points="681.5,728.5 691.5,706.5 686.5,707.5 675.5,725.5"/>
<polygon points="671.5,750.5 681.5,728.5 675.5,725.5 666.5,746.5"/>
<polygon points="662.5,772.5 671.5,750.5 666.5,746.5 655.5,765.5"/>
<polygon points="651.5,793.5 662.5,772.5 655.5,765.5 645.5,785.5"/>
<polygon points="640.5,815.5 651.5,793.5 645.5,785.5 636.5,804.5"/>
<polygon points="631.5,831.5 640.5,815.5 636.5,804.5 625.5,821.5"/>
<polygon points="621.5,847.5 631.5,831.5 625.5,821.5 615.5,837.5"/>
<polygon points="611.5,861.5 621.5,847.5 615.5,837.5 606.5,847.5"/>
<polygon points="601.5,873.5 611.5,861.5 606.5,847.5 595.5,864.5"/>
<polygon points="591.5,883.5 601.5,873.5 595.5,864.5 586.5,874.5"/>
<polygon points="581.5,893.5 591.5,883.5 586.5,874.5 575.5,885.5"/>
<polygon points="571.5,900.5 581.5,893.5 575.5,885.5 565.5,893.5"/>
<polygon points="561.5,907.5 571.5,900.5 565.5,893.5 555.5,900.5"/>
<polygon points="551.5,913.5 561.5,907.5 555.5,900.5 545.5,906.5"/>
<polygon points="541.5,918.5 551.5,913.5 545.5,906.5 535.5,912.5"/>
<polygon points="531.5,923.5 541.5,918.5 535.5,912.5 525.5,913.5"/>
<polygon points="521.5,927.5 531.5,923.5 525.5,913.5 515.5,921.5"/>
<polygon points="511.5,932.5 521.5,927.5 515.5,921.5 505.5,926.5"/>
<polygon points="501.5,935.5 511.5,932.5 505.5,926.5 495.5,930.5"/>
<polygon points="491.5,938.5 501.5,935.5 495.5,930.5 485.5,932.5"/>
<polygon points="978.5,808.5 987.5,806.5 982.5,801.5 972.5,803.5"/>
<polygon points="967.5,810.5 978.5,808.5 972.5,803.5 962.5,805.5"/>
<polygon points="958.5,813.5 967.5,810.5 962.5,805.5 952.5,807.5"/>
<polygon points="947.5,813.5 958.5,813.5 952.5,807.5 942.5,808.5"/>
<polygon points="938.5,814.5 947.5,813.5 942.5,808.5 932.5,809.5"/>
<polygon points="928.5,816.5 938.5,814.5 932.5,809.5 922.5,809.5"/>
<polygon points="918.5,816.5 928.5,816.5 922.5,809.5 912.5,810.5"/>
<polygon points="907.5,815.5 918.5,816.5 912.5,810.5 901.5,807.5"/>
<polygon points="898.5,813.5 907.5,815.5 901.5,807.5 892.5,806.5"/>
<polygon points="888.5,811.5 898.5,813.5 892.5,806.5 881.5,802.5"/>
<polygon points="877.5,806.5 888.5,811.5 881.5,802.5 871.5,797.5"/>
<polygon points="867.5,801.5 877.5,806.5 871.5,797.5 862.5,791.5"/>
<polygon points="857.5,792.5 867.5,801.5 862.5,791.5 851.5,782.5"/>
<polygon points="848.5,780.5 857.5,792.5 851.5,782.5 842.5,772.5"/>
<polygon points="837.5,770.5 848.5,780.5 842.5,772.5 832.5,759.5"/>
<polygon points="827.5,754.5 837.5,770.5 832.5,759.5 822.5,745.5"/>
<polygon points="817.5,738.5 827.5,754.5 822.5,745.5 811.5,730.5"/>
<polygon points="807.5,719.5 817.5,738.5 811.5,730.5 802.5,713.5"/>
<polygon points="797.5,700.5 807.5,719.5 802.5,713.5 791.5,697.5"/>
<polygon points="787.5,681.5 797.5,700.5 791.5,697.5 781.5,681.5"/>
<polygon points="777.5,665.5 787.5,681.5 781.5,681.5 771.5,668.5"/>
<polygon points="766.5,653.5 777.5,665.5 771.5,668.5 762.5,657.5"/>
<polygon points="758.5,645.5 766.5,653.5 762.5,657.5 751.5,651.5"/>
<polygon points="747.5,639.5 758.5,645.5 751.5,651.5 741.5,649.5"/>
<polygon points="737.5,642.5 747.5,639.5 741.5,649.5 731.5,651.5"/>
<polygon points="727.5,651.5 737.5,642.5 731.5,651.5 721.5,659.5"/>
<polygon points="717.5,666.5 727.5,651.5 721.5,659.5 711.5,671.5"/>
<polygon points="707.5,685.5 717.5,666.5 711.5,671.5 701.5,688.5"/>
<polygon points="697.5,707.5 707.5,685.5 701.5,688.5 691.5,706.5"/>
<polygon points="687.5,731.5 697.5,707.5 691.5,706.5 681.5,728.5"/>
<polygon points="677.5,755.5 687.5,731.5 681.5,728.5 671.5,750.5"/>
<polygon points="667.5,781.5 677.5,755.5 671.5,750.5 662.5,772.5"/>
<polygon points="657.5,802.5 667.5,781.5 662.5,772.5 651.5,793.5"/>
<polygon points="648.5,823.5 657.5,802.5 651.5,793.5 640.5,815.5"/>
<polygon points="637.5,841.5 648.5,823.5 640.5,815.5 631.5,831.5"/>
<polygon points="627.5,857.5 637.5,841.5 631.5,831.5 621.5,847.5"/>
<polygon points="617.5,871.5 627.5,857.5 621.5,847.5 611.5,861.5"/>
<polygon points="607.5,882.5 617.5,871.5 611.5,861.5 601.5,873.5"/>
<polygon points="597.5,893.5 607.5,882.5 601.5,873.5 591.5,883.5"/>
<polygon points="587.5,901.5 597.5,893.5 591.5,883.5 581.5,893.5"/>
<polygon points="577.5,908.5 587.5,901.5 581.5,893.5 571.5,900.5"/>
<polygon points="567.5,914.5 577.5,908.5 571.5,900.5 561.5,907.5"/>
<polygon points="557.5,920.5 567.5,914.5 561.5,907.5 551.5,913.5"/>
<polygon points="547.5,925.5 557.5,920.5 551.5,913.5 541.5,918.5"/>
<polygon points="536.5,929.5 547.5,925.5 541.5,918.5 531.5,923.5"/>
<polygon points="527.5,933.5 536.5,929.5 531.5,923.5 521.5,927.5"/>
<polygon points="517.5,937.5 527.5,933.5 521.5,927.5 511.5,932.5"/>
<polygon points="507.5,940.5 517.5,937.5 511.5,932.5 501.5,935.5"/>
<polygon points="497.5,943.5 507.5,940.5 501.5,935.5 491.5,938.5"/>
<polygon points="984.5,813.5 993.5,812.5 987.5,806.5 978.5,808.5"/>
<polygon points="973.5,815.5 984.5,813.5 978.5,808.5 967.5,810.5"/>
<polygon points="963.5,818.5 973.5,815.5 967.5,810.5 958.5,813.5"/>
<polygon points="953.5,819.5 963.5,818.5 958.5,813.5 947.5,813.5"/>
<polygon points="943.5,821.5 953.5,819.5 947.5,813.5 938.5,814.5"/>
<polygon points="933.5,821.5 943.5,821.5 938.5,814.5 928.5,816.5"/>
<polygon points="923.5,825.5 933.5,821.5 928.5,816.5 918.5,816.5"/>
<polygon points="913.5,822.5 923.5,825.5 918.5,816.5 907.5,815.5"/>
<polygon points="903.5,821.5 913.5,822.5 907.5,815.5 898.5,813.5"/>
<polygon points="893.5,819.5 903.5,821.5 898.5,813.5 888.5,811.5"/>
<polygon points="883.5,816.5 893.5,819.5 888.5,811.5 877.5,806.5"/>
<polygon points="873.5,810.5 883.5,816.5 877.5,806.5 867.5,801.5"/>
<polygon points="863.5,803.5 873.5,810.5 867.5,801.5 857.5,792.5"/>
<polygon points="853.5,793.5 863.5,803.5 857.5,792.5 848.5,780.5"/>
<polygon points="843.5,781.5 853.5,793.5 848.5,780.5 837.5,770.5"/>
<polygon points="833.5,765.5 843.5,781.5 837.5,770.5 827.5,754.5"/>
<polygon points="823.5,747.5 833.5,765.5 827.5,754.5 817.5,738.5"/>
<polygon points="813.5,727.5 823.5,747.5 817.5,738.5 807.5,719.5"/>
<polygon points="803.5,705.5 813.5,727.5 807.5,719.5 797.5,700.5"/>
<polygon points="795.5,686.5 803.5,705.5 797.5,700.5 787.5,681.5"/>
<polygon points="783.5,662.5 795.5,686.5 787.5,681.5 777.5,665.5"/>
<polygon points="773.5,646.5 783.5,662.5 777.5,665.5 766.5,653.5"/>
<polygon points="763.5,634.5 773.5,646.5 766.5,653.5 758.5,645.5"/>
<polygon points="753.5,629.5 763.5,634.5 758.5,645.5 747.5,639.5"/>
<polygon points="743.5,633.5 753.5,629.5 747.5,639.5 737.5,642.5"/>
<polygon points="733.5,642.5 743.5,633.5 737.5,642.5 727.5,651.5"/>
<polygon points="723.5,660.5 733.5,642.5 727.5,651.5 717.5,666.5"/>
<polygon points="713.5,682.5 723.5,660.5 717.5,666.5 707.5,685.5"/>
<polygon points="704.5,706.5 713.5,682.5 707.5,685.5 697.5,707.5"/>
<polygon points="693.5,736.5 704.5,706.5 697.5,707.5 687.5,731.5"/>
<polygon points="683.5,763.5 693.5,736.5 687.5,731.5 677.5,755.5"/>
<polygon points="673.5,789.5 683.5,763.5 677.5,755.5 667.5,781.5"/>
<polygon points="663.5,813.5 673.5,789.5 667.5,781.5 657.5,802.5"/>
<polygon points="653.5,834.5 663.5,813.5 657.5,802.5 648.5,823.5"/>
<polygon points="642.5,852.5 653.5,834.5 648.5,823.5 637.5,841.5"/>
<polygon points="633.5,867.5 642.5,852.5 637.5,841.5 627.5,857.5"/>
<polygon points="623.5,880.5 633.5,867.5 627.5,857.5 617.5,871.5"/>
<polygon points="613.5,891.5 623.5,880.5 617.5,871.5 607.5,882.5"/>
<polygon points="603.5,900.5 613.5,891.5 607.5,882.5 597.5,893.5"/>
<polygon points="593.5,908.5 603.5,900.5 597.5,893.5 587.5,901.5"/>
<polygon points="583.5,915.5 593.5,908.5 587.5,901.5 577.5,908.5"/>
<polygon points="573.5,920.5 583.5,915.5 577.5,908.5 567.5,914.5"/>
<polygon points="562.5,926.5 573.5,920.5 567.5,914.5 557.5,920.5"/>
<polygon points="552.5,930.5 562.5,926.5 557.5,920.5 547.5,925.5"/>
<polygon points="542.5,934.5 552.5,930.5 547.5,925.5 536.5,929.5"/>
<polygon points="532.5,938.5 542.5,934.5 536.5,929.5 527.5,933.5"/>
<polygon points="523.5,942.5 532.5,938.5 527.5,933.5 517.5,937.5"/>
<polygon points="512.5,947.5 523.5,942.5 517.5,937.5 507.5,940.5"/>
<polygon points="502.5,949.5 512.5,947.5 507.5,940.5 497.5,943.5"/>
<polygon points="989.5,818.5 999.5,816.5 993.5,812.5 984.5,813.5"/>
<polygon points="979.5,821.5 989.5,818.5 984.5,813.5 973.5,815.5"/>
<polygon points="969.5,823.5 979.5,821.5 973.5,815.5 963.5,818.5"/>
<polygon points="959.5,824.5 969.5,823.5 963.5,818.5 953.5,819.5"/>
<polygon points="949.5,826.5 959.5,824.5 953.5,819.5 943.5,821.5"/>
<polygon points="939.5,827.5 949.5,826.5 943.5,821.5 933.5,821.5"/>
<polygon points="929.5,828.5 939.5,827.5 933.5,821.5 923.5,825.5"/>
<polygon points="919.5,828.5 929.5,828.5 923.5,825.5 913.5,822.5"/>
<polygon points="909.5,828.5 919.5,828.5 913.5,822.5 903.5,821.5"/>
<polygon points="900.5,827.5 909.5,828.5 903.5,821.5 893.5,819.5"/>
<polygon points="889.5,824.5 900.5,827.5 893.5,819.5 883.5,816.5"/>
<polygon points="879.5,819.5 889.5,824.5 883.5,816.5 873.5,810.5"/>
<polygon points="869.5,813.5 879.5,819.5 873.5,810.5 863.5,803.5"/>
<polygon points="859.5,804.5 869.5,813.5 863.5,803.5 853.5,793.5"/>
<polygon points="849.5,791.5 859.5,804.5 853.5,793.5 843.5,781.5"/>
<polygon points="839.5,776.5 849.5,791.5 843.5,781.5 833.5,765.5"/>
<polygon points="829.5,758.5 839.5,776.5 833.5,765.5 823.5,747.5"/>
<polygon points="819.5,735.5 829.5,758.5 823.5,747.5 813.5,727.5"/>
<polygon points="809.5,711.5 819.5,735.5 813.5,727.5 803.5,705.5"/>
<polygon points="798.5,686.5 809.5,711.5 803.5,705.5 795.5,686.5"/>
<polygon points="789.5,660.5 798.5,686.5 795.5,686.5 783.5,662.5"/>
<polygon points="778.5,639.5 789.5,660.5 783.5,662.5 773.5,646.5"/>
<polygon points="769.5,624.5 778.5,639.5 773.5,646.5 763.5,634.5"/>
<polygon points="759.5,617.5 769.5,624.5 763.5,634.5 753.5,629.5"/>
<polygon points="749.5,620.5 759.5,617.5 753.5,629.5 743.5,633.5"/>
<polygon points="739.5,633.5 749.5,620.5 743.5,633.5 733.5,642.5"/>
<polygon points="728.5,653.5 739.5,633.5 733.5,642.5 723.5,660.5"/>
<polygon points="721.5,680.5 728.5,653.5 723.5,660.5 713.5,682.5"/>
<polygon points="709.5,710.5 721.5,680.5 713.5,682.5 704.5,706.5"/>
<polygon points="699.5,742.5 709.5,710.5 704.5,706.5 693.5,736.5"/>
<polygon points="688.5,772.5 699.5,742.5 693.5,736.5 683.5,763.5"/>
<polygon points="679.5,800.5 688.5,772.5 683.5,763.5 673.5,789.5"/>
<polygon points="668.5,827.5 679.5,800.5 673.5,789.5 663.5,813.5"/>
<polygon points="658.5,844.5 668.5,827.5 663.5,813.5 653.5,834.5"/>
<polygon points="648.5,862.5 658.5,844.5 653.5,834.5 642.5,852.5"/>
<polygon points="638.5,875.5 648.5,862.5 642.5,852.5 633.5,867.5"/>
<polygon points="629.5,889.5 638.5,875.5 633.5,867.5 623.5,880.5"/>
<polygon points="618.5,899.5 629.5,889.5 623.5,880.5 613.5,891.5"/>
<polygon points="608.5,908.5 618.5,899.5 613.5,891.5 603.5,900.5"/>
<polygon points="598.5,915.5 608.5,908.5 603.5,900.5 593.5,908.5"/>
<polygon points="588.5,921.5 598.5,915.5 593.5,908.5 583.5,915.5"/>
<polygon points="578.5,927.5 588.5,921.5 583.5,915.5 573.5,920.5"/>
<polygon points="569.5,932.5 578.5,927.5 573.5,920.5 562.5,926.5"/>
<polygon points="558.5,936.5 569.5,932.5 562.5,926.5 552.5,930.5"/>
<polygon points="548.5,940.5 558.5,936.5 552.5,930.5 542.5,934.5"/>
<polygon points="538.5,944.5 548.5,940.5 542.5,934.5 532.5,938.5"/>
<polygon points="528.5,947.5 538.5,944.5 532.5,938.5 523.5,942.5"/>
<polygon points="518.5,950.5 528.5,947.5 523.5,942.5 512.5,947.5"/>
<polygon points="508.5,954.5 518.5,950.5 512.5,947.5 502.5,949.5"/>
<polygon points="995.5,823.5 1005.5,821.5 999.5,816.5 989.5,818.5"/>
<polygon points="985.5,826.5 995.5,823.5 989.5,818.5 979.5,821.5"/>
<polygon points="975.5,828.5 985.5,826.5 979.5,821.5 969.5,823.5"/>
<polygon points="965.5,830.5 975.5,828.5 969.5,823.5 959.5,824.5"/>
<polygon points="955.5,831.5 965.5,830.5 959.5,824.5 949.5,826.5"/>
<polygon points="945.5,832.5 955.5,831.5 949.5,826.5 939.5,827.5"/>
<polygon points="935.5,833.5 945.5,832.5 939.5,827.5 929.5,828.5"/>
<polygon points="925.5,837.5 935.5,833.5 929.5,828.5 919.5,828.5"/>
<polygon points="915.5,834.5 925.5,837.5 919.5,828.5 909.5,828.5"/>
<polygon points="905.5,834.5 915.5,834.5 909.5,828.5 900.5,827.5"/>
<polygon points="895.5,831.5 905.5,834.5 900.5,827.5 889.5,824.5"/>
<polygon points="885.5,827.5 895.5,831.5 889.5,824.5 879.5,819.5"/>
<polygon points="875.5,822.5 885.5,827.5 879.5,819.5 869.5,813.5"/>
<polygon points="864.5,814.5 875.5,822.5 869.5,813.5 859.5,804.5"/>
<polygon points="854.5,802.5 864.5,814.5 859.5,804.5 849.5,791.5"/>
<polygon points="845.5,788.5 854.5,802.5 849.5,791.5 839.5,776.5"/>
<polygon points="834.5,769.5 845.5,788.5 839.5,776.5 829.5,758.5"/>
<polygon points="825.5,746.5 834.5,769.5 829.5,758.5 819.5,735.5"/>
<polygon points="814.5,719.5 825.5,746.5 819.5,735.5 809.5,711.5"/>
<polygon points="805.5,689.5 814.5,719.5 809.5,711.5 798.5,686.5"/>
<polygon points="795.5,659.5 805.5,689.5 798.5,686.5 789.5,660.5"/>
<polygon points="785.5,633.5 795.5,659.5 789.5,660.5 778.5,639.5"/>
<polygon points="774.5,613.5 785.5,633.5 778.5,639.5 769.5,624.5"/>
<polygon points="764.5,604.5 774.5,613.5 769.5,624.5 759.5,617.5"/>
<polygon points="754.5,606.5 764.5,604.5 759.5,617.5 749.5,620.5"/>
<polygon points="744.5,621.5 754.5,606.5 749.5,620.5 739.5,633.5"/>
<polygon points="734.5,647.5 744.5,621.5 739.5,633.5 728.5,653.5"/>
<polygon points="724.5,679.5 734.5,647.5 728.5,653.5 721.5,680.5"/>
<polygon points="714.5,715.5 724.5,679.5 721.5,680.5 709.5,710.5"/>
<polygon points="704.5,750.5 714.5,715.5 709.5,710.5 699.5,742.5"/>
<polygon points="694.5,781.5 704.5,750.5 699.5,742.5 688.5,772.5"/>
<polygon points="684.5,811.5 694.5,781.5 688.5,772.5 679.5,800.5"/>
<polygon points="674.5,836.5 684.5,811.5 679.5,800.5 668.5,827.5"/>
<polygon points="664.5,856.5 674.5,836.5 668.5,827.5 658.5,844.5"/>
<polygon points="654.5,873.5 664.5,856.5 658.5,844.5 648.5,862.5"/>
<polygon points="644.5,889.5 654.5,873.5 648.5,862.5 638.5,875.5"/>
<polygon points="634.5,898.5 644.5,889.5 638.5,875.5 629.5,889.5"/>
<polygon points="624.5,907.5 634.5,898.5 629.5,889.5 618.5,899.5"/>
<polygon points="614.5,915.5 624.5,907.5 618.5,899.5 608.5,908.5"/>
<polygon points="604.5,922.5 614.5,915.5 608.5,908.5 598.5,915.5"/>
<polygon points="594.5,927.5 604.5,922.5 598.5,915.5 588.5,921.5"/>
<polygon points="584.5,933.5 594.5,927.5 588.5,921.5 578.5,927.5"/>
<polygon points="574.5,937.5 584.5,933.5 578.5,927.5 569.5,932.5"/>
<polygon points="564.5,942.5 574.5,937.5 569.5,932.5 558.5,936.5"/>
<polygon points="554.5,946.5 564.5,942.5 558.5,936.5 548.5,940.5"/>
<polygon points="544.5,949.5 554.5,946.5 548.5,940.5 538.5,944.5"/>
<polygon points="534.5,952.5 544.5,949.5 538.5,944.5 528.5,947.5"/>
<polygon points="524.5,955.5 534.5,952.5 528.5,947.5 518.5,950.5"/>
<polygon points="514.5,958.5 524.5,955.5 518.5,950.5 508.5,954.5"/>
<polygon points="1001.5,829.5 1011.5,826.5 1005.5,821.5 995.5,823.5"/>
<polygon points="990.5,831.5 1001.5,829.5 995.5,823.5 985.5,826.5"/>
<polygon points="980.5,833.5 990.5,831.5 985.5,826.5 975.5,828.5"/>
<polygon points="970.5,835.5 980.5,833.5 975.5,828.5 965.5,830.5"/>
<polygon points="961.5,837.5 970.5,835.5 965.5,830.5 955.5,831.5"/>
<polygon points="950.5,839.5 961.5,837.5 955.5,831.5 945.5,832.5"/>
<polygon points="941.5,840.5 950.5,839.5 945.5,832.5 935.5,833.5"/>
<polygon points="931.5,841.5 941.5,840.5 935.5,833.5 925.5,837.5"/>
<polygon points="920.5,840.5 931.5,841.5 925.5,837.5 915.5,834.5"/>
<polygon points="910.5,840.5 920.5,840.5 915.5,834.5 905.5,834.5"/>
<polygon points="901.5,839.5 910.5,840.5 905.5,834.5 895.5,831.5"/>
<polygon points="890.5,835.5 901.5,839.5 895.5,831.5 885.5,827.5"/>
<polygon points="880.5,831.5 890.5,835.5 885.5,827.5 875.5,822.5"/>
<polygon points="870.5,823.5 880.5,831.5 875.5,822.5 864.5,814.5"/>
<polygon points="860.5,813.5 870.5,823.5 864.5,814.5 854.5,802.5"/>
<polygon points="850.5,800.5 860.5,813.5 854.5,802.5 845.5,788.5"/>
<polygon points="841.5,782.5 850.5,800.5 845.5,788.5 834.5,769.5"/>
<polygon points="830.5,758.5 841.5,782.5 834.5,769.5 825.5,746.5"/>
<polygon points="820.5,729.5 830.5,758.5 825.5,746.5 814.5,719.5"/>
<polygon points="810.5,696.5 820.5,729.5 814.5,719.5 805.5,689.5"/>
<polygon points="800.5,660.5 810.5,696.5 805.5,689.5 795.5,659.5"/>
<polygon points="790.5,627.5 800.5,660.5 795.5,659.5 785.5,633.5"/>
<polygon points="780.5,597.5 790.5,627.5 785.5,633.5 774.5,613.5"/>
<polygon points="770.5,587.5 780.5,597.5 774.5,613.5 764.5,604.5"/>
<polygon points="760.5,590.5 770.5,587.5 764.5,604.5 754.5,606.5"/>
<polygon points="750.5,609.5 760.5,590.5 754.5,606.5 744.5,621.5"/>
<polygon points="740.5,641.5 750.5,609.5 744.5,621.5 734.5,647.5"/>
<polygon points="731.5,680.5 740.5,641.5 734.5,647.5 724.5,679.5"/>
<polygon points="720.5,721.5 731.5,680.5 724.5,679.5 714.5,715.5"/>
<polygon points="710.5,760.5 720.5,721.5 714.5,715.5 704.5,750.5"/>
<polygon points="700.5,795.5 710.5,760.5 704.5,750.5 694.5,781.5"/>
<polygon points="690.5,823.5 700.5,795.5 694.5,781.5 684.5,811.5"/>
<polygon points="680.5,847.5 690.5,823.5 684.5,811.5 674.5,836.5"/>
<polygon points="670.5,867.5 680.5,847.5 674.5,836.5 664.5,856.5"/>
<polygon points="660.5,882.5 670.5,867.5 664.5,856.5 654.5,873.5"/>
<polygon points="650.5,895.5 660.5,882.5 654.5,873.5 644.5,889.5"/>
<polygon points="640.5,906.5 650.5,895.5 644.5,889.5 634.5,898.5"/>
<polygon points="630.5,914.5 640.5,906.5 634.5,898.5 624.5,907.5"/>
<polygon points="620.5,922.5 630.5,914.5 624.5,907.5 614.5,915.5"/>
<polygon points="610.5,928.5 620.5,922.5 614.5,915.5 604.5,922.5"/>
<polygon points="600.5,933.5 610.5,928.5 604.5,922.5 594.5,927.5"/>
<polygon points="589.5,940.5 600.5,933.5 594.5,927.5 584.5,933.5"/>
<polygon points="580.5,942.5 589.5,940.5 584.5,933.5 574.5,937.5"/>
<polygon points="570.5,946.5 580.5,942.5 574.5,937.5 564.5,942.5"/>
<polygon points="560.5,950.5 570.5,946.5 564.5,942.5 554.5,946.5"/>
<polygon points="549.5,954.5 560.5,950.5 554.5,946.5 544.5,949.5"/>
<polygon points="540.5,957.5 549.5,954.5 544.5,949.5 534.5,952.5"/>
<polygon points="530.5,960.5 540.5,957.5 534.5,952.5 524.5,955.5"/>
<polygon points="520.5,963.5 530.5,960.5 524.5,955.5 514.5,958.5"/>
<polygon points="1007.5,833.5 1016.5,831.5 1011.5,826.5 1001.5,829.5"/>
<polygon points="996.5,836.5 1007.5,833.5 1001.5,829.5 990.5,831.5"/>
<polygon points="986.5,838.5 996.5,836.5 990.5,831.5 980.5,833.5"/>
<polygon points="976.5,841.5 986.5,838.5 980.5,833.5 970.5,835.5"/>
<polygon points="966.5,842.5 976.5,841.5 970.5,835.5 961.5,837.5"/>
<polygon points="956.5,844.5 966.5,842.5 961.5,837.5 950.5,839.5"/>
<polygon points="946.5,845.5 956.5,844.5 950.5,839.5 941.5,840.5"/>
<polygon points="936.5,846.5 946.5,845.5 941.5,840.5 931.5,841.5"/>
<polygon points="926.5,847.5 936.5,846.5 931.5,841.5 920.5,840.5"/>
<polygon points="916.5,846.5 926.5,847.5 920.5,840.5 910.5,840.5"/>
<polygon points="906.5,844.5 916.5,846.5 910.5,840.5 901.5,839.5"/>
<polygon points="896.5,842.5 906.5,844.5 901.5,839.5 890.5,835.5"/>
<polygon points="886.5,838.5 896.5,842.5 890.5,835.5 880.5,831.5"/>
<polygon points="875.5,831.5 886.5,838.5 880.5,831.5 870.5,823.5"/>
<polygon points="866.5,823.5 875.5,831.5 870.5,823.5 860.5,813.5"/>
<polygon points="856.5,807.5 866.5,823.5 860.5,813.5 850.5,800.5"/>
<polygon points="846.5,794.5 856.5,807.5 850.5,800.5 841.5,782.5"/>
<polygon points="836.5,771.5 846.5,794.5 841.5,782.5 830.5,758.5"/>
<polygon points="825.5,742.5 836.5,771.5 830.5,758.5 820.5,729.5"/>
<polygon points="816.5,706.5 825.5,742.5 820.5,729.5 810.5,696.5"/>
<polygon points="806.5,664.5 816.5,706.5 810.5,696.5 800.5,660.5"/>
<polygon points="796.5,623.5 806.5,664.5 800.5,660.5 790.5,627.5"/>
<polygon points="786.5,587.5 796.5,623.5 790.5,627.5 780.5,597.5"/>
<polygon points="776.5,568.5 786.5,587.5 780.5,597.5 770.5,587.5"/>
<polygon points="766.5,570.5 776.5,568.5 770.5,587.5 760.5,590.5"/>
<polygon points="756.5,596.5 766.5,570.5 760.5,590.5 750.5,609.5"/>
<polygon points="746.5,636.5 756.5,596.5 750.5,609.5 740.5,641.5"/>
<polygon points="736.5,684.5 746.5,636.5 740.5,641.5 731.5,680.5"/>
<polygon points="726.5,732.5 736.5,684.5 731.5,680.5 720.5,721.5"/>
<polygon points="716.5,773.5 726.5,732.5 720.5,721.5 710.5,760.5"/>
<polygon points="705.5,805.5 716.5,773.5 710.5,760.5 700.5,795.5"/>
<polygon points="696.5,835.5 705.5,805.5 700.5,795.5 690.5,823.5"/>
<polygon points="686.5,858.5 696.5,835.5 690.5,823.5 680.5,847.5"/>
<polygon points="677.5,874.5 686.5,858.5 680.5,847.5 670.5,867.5"/>
<polygon points="666.5,890.5 677.5,874.5 670.5,867.5 660.5,882.5"/>
<polygon points="655.5,902.5 666.5,890.5 660.5,882.5 650.5,895.5"/>
<polygon points="645.5,912.5 655.5,902.5 650.5,895.5 640.5,906.5"/>
<polygon points="636.5,920.5 645.5,912.5 640.5,906.5 630.5,914.5"/>
<polygon points="625.5,927.5 636.5,920.5 630.5,914.5 620.5,922.5"/>
<polygon points="616.5,933.5 625.5,927.5 620.5,922.5 610.5,928.5"/>
<polygon points="606.5,939.5 616.5,933.5 610.5,928.5 600.5,933.5"/>
<polygon points="596.5,944.5 606.5,939.5 600.5,933.5 589.5,940.5"/>
<polygon points="585.5,947.5 596.5,944.5 589.5,940.5 580.5,942.5"/>
<polygon points="576.5,952.5 585.5,947.5 580.5,942.5 570.5,946.5"/>
<polygon points="566.5,955.5 576.5,952.5 570.5,946.5 560.5,950.5"/>
<polygon points="556.5,959.5 566.5,955.5 560.5,950.5 549.5,954.5"/>
<polygon points="545.5,962.5 556.5,959.5 549.5,954.5 540.5,957.5"/>
<polygon points="534.5,971.5 545.5,962.5 540.5,957.5 530.5,960.5"/>
<polygon points="525.5,969.5 534.5,971.5 530.5,960.5 520.5,963.5"/>
<polygon points="1012.5,839.5 1022.5,836.5 1016.5,831.5 1007.5,833.5"/>
<polygon points="1002.5,841.5 1012.5,839.5 1007.5,833.5 996.5,836.5"/>
<polygon points="992.5,843.5 1002.5,841.5 996.5,836.5 986.5,838.5"/>
<polygon points="982.5,846.5 992.5,843.5 986.5,838.5 976.5,841.5"/>
<polygon points="972.5,847.5 982.5,846.5 976.5,841.5 966.5,842.5"/>
<polygon points="963.5,848.5 972.5,847.5 966.5,842.5 956.5,844.5"/>
<polygon points="951.5,850.5 963.5,848.5 956.5,844.5 946.5,845.5"/>
<polygon points="942.5,851.5 951.5,850.5 946.5,845.5 936.5,846.5"/>
<polygon points="932.5,852.5 942.5,851.5 936.5,846.5 926.5,847.5"/>
<polygon points="922.5,852.5 932.5,852.5 926.5,847.5 916.5,846.5"/>
<polygon points="912.5,851.5 922.5,852.5 916.5,846.5 906.5,844.5"/>
<polygon points="902.5,848.5 912.5,851.5 906.5,844.5 896.5,842.5"/>
<polygon points="891.5,847.5 902.5,848.5 896.5,842.5 886.5,838.5"/>
<polygon points="882.5,839.5 891.5,847.5 886.5,838.5 875.5,831.5"/>
<polygon points="872.5,830.5 882.5,839.5 875.5,831.5 866.5,823.5"/>
<polygon points="862.5,820.5 872.5,830.5 866.5,823.5 856.5,807.5"/>
<polygon points="852.5,804.5 862.5,820.5 856.5,807.5 846.5,794.5"/>
<polygon points="842.5,783.5 852.5,804.5 846.5,794.5 836.5,771.5"/>
<polygon points="832.5,755.5 842.5,783.5 836.5,771.5 825.5,742.5"/>
<polygon points="822.5,718.5 832.5,755.5 825.5,742.5 816.5,706.5"/>
<polygon points="811.5,673.5 822.5,718.5 816.5,706.5 806.5,664.5"/>
<polygon points="802.5,622.5 811.5,673.5 806.5,664.5 796.5,623.5"/>
<polygon points="792.5,574.5 802.5,622.5 796.5,623.5 786.5,587.5"/>
<polygon points="782.5,547.5 792.5,574.5 786.5,587.5 776.5,568.5"/>
<polygon points="772.5,549.5 782.5,547.5 776.5,568.5 766.5,570.5"/>
<polygon points="762.5,583.5 772.5,549.5 766.5,570.5 756.5,596.5"/>
<polygon points="751.5,636.5 762.5,583.5 756.5,596.5 746.5,636.5"/>
<polygon points="741.5,693.5 751.5,636.5 746.5,636.5 736.5,684.5"/>
<polygon points="732.5,744.5 741.5,693.5 736.5,684.5 726.5,732.5"/>
<polygon points="722.5,788.5 732.5,744.5 726.5,732.5 716.5,773.5"/>
<polygon points="712.5,819.5 722.5,788.5 716.5,773.5 705.5,805.5"/>
<polygon points="702.5,846.5 712.5,819.5 705.5,805.5 696.5,835.5"/>
<polygon points="692.5,866.5 702.5,846.5 696.5,835.5 686.5,858.5"/>
<polygon points="681.5,884.5 692.5,866.5 686.5,858.5 677.5,874.5"/>
<polygon points="672.5,898.5 681.5,884.5 677.5,874.5 666.5,890.5"/>
<polygon points="661.5,910.5 672.5,898.5 666.5,890.5 655.5,902.5"/>
<polygon points="652.5,919.5 661.5,910.5 655.5,902.5 645.5,912.5"/>
<polygon points="640.5,925.5 652.5,919.5 645.5,912.5 636.5,920.5"/>
<polygon points="631.5,933.5 640.5,925.5 636.5,920.5 625.5,927.5"/>
<polygon points="621.5,939.5 631.5,933.5 625.5,927.5 616.5,933.5"/>
<polygon points="612.5,944.5 621.5,939.5 616.5,933.5 606.5,939.5"/>
<polygon points="600.5,949.5 612.5,944.5 606.5,939.5 596.5,944.5"/>
<polygon points="592.5,953.5 600.5,949.5 596.5,944.5 585.5,947.5"/>
<polygon points="581.5,957.5 592.5,953.5 585.5,947.5 576.5,952.5"/>
<polygon points="571.5,960.5 581.5,957.5 576.5,952.5 566.5,955.5"/>
<polygon points="561.5,964.5 571.5,960.5 566.5,955.5 556.5,959.5"/>
<polygon points="551.5,967.5 561.5,964.5 556.5,959.5 545.5,962.5"/>
<polygon points="541.5,971.5 551.5,967.5 545.5,962.5 534.5,971.5"/>
<polygon points="531.5,974.5 541.5,971.5 534.5,971.5 525.5,969.5"/>
<polygon points="1018.5,843.5 1028.5,841.5 1022.5,836.5 1012.5,839.5"/>
<polygon points="1008.5,846.5 1018.5,843.5 1012.5,839.5 1002.5,841.5"/>
<polygon points="998.5,848.5 1008.5,846.5 1002.5,841.5 992.5,843.5"/>
<polygon points="988.5,850.5 998.5,848.5 992.5,843.5 982.5,846.5"/>
<polygon points="977.5,853.5 988.5,850.5 982.5,846.5 972.5,847.5"/>
<polygon points="968.5,854.5 977.5,853.5 972.5,847.5 963.5,848.5"/>
<polygon points="958.5,856.5 968.5,854.5 963.5,848.5 951.5,850.5"/>
<polygon points="947.5,857.5 958.5,856.5 951.5,850.5 942.5,851.5"/>
<polygon points="938.5,857.5 947.5,857.5 942.5,851.5 932.5,852.5"/>
<polygon points="927.5,858.5 938.5,857.5 932.5,852.5 922.5,852.5"/>
<polygon points="918.5,856.5 927.5,858.5 922.5,852.5 912.5,851.5"/>
<polygon points="908.5,855.5 918.5,856.5 912.5,851.5 902.5,848.5"/>
<polygon points="898.5,851.5 908.5,855.5 902.5,848.5 891.5,847.5"/>
<polygon points="888.5,846.5 898.5,851.5 891.5,847.5 882.5,839.5"/>
<polygon points="877.5,838.5 888.5,846.5 882.5,839.5 872.5,830.5"/>
<polygon points="867.5,828.5 877.5,838.5 872.5,830.5 862.5,820.5"/>
<polygon points="858.5,813.5 867.5,828.5 862.5,820.5 852.5,804.5"/>
<polygon points="847.5,793.5 858.5,813.5 852.5,804.5 842.5,783.5"/>
<polygon points="838.5,767.5 847.5,793.5 842.5,783.5 832.5,755.5"/>
<polygon points="828.5,733.5 838.5,767.5 832.5,755.5 822.5,718.5"/>
<polygon points="817.5,685.5 828.5,733.5 822.5,718.5 811.5,673.5"/>
<polygon points="807.5,628.5 817.5,685.5 811.5,673.5 802.5,622.5"/>
<polygon points="797.5,565.5 807.5,628.5 802.5,622.5 792.5,574.5"/>
<polygon points="787.5,521.5 797.5,565.5 792.5,574.5 782.5,547.5"/>
<polygon points="777.5,523.5 787.5,521.5 782.5,547.5 772.5,549.5"/>
<polygon points="768.5,573.5 777.5,523.5 772.5,549.5 762.5,583.5"/>
<polygon points="757.5,641.5 768.5,573.5 762.5,583.5 751.5,636.5"/>
<polygon points="748.5,705.5 757.5,641.5 751.5,636.5 741.5,693.5"/>
<polygon points="737.5,756.5 748.5,705.5 741.5,693.5 732.5,744.5"/>
<polygon points="727.5,798.5 737.5,756.5 732.5,744.5 722.5,788.5"/>
<polygon points="717.5,830.5 727.5,798.5 722.5,788.5 712.5,819.5"/>
<polygon points="707.5,855.5 717.5,830.5 712.5,819.5 702.5,846.5"/>
<polygon points="697.5,875.5 707.5,855.5 702.5,846.5 692.5,866.5"/>
<polygon points="687.5,891.5 697.5,875.5 692.5,866.5 681.5,884.5"/>
<polygon points="677.5,905.5 687.5,891.5 681.5,884.5 672.5,898.5"/>
<polygon points="667.5,915.5 677.5,905.5 672.5,898.5 661.5,910.5"/>
<polygon points="657.5,925.5 667.5,915.5 661.5,910.5 652.5,919.5"/>
<polygon points="647.5,932.5 657.5,925.5 652.5,919.5 640.5,925.5"/>
<polygon points="637.5,939.5 647.5,932.5 640.5,925.5 631.5,933.5"/>
<polygon points="627.5,941.5 637.5,939.5 631.5,933.5 621.5,939.5"/>
<polygon points="617.5,949.5 627.5,941.5 621.5,939.5 612.5,944.5"/>
<polygon points="607.5,954.5 617.5,949.5 612.5,944.5 600.5,949.5"/>
<polygon points="597.5,958.5 607.5,954.5 600.5,949.5 592.5,953.5"/>
<polygon points="587.5,962.5 597.5,958.5 592.5,953.5 581.5,957.5"/>
<polygon points="577.5,965.5 587.5,962.5 581.5,957.5 571.5,960.5"/>
<polygon points="567.5,969.5 577.5,965.5 571.5,960.5 561.5,964.5"/>
<polygon points="557.5,972.5 567.5,969.5 561.5,964.5 551.5,967.5"/>
<polygon points="547.5,974.5 557.5,972.5 551.5,967.5 541.5,971.5"/>
<polygon points="537.5,979.5 547.5,974.5 541.5,971.5 531.5,974.5"/>
<polygon points="1023.5,848.5 1034.5,845.5 1028.5,841.5 1018.5,843.5"/>
<polygon points="1013.5,851.5 1023.5,848.5 1018.5,843.5 1008.5,846.5"/>
<polygon points="1004.5,853.5 1013.5,851.5 1008.5,846.5 998.5,848.5"/>
<polygon points="994.5,855.5 1004.5,853.5 998.5,848.5 988.5,850.5"/>
<polygon points="983.5,858.5 994.5,855.5 988.5,850.5 977.5,853.5"/>
<polygon points="973.5,859.5 983.5,858.5 977.5,853.5 968.5,854.5"/>
<polygon points="963.5,860.5 973.5,859.5 968.5,854.5 958.5,856.5"/>
<polygon points="953.5,862.5 963.5,860.5 958.5,856.5 947.5,857.5"/>
<polygon points="943.5,863.5 953.5,862.5 947.5,857.5 938.5,857.5"/>
<polygon points="933.5,863.5 943.5,863.5 938.5,857.5 927.5,858.5"/>
<polygon points="924.5,862.5 933.5,863.5 927.5,858.5 918.5,856.5"/>
<polygon points="913.5,860.5 924.5,862.5 918.5,856.5 908.5,855.5"/>
<polygon points="903.5,857.5 913.5,860.5 908.5,855.5 898.5,851.5"/>
<polygon points="893.5,852.5 903.5,857.5 898.5,851.5 888.5,846.5"/>
<polygon points="883.5,844.5 893.5,852.5 888.5,846.5 877.5,838.5"/>
<polygon points="873.5,835.5 883.5,844.5 877.5,838.5 867.5,828.5"/>
<polygon points="863.5,821.5 873.5,835.5 867.5,828.5 858.5,813.5"/>
<polygon points="854.5,801.5 863.5,821.5 858.5,813.5 847.5,793.5"/>
<polygon points="843.5,776.5 854.5,801.5 847.5,793.5 838.5,767.5"/>
<polygon points="833.5,742.5 843.5,776.5 838.5,767.5 828.5,733.5"/>
<polygon points="823.5,698.5 833.5,742.5 828.5,733.5 817.5,685.5"/>
<polygon points="813.5,640.5 823.5,698.5 817.5,685.5 807.5,628.5"/>
<polygon points="803.5,565.5 813.5,640.5 807.5,628.5 797.5,565.5"/>
<polygon points="793.5,494.5 803.5,565.5 797.5,565.5 787.5,521.5"/>
<polygon points="783.5,497.5 793.5,494.5 787.5,521.5 777.5,523.5"/>
<polygon points="773.5,573.5 783.5,497.5 777.5,523.5 768.5,573.5"/>
<polygon points="761.5,654.5 773.5,573.5 768.5,573.5 757.5,641.5"/>
<polygon points="753.5,717.5 761.5,654.5 757.5,641.5 748.5,705.5"/>
<polygon points="743.5,768.5 753.5,717.5 748.5,705.5 737.5,756.5"/>
<polygon points="733.5,807.5 743.5,768.5 737.5,756.5 727.5,798.5"/>
<polygon points="724.5,838.5 733.5,807.5 727.5,798.5 717.5,830.5"/>
<polygon points="713.5,862.5 724.5,838.5 717.5,830.5 707.5,855.5"/>
<polygon points="703.5,882.5 713.5,862.5 707.5,855.5 697.5,875.5"/>
<polygon points="693.5,898.5 703.5,882.5 697.5,875.5 687.5,891.5"/>
<polygon points="683.5,911.5 693.5,898.5 687.5,891.5 677.5,905.5"/>
<polygon points="673.5,922.5 683.5,911.5 677.5,905.5 667.5,915.5"/>
<polygon points="663.5,930.5 673.5,922.5 667.5,915.5 657.5,925.5"/>
<polygon points="653.5,941.5 663.5,930.5 657.5,925.5 647.5,932.5"/>
<polygon points="643.5,944.5 653.5,941.5 647.5,932.5 637.5,939.5"/>
<polygon points="633.5,950.5 643.5,944.5 637.5,939.5 627.5,941.5"/>
<polygon points="623.5,954.5 633.5,950.5 627.5,941.5 617.5,949.5"/>
<polygon points="612.5,958.5 623.5,954.5 617.5,949.5 607.5,954.5"/>
<polygon points="603.5,963.5 612.5,958.5 607.5,954.5 597.5,958.5"/>
<polygon points="593.5,967.5 603.5,963.5 597.5,958.5 587.5,962.5"/>
<polygon points="583.5,970.5 593.5,967.5 587.5,962.5 577.5,965.5"/>
<polygon points="573.5,974.5 583.5,970.5 577.5,965.5 567.5,969.5"/>
<polygon points="563.5,977.5 573.5,974.5 567.5,969.5 557.5,972.5"/>
<polygon points="553.5,980.5 563.5,977.5 557.5,972.5 547.5,974.5"/>
<polygon points="543.5,984.5 553.5,980.5 547.5,974.5 537.5,979.5"/>
<polygon points="1030.5,853.5 1039.5,850.5 1034.5,845.5 1023.5,848.5"/>
<polygon points="1019.5,856.5 1030.5,853.5 1023.5,848.5 1013.5,851.5"/>
<polygon points="1010.5,857.5 1019.5,856.5 1013.5,851.5 1004.5,853.5"/>
<polygon points="999.5,858.5 1010.5,857.5 1004.5,853.5 994.5,855.5"/>
<polygon points="990.5,862.5 999.5,858.5 994.5,855.5 983.5,858.5"/>
<polygon points="980.5,865.5 990.5,862.5 983.5,858.5 973.5,859.5"/>
<polygon points="969.5,865.5 980.5,865.5 973.5,859.5 963.5,860.5"/>
<polygon points="959.5,867.5 969.5,865.5 963.5,860.5 953.5,862.5"/>
<polygon points="949.5,868.5 959.5,867.5 953.5,862.5 943.5,863.5"/>
<polygon points="939.5,867.5 949.5,868.5 943.5,863.5 933.5,863.5"/>
<polygon points="929.5,867.5 939.5,867.5 933.5,863.5 924.5,862.5"/>
<polygon points="919.5,865.5 929.5,867.5 924.5,862.5 913.5,860.5"/>
<polygon points="909.5,863.5 919.5,865.5 913.5,860.5 903.5,857.5"/>
<polygon points="899.5,857.5 909.5,863.5 903.5,857.5 893.5,852.5"/>
<polygon points="889.5,850.5 899.5,857.5 893.5,852.5 883.5,844.5"/>
<polygon points="879.5,840.5 889.5,850.5 883.5,844.5 873.5,835.5"/>
<polygon points="869.5,826.5 879.5,840.5 873.5,835.5 863.5,821.5"/>
<polygon points="859.5,809.5 869.5,826.5 863.5,821.5 854.5,801.5"/>
<polygon points="849.5,782.5 859.5,809.5 854.5,801.5 843.5,776.5"/>
<polygon points="840.5,752.5 849.5,782.5 843.5,776.5 833.5,742.5"/>
<polygon points="829.5,706.5 840.5,752.5 833.5,742.5 823.5,698.5"/>
<polygon points="819.5,649.5 829.5,706.5 823.5,698.5 813.5,640.5"/>
<polygon points="810.5,573.5 819.5,649.5 813.5,640.5 803.5,565.5"/>
<polygon points="799.5,477.5 810.5,573.5 803.5,565.5 793.5,494.5"/>
<polygon points="789.5,479.5 799.5,477.5 793.5,494.5 783.5,497.5"/>
<polygon points="779.5,583.5 789.5,479.5 783.5,497.5 773.5,573.5"/>
<polygon points="768.5,662.5 779.5,583.5 773.5,573.5 761.5,654.5"/>
<polygon points="759.5,726.5 768.5,662.5 761.5,654.5 753.5,717.5"/>
<polygon points="749.5,775.5 759.5,726.5 753.5,717.5 743.5,768.5"/>
<polygon points="739.5,814.5 749.5,775.5 743.5,768.5 733.5,807.5"/>
<polygon points="728.5,844.5 739.5,814.5 733.5,807.5 724.5,838.5"/>
<polygon points="718.5,869.5 728.5,844.5 724.5,838.5 713.5,862.5"/>
<polygon points="708.5,888.5 718.5,869.5 713.5,862.5 703.5,882.5"/>
<polygon points="699.5,904.5 708.5,888.5 703.5,882.5 693.5,898.5"/>
<polygon points="689.5,916.5 699.5,904.5 693.5,898.5 683.5,911.5"/>
<polygon points="679.5,926.5 689.5,916.5 683.5,911.5 673.5,922.5"/>
<polygon points="669.5,935.5 679.5,926.5 673.5,922.5 663.5,930.5"/>
<polygon points="659.5,943.5 669.5,935.5 663.5,930.5 653.5,941.5"/>
<polygon points="649.5,949.5 659.5,943.5 653.5,941.5 643.5,944.5"/>
<polygon points="639.5,954.5 649.5,949.5 643.5,944.5 633.5,950.5"/>
<polygon points="629.5,960.5 639.5,954.5 633.5,950.5 623.5,954.5"/>
<polygon points="619.5,964.5 629.5,960.5 623.5,954.5 612.5,958.5"/>
<polygon points="609.5,968.5 619.5,964.5 612.5,958.5 603.5,963.5"/>
<polygon points="598.5,972.5 609.5,968.5 603.5,963.5 593.5,967.5"/>
<polygon points="589.5,976.5 598.5,972.5 593.5,967.5 583.5,970.5"/>
<polygon points="578.5,978.5 589.5,976.5 583.5,970.5 573.5,974.5"/>
<polygon points="568.5,982.5 578.5,978.5 573.5,974.5 563.5,977.5"/>
<polygon points="558.5,985.5 568.5,982.5 563.5,977.5 553.5,980.5"/>
<polygon points="549.5,988.5 558.5,985.5 553.5,980.5 543.5,984.5"/>
</g>
<g stroke="#000" stroke-width="0.97" fill="none">
<line x1="546.3" y1="993" x2="546.3" y2="503.7" />
<line x1="546.3" y1="503.7" x2="258.8" y2="260.9" />
<line x1="546.3" y1="503.7" x2="1047.2" y2="363.2" />
<line x1="546.3" y1="993" x2="258.8" y2="750.2" />
<line x1="546.3" y1="993" x2="1047.2" y2="852.5" />
<line x1="258.8" y1="750.2" x2="243.8" y2="750.2" />
<line x1="258.8" y1="732.67" x2="251.5" y2="732.67" />
<line x1="258.8" y1="715.14" x2="251.5" y2="715.14" />
<line x1="258.8" y1="697.61" x2="251.5" y2="697.61" />
<line x1="258.8" y1="680.08" x2="251.5" y2="680.08" />
<line x1="258.8" y1="662.55" x2="243.8" y2="662.55" />
<line x1="258.8" y1="645.02" x2="251.5" y2="645.02" />
<line x1="258.8" y1="627.49" x2="251.5" y2="627.49" />
<line x1="258.8" y1="609.96" x2="251.5" y2="609.96" />
<line x1="258.8" y1="592.43" x2="251.5" y2="592.43" />
<line x1="258.8" y1="574.9" x2="243.8" y2="574.9" />
<line x1="258.8" y1="557.37" x2="251.5" y2="557.37" />
<line x1="258.8" y1="539.84" x2="251.5" y2="539.84" />
<line x1="258.8" y1="522.31" x2="251.5" y2="522.31" />
<line x1="258.8" y1="504.78" x2="251.5" y2="504.78" />
<line x1="258.8" y1="487.25" x2="243.8" y2="487.25" />
<line x1="258.8" y1="469.72" x2="251.5" y2="469.72" />
<line x1="258.8" y1="452.19" x2="251.5" y2="452.19" />
<line x1="258.8" y1="434.66" x2="251.5" y2="434.66" />
<line x1="258.8" y1="417.13" x2="251.5" y2="417.13" />
<line x1="258.8" y1="399.6" x2="243.8" y2="399.6" />
<line x1="258.8" y1="382.07" x2="251.5" y2="382.07" />
<line x1="258.8" y1="364.54" x2="251.5" y2="364.54" />
<line x1="258.8" y1="347.01" x2="251.5" y2="347.01" />
<line x1="258.8" y1="329.48" x2="251.5" y2="329.48" />
<line x1="258.8" y1="311.95" x2="243.8" y2="311.95" />
<line x1="258.8" y1="294.42" x2="251.5" y2="294.42" />
<line x1="258.8" y1="276.89" x2="251.5" y2="276.89" />
<line x1="546.3" y1="993" x2="550.51" y2="1008.03" />
<line x1="558.82" y1="989.49" x2="560.93" y2="997" />
<line x1="571.34" y1="985.98" x2="573.45" y2="993.49" />
<line x1="583.87" y1="982.46" x2="585.97" y2="989.98" />
<line x1="596.39" y1="978.95" x2="600.61" y2="993.98" />
<line x1="608.91" y1="975.44" x2="611.02" y2="982.95" />
<line x1="621.43" y1="971.92" x2="623.54" y2="979.44" />
<line x1="633.96" y1="968.41" x2="636.06" y2="975.93" />
<line x1="646.48" y1="964.9" x2="650.7" y2="979.93" />
<line x1="659" y1="961.39" x2="661.11" y2="968.9" />
<line x1="671.52" y1="957.88" x2="673.63" y2="965.39" />
<line x1="684.05" y1="954.36" x2="686.15" y2="961.88" />
<line x1="696.57" y1="950.85" x2="700.78" y2="965.88" />
<line x1="709.09" y1="947.34" x2="711.2" y2="954.85" />
<line x1="721.61" y1="943.83" x2="723.72" y2="951.34" />
<line x1="734.14" y1="940.31" x2="736.24" y2="947.83" />
<line x1="746.66" y1="936.8" x2="750.88" y2="951.83" />
<line x1="759.18" y1="933.29" x2="761.29" y2="940.8" />
<line x1="771.7" y1="929.77" x2="773.81" y2="937.29" />
<line x1="784.23" y1="926.26" x2="786.33" y2="933.78" />
<line x1="796.75" y1="922.75" x2="800.97" y2="937.78" />
<line x1="809.27" y1="919.24" x2="811.38" y2="926.75" />
<line x1="821.79" y1="915.73" x2="823.9" y2="923.24" />
<line x1="834.32" y1="912.21" x2="836.42" y2="919.73" />
<line x1="846.84" y1="908.7" x2="851.05" y2="923.73" />
<line x1="859.36" y1="905.19" x2="861.47" y2="912.7" />
<line x1="871.88" y1="901.67" x2="873.99" y2="909.19" />
<line x1="884.41" y1="898.16" x2="886.51" y2="905.68" />
<line x1="896.93" y1="894.65" x2="901.14" y2="909.68" />
<line x1="909.45" y1="891.14" x2="911.56" y2="898.65" />
<line x1="921.97" y1="887.62" x2="924.08" y2="895.14" />
<line x1="934.5" y1="884.11" x2="936.6" y2="891.63" />
<line x1="947.02" y1="880.6" x2="951.24" y2="895.63" />
<line x1="959.54" y1="877.09" x2="961.65" y2="884.6" />
<line x1="972.06" y1="873.58" x2="974.17" y2="881.09" />
<line x1="984.59" y1="870.06" x2="986.69" y2="877.58" />
<line x1="997.11" y1="866.55" x2="1001.32" y2="881.58" />
<line x1="1009.63" y1="863.04" x2="1011.74" y2="870.55" />
<line x1="1022.15" y1="859.52" x2="1024.26" y2="867.04" />
<line x1="1034.68" y1="856.01" x2="1036.78" y2="863.53" />
<line x1="1047.2" y1="852.5" x2="1051.41" y2="867.53" />
<line x1="540.83" y1="988.38" x2="537.19" y2="992.69" />
<line x1="535.08" y1="983.52" x2="531.43" y2="987.83" />
<line x1="529.32" y1="978.66" x2="525.68" y2="982.97" />
<line x1="523.56" y1="973.8" x2="519.92" y2="978.11" />
<line x1="517.81" y1="968.94" x2="510.53" y2="977.56" />
<line x1="512.05" y1="964.08" x2="508.41" y2="968.39" />
<line x1="506.3" y1="959.22" x2="502.66" y2="963.53" />
<line x1="500.54" y1="954.36" x2="496.9" y2="958.67" />
<line x1="494.79" y1="949.5" x2="491.14" y2="953.81" />
<line x1="489.03" y1="944.63" x2="481.75" y2="953.26" />
<line x1="483.27" y1="939.77" x2="479.63" y2="944.09" />
<line x1="477.52" y1="934.91" x2="473.88" y2="939.23" />
<line x1="471.76" y1="930.05" x2="468.12" y2="934.36" />
<line x1="466.01" y1="925.19" x2="462.37" y2="929.5" />
<line x1="460.25" y1="920.33" x2="452.97" y2="928.96" />
<line x1="454.5" y1="915.47" x2="450.85" y2="919.78" />
<line x1="448.74" y1="910.61" x2="445.1" y2="914.92" />
<line x1="442.98" y1="905.75" x2="439.34" y2="910.06" />
<line x1="437.23" y1="900.89" x2="433.59" y2="905.2" />
<line x1="431.47" y1="896.03" x2="424.19" y2="904.65" />
<line x1="425.72" y1="891.16" x2="422.07" y2="895.48" />
<line x1="419.96" y1="886.3" x2="416.32" y2="890.62" />
<line x1="414.21" y1="881.44" x2="410.56" y2="885.76" />
<line x1="408.45" y1="876.58" x2="404.81" y2="880.89" />
<line x1="402.69" y1="871.72" x2="395.41" y2="880.35" />
<line x1="396.94" y1="866.86" x2="393.3" y2="871.17" />
<line x1="391.18" y1="862" x2="387.54" y2="866.31" />
<line x1="385.43" y1="857.14" x2="381.78" y2="861.45" />
<line x1="379.67" y1="852.28" x2="376.03" y2="856.59" />
<line x1="373.92" y1="847.42" x2="366.63" y2="856.04" />
<line x1="368.16" y1="842.56" x2="364.52" y2="846.87" />
<line x1="362.4" y1="837.7" x2="358.76" y2="842.01" />
<line x1="356.65" y1="832.83" x2="353.01" y2="837.15" />
<line x1="350.89" y1="827.97" x2="347.25" y2="832.29" />
<line x1="345.14" y1="823.11" x2="337.85" y2="831.74" />
<line x1="339.38" y1="818.25" x2="335.74" y2="822.56" />
<line x1="333.62" y1="813.39" x2="329.98" y2="817.7" />
<line x1="327.87" y1="808.53" x2="324.23" y2="812.84" />
<line x1="322.11" y1="803.67" x2="318.47" y2="807.98" />
<line x1="316.36" y1="798.81" x2="309.07" y2="807.43" />
<line x1="310.6" y1="793.95" x2="306.96" y2="798.26" />
<line x1="304.85" y1="789.09" x2="301.2" y2="793.4" />
<line x1="299.09" y1="784.23" x2="295.45" y2="788.54" />
<line x1="293.33" y1="779.37" x2="289.69" y2="783.68" />
<line x1="287.58" y1="774.5" x2="280.29" y2="783.13" />
<line x1="281.82" y1="769.64" x2="278.18" y2="773.96" />
<line x1="276.07" y1="764.78" x2="272.43" y2="769.1" />
<line x1="270.31" y1="759.92" x2="266.67" y2="764.23" />
<line x1="264.56" y1="755.06" x2="260.91" y2="759.37" />
<line x1="258.8" y1="750.2" x2="251.52" y2="758.83" />
</g>
<g font-family="Liberation Sans, sans-serif" fill="#000">
<text font-size="34.7" text-anchor="end" transform="translate(236.8 764.8) scale(1 1.048)" >0</text>
<text font-size="34.7" text-anchor="end" transform="translate(236.8 677.15) scale(1 1.048)" >0.0005</text>
<text font-size="34.7" text-anchor="end" transform="translate(236.8 589.5) scale(1 1.048)" >0.001</text>
<text font-size="34.7" text-anchor="end" transform="translate(236.8 501.85) scale(1 1.048)" >0.0015</text>
<text font-size="34.7" text-anchor="end" transform="translate(236.8 414.2) scale(1 1.048)" >0.002</text>
<text font-size="34.7" text-anchor="end" transform="translate(236.8 326.55) scale(1 1.048)" >0.0025</text>
<text font-size="34.7" text-anchor="end" transform="translate(111.2 271.3) rotate(-90) scale(1 1.048)" >Events / ( 0.4 x 0.1998 )</text>
<text font-size="34.7" text-anchor="middle" transform="translate(554.8 1045.5) scale(1 1.048)" >−10</text>
<text font-size="34.7" text-anchor="middle" transform="translate(604.89 1031.45) scale(1 1.048)" >−8</text>
<text font-size="34.7" text-anchor="middle" transform="translate(654.98 1017.4) scale(1 1.048)" >−6</text>
<text font-size="34.7" text-anchor="middle" transform="translate(705.07 1003.35) scale(1 1.048)" >−4</text>
<text font-size="34.7" text-anchor="middle" transform="translate(755.16 989.3) scale(1 1.048)" >−2</text>
<text font-size="34.7" text-anchor="middle" transform="translate(805.25 975.25) scale(1 1.048)" >0</text>
<text font-size="34.7" text-anchor="middle" transform="translate(855.34 961.2) scale(1 1.048)" >2</text>
<text font-size="34.7" text-anchor="middle" transform="translate(905.43 947.15) scale(1 1.048)" >4</text>
<text font-size="34.7" text-anchor="middle" transform="translate(955.52 933.1) scale(1 1.048)" >6</text>
<text font-size="34.7" text-anchor="middle" transform="translate(1005.61 919.05) scale(1 1.048)" >8</text>
<text font-size="34.7" text-anchor="middle" transform="translate(1055.7 905) scale(1 1.048)" >10</text>
<text font-size="34.7" text-anchor="end" transform="translate(1060 913.3) rotate(-15.67) scale(1 1.048)" >dt</text>
<text font-size="34.7" text-anchor="end" transform="translate(491.31 1012.94) scale(1 1.048)" >1</text>
<text font-size="34.7" text-anchor="end" transform="translate(462.53 988.63) scale(1 1.048)" >2</text>
<text font-size="34.7" text-anchor="end" transform="translate(433.75 964.33) scale(1 1.048)" >3</text>
<text font-size="34.7" text-anchor="end" transform="translate(404.97 940.03) scale(1 1.048)" >4</text>
<text font-size="34.7" text-anchor="end" transform="translate(376.19 915.72) scale(1 1.048)" >5</text>
<text font-size="34.7" text-anchor="end" transform="translate(347.42 891.42) scale(1 1.048)" >6</text>
<text font-size="34.7" text-anchor="end" transform="translate(318.64 867.11) scale(1 1.048)" >7</text>
<text font-size="34.7" text-anchor="end" transform="translate(289.86 842.81) scale(1 1.048)" >8</text>
<text font-size="34.7" text-anchor="end" transform="translate(261.08 818.5) scale(1 1.048)" >9</text>
<text font-size="34.7" text-anchor="end" transform="translate(232.3 794.2) scale(1 1.048)" >10</text>
<text font-size="34.7" text-anchor="end" transform="translate(443.8 1021) rotate(40.18) scale(1 1.048)" >per-event error on dt</text>
<text font-size="47.8" text-anchor="middle" transform="translate(597 62.9) scale(1 1.03)" >Histogram of hh_decay__dt_dterr</text>
</g>
<rect x="912.9" y="81.6" width="224.8" height="260.6" fill="#fff" stroke="#000" stroke-width="1"/>
<line x1="912.9" y1="123.5" x2="1137.7" y2="123.5" stroke="#000" stroke-width="1"/>
<g font-family="Liberation Sans, sans-serif" fill="#000">
<text font-size="21.8" text-anchor="middle" transform="translate(1025.3 110.2) scale(1 1.02)" >hh_decay__dt_dterr</text>
<text font-size="22.4" text-anchor="start" transform="translate(924 155.7) scale(1 1.02)" >Entries</text>
<text font-size="22.4" text-anchor="end" transform="translate(1122.5 155.7) scale(1 1.02)" >2500</text>
<text font-size="22.4" text-anchor="start" transform="translate(924 197.8) scale(1 1.02)" >Mean x</text>
<text font-size="22.4" text-anchor="end" transform="translate(1122.5 197.8) scale(1 1.02)" >0.01428</text>
<text font-size="22.4" text-anchor="start" transform="translate(924 242.5) scale(1 1.02)" >Mean y</text>
<text font-size="22.4" text-anchor="end" transform="translate(1122.5 242.5) scale(1 1.02)" >4.682</text>
<text font-size="22.4" text-anchor="start" transform="translate(924 286.5) scale(1 1.02)" >Std Dev x</text>
<text font-size="22.4" text-anchor="end" transform="translate(1122.5 286.5) scale(1 1.02)" >4.201</text>
<text font-size="22.4" text-anchor="start" transform="translate(924 329.5) scale(1 1.02)" >Std Dev y</text>
<text font-size="22.4" text-anchor="end" transform="translate(1122.5 329.5) scale(1 1.02)" >2.82</text>
</g>
<g fill="none" stroke="#0000ff" stroke-width="3.3" stroke-linejoin="round" stroke-linecap="butt">
<polyline points="1398.8,992.24 1403.01,992.15 1407.23,992.05 1411.44,991.96 1415.66,991.85 1419.87,991.74 1424.08,991.61 1428.3,991.48 1432.51,991.34 1436.73,991.19 1440.94,991.04 1445.15,990.87 1449.37,990.7 1453.58,990.52 1457.8,990.33 1462.01,990.12 1466.22,989.88 1470.44,989.62 1474.65,989.34 1478.87,989.04 1483.08,988.72 1487.29,988.4 1491.51,988.05 1495.72,987.68 1499.94,987.29 1504.15,986.87 1508.36,986.42 1512.58,985.93 1516.79,985.42 1521.01,984.87 1525.22,984.28 1529.43,983.67 1533.65,983.02 1537.86,982.32 1542.08,981.58 1546.29,980.79 1550.5,979.92 1554.72,978.99 1558.93,978 1563.15,976.94 1567.36,975.81 1571.57,974.64 1575.79,973.39 1580,972.06 1584.22,970.64 1588.43,969.13 1592.64,967.53 1596.86,965.84 1601.07,964.03 1605.29,962.1 1609.5,960.05 1613.71,957.67 1617.93,955.12 1622.14,952.39 1626.36,949.47 1630.57,946.34 1634.78,943.18 1639,939.82 1643.21,936.23 1647.43,932.4 1651.64,928.32 1655.85,923.86 1660.07,919.1 1664.28,914.01 1668.5,908.57 1672.71,902.76 1676.92,896.99 1681.14,890.84 1685.35,884.31 1689.57,877.36 1693.78,869.98 1697.99,861.83 1702.21,853.16 1706.42,843.91 1710.64,834.05 1714.85,823.54 1719.06,812.24 1723.28,800.18 1727.49,787.33 1731.71,773.62 1735.92,759 1740.13,743.8 1744.35,727.45 1748.56,709.55 1752.78,690.45 1756.99,670.08 1761.2,648.35 1765.42,624.83 1769.63,598.43 1773.85,570.14 1778.06,541.69 1782.27,511.67 1786.49,481.09 1790.7,448.93 1794.92,413.3 1799.13,374.44 1803.34,332.98 1807.56,288.75 1811.77,241.58 1815.99,192.56 1820.2,164.08 1824.41,192.56 1828.63,241.58 1832.84,288.75 1837.06,332.98 1841.27,373.47 1845.48,410.49 1849.7,445.5 1853.91,479.65 1858.13,511.67 1862.34,541.69 1866.55,569.82 1870.77,596.2 1874.98,620.93 1879.2,644.71 1883.41,667.27 1887.62,688.37 1891.84,708.12 1896.05,726.58 1900.27,743.86 1904.48,759.97 1908.69,774.51 1912.91,788.1 1917.12,800.84 1921.34,812.8 1925.55,824.01 1929.76,834.24 1933.98,843.85 1938.19,852.87 1942.41,861.36 1946.62,869.34 1950.83,877.27 1955.05,884.7 1959.26,891.66 1963.48,898.17 1967.69,904.27 1971.9,909.95 1976.12,915.27 1980.33,920.25 1984.55,924.91 1988.76,929.28 1992.97,933.25 1997.19,936.97 2001.4,940.46 2005.62,943.73 2009.83,946.81 2014.04,949.66 2018.26,952.33 2022.47,954.85 2026.69,957.21 2030.9,959.43 2035.11,961.49 2039.33,963.43 2043.54,965.26 2047.76,966.97 2051.97,968.59 2056.18,970.28 2060.4,971.87 2064.61,973.34 2068.83,974.72 2073.04,976.01 2077.25,977.09 2081.47,978.1 2085.68,979.06 2089.9,979.95 2094.11,980.79 2098.32,981.6 2102.54,982.35 2106.75,983.06 2110.97,983.72 2115.18,984.34 2119.39,984.95 2123.61,985.51 2127.82,986.04 2132.04,986.53 2136.25,987 2140.46,987.39 2144.68,987.76 2148.89,988.11 2153.11,988.44 2157.32,988.75 2161.53,989.06 2165.75,989.34 2169.96,989.61 2174.18,989.86 2178.39,990.09 2182.6,990.3 2186.82,990.49 2191.03,990.68 2195.25,990.85 2199.46,991.01 2203.67,991.18 2207.89,991.34 2212.1,991.48 2216.32,991.62 2220.53,991.75 2224.74,991.87 2228.96,991.98 2233.17,992.09 2237.39,992.18 2241.6,992.28"/>
<polyline points="1398.8,990.33 1403.01,990.11 1407.23,989.89 1411.44,989.65 1415.66,989.39 1419.87,989.12 1424.08,988.83 1428.3,988.53 1432.51,988.2 1436.73,987.86 1440.94,987.49 1445.15,987.07 1449.37,986.62 1453.58,986.14 1457.8,985.63 1462.01,985.08 1466.22,984.51 1470.44,983.91 1474.65,983.26 1478.87,982.58 1483.08,981.85 1487.29,981.07 1491.51,980.25 1495.72,979.37 1499.94,978.44 1504.15,977.45 1508.36,976.35 1512.58,975.19 1516.79,973.95 1521.01,972.62 1525.22,971.21 1529.43,969.85 1533.65,968.4 1537.86,966.88 1542.08,965.26 1546.29,963.56 1550.5,961.51 1554.72,959.32 1558.93,957 1563.15,954.54 1567.36,951.91 1571.57,949.19 1575.79,946.3 1580,943.24 1584.22,940 1588.43,936.58 1592.64,933.12 1596.86,929.48 1601.07,925.66 1605.29,921.64 1609.5,917.43 1613.71,912.95 1617.93,908.26 1622.14,903.35 1626.36,898.22 1630.57,892.87 1634.78,887.34 1639,881.58 1643.21,875.61 1647.43,869.41 1651.64,862.99 1655.85,856.27 1660.07,849.32 1664.28,842.17 1668.5,834.8 1672.71,827.31 1676.92,820.39 1681.14,813.46 1685.35,806.44 1689.57,799.36 1693.78,792.24 1697.99,783.34 1702.21,774.3 1706.42,765.14 1710.64,755.88 1714.85,746.54 1719.06,739.27 1723.28,732.12 1727.49,725.12 1731.71,717.09 1735.92,708.95 1740.13,700.95 1744.35,693.13 1748.56,685.52 1752.78,678.14 1756.99,670.67 1761.2,664.22 1765.42,657.72 1769.63,651.58 1773.85,645.83 1778.06,640.47 1782.27,635.55 1786.49,631.08 1790.7,625.41 1794.92,619.93 1799.13,616.34 1803.34,613.87 1807.56,611.94 1811.77,610.55 1815.99,609.71 1820.2,609.43 1824.41,609.71 1828.63,610.55 1832.84,612.64 1837.06,615.62 1841.27,619.13 1845.48,620.8 1849.7,623 1853.91,626.84 1858.13,631.31 1862.34,636.23 1866.55,641.58 1870.77,647.34 1874.98,654.68 1879.2,662.65 1883.41,670.88 1887.62,677.48 1891.84,684.36 1896.05,691.5 1900.27,698.87 1904.48,706.44 1908.69,714.59 1912.91,722.85 1917.12,731.21 1921.34,739.62 1925.55,748.07 1929.76,757.04 1933.98,765.95 1938.19,774.79 1942.41,783.52 1946.62,792.14 1950.83,799.66 1955.05,807.1 1959.26,814.44 1963.48,821.67 1967.69,828.78 1971.9,835.75 1976.12,842.57 1980.33,849.23 1984.55,855.72 1988.76,862.17 1992.97,869.15 1997.19,875.99 2001.4,882.53 2005.62,888.8 2009.83,894.79 2014.04,899.67 2018.26,904.37 2022.47,908.89 2026.69,913.23 2030.9,917.39 2035.11,921.77 2039.33,925.93 2043.54,929.88 2047.76,933.62 2051.97,937.18 2056.18,940.26 2060.4,943.19 2064.61,945.98 2068.83,948.63 2073.04,951.15 2077.25,953.77 2081.47,956.23 2085.68,958.56 2089.9,960.74 2094.11,962.8 2098.32,964.66 2102.54,966.41 2106.75,968.06 2110.97,969.62 2115.18,971.08 2119.39,972.47 2123.61,973.77 2127.82,974.99 2132.04,976.14 2136.25,977.23 2140.46,978.25 2144.68,979.21 2148.89,980.12 2153.11,980.96 2157.32,981.76 2161.53,982.53 2165.75,983.25 2169.96,983.92 2174.18,984.55 2178.39,985.14 2182.6,985.63 2186.82,986.09 2191.03,986.52 2195.25,986.93 2199.46,987.32 2203.67,987.74 2207.89,988.13 2212.1,988.5 2216.32,988.84 2220.53,989.16 2224.74,989.43 2228.96,989.68 2233.17,989.91 2237.39,990.13 2241.6,990.34"/>
<polyline points="1398.8,971.5 1403.01,970.53 1407.23,969.52 1411.44,968.49 1415.66,967.41 1419.87,966.3 1424.08,965.03 1428.3,963.72 1432.51,962.35 1436.73,960.93 1440.94,959.47 1445.15,957.95 1449.37,956.37 1453.58,954.75 1457.8,953.07 1462.01,951.33 1466.22,949.71 1470.44,948.05 1474.65,946.34 1478.87,944.59 1483.08,942.8 1487.29,940.93 1491.51,939.02 1495.72,937.06 1499.94,935.06 1504.15,933.01 1508.36,931.05 1512.58,929.05 1516.79,927.03 1521.01,924.97 1525.22,922.87 1529.43,920.21 1533.65,917.49 1537.86,914.7 1542.08,911.84 1546.29,908.92 1550.5,906.18 1554.72,903.4 1558.93,900.57 1563.15,897.7 1567.36,894.78 1571.57,891.87 1575.79,888.93 1580,885.95 1584.22,882.94 1588.43,879.9 1592.64,876.93 1596.86,873.95 1601.07,870.94 1605.29,867.92 1609.5,864.89 1613.71,861.42 1617.93,857.91 1622.14,854.39 1626.36,850.84 1630.57,847.27 1634.78,844.29 1639,841.33 1643.21,838.39 1647.43,835.46 1651.64,832.56 1655.85,829.26 1660.07,825.97 1664.28,822.7 1668.5,819.46 1672.71,816.23 1676.92,812.93 1681.14,809.66 1685.35,806.42 1689.57,803.21 1693.78,800.05 1697.99,797.74 1702.21,795.51 1706.42,793.35 1710.64,791.27 1714.85,789.26 1719.06,786.56 1723.28,783.92 1727.49,781.36 1731.71,778.87 1735.92,776.46 1740.13,773.37 1744.35,770.36 1748.56,767.67 1752.78,765.82 1756.99,764.08 1761.2,762.44 1765.42,760.9 1769.63,759.46 1773.85,758.13 1778.06,757.18 1782.27,756.98 1786.49,756.9 1790.7,756.95 1794.92,757.11 1799.13,756.73 1803.34,756.2 1807.56,755.4 1811.77,754.58 1815.99,753.88 1820.2,753.29 1824.41,753.08 1828.63,752.98 1832.84,753 1837.06,753.14 1841.27,753.4 1845.48,753.77 1849.7,754.26 1853.91,754.86 1858.13,755.8 1862.34,756.91 1866.55,758.13 1870.77,759.91 1874.98,761.81 1879.2,763.8 1883.41,765.9 1887.62,767.92 1891.84,770.03 1896.05,772.24 1900.27,774.53 1904.48,776.91 1908.69,779.18 1912.91,781.53 1917.12,783.96 1921.34,786.46 1925.55,789.03 1929.76,791.1 1933.98,793.24 1938.19,795.46 1942.41,797.75 1946.62,800.11 1950.83,803.11 1955.05,806.17 1959.26,809.26 1963.48,812.39 1967.69,815.56 1971.9,818.91 1976.12,822.28 1980.33,825.66 1984.55,829.06 1988.76,832.47 1992.97,835.56 1997.19,838.65 2001.4,841.77 2005.62,844.88 2009.83,848.01 2014.04,851.28 2018.26,854.54 2022.47,857.79 2026.69,861.03 2030.9,864.25 2035.11,867.14 2039.33,870.03 2043.54,872.9 2047.76,875.77 2051.97,878.62 2056.18,881.97 2060.4,885.26 2064.61,888.52 2068.83,891.72 2073.04,894.87 2077.25,897.51 2081.47,900.13 2085.68,902.72 2089.9,905.28 2094.11,907.8 2098.32,910.41 2102.54,912.98 2106.75,915.5 2110.97,917.98 2115.18,920.41 2119.39,922.89 2123.61,925.31 2127.82,927.68 2132.04,929.99 2136.25,932.25 2140.46,934.56 2144.68,936.8 2148.89,938.99 2153.11,941.11 2157.32,943.17 2161.53,944.86 2165.75,946.52 2169.96,948.13 2174.18,949.72 2178.39,951.26 2182.6,953.07 2186.82,954.82 2191.03,956.52 2195.25,958.15 2199.46,959.72 2203.67,961.05 2207.89,962.35 2212.1,963.6 2216.32,964.82 2220.53,965.99 2224.74,967.24 2228.96,968.44 2233.17,969.59 2237.39,970.7 2241.6,971.77"/>
<polyline points="1398.8,939.08 1403.01,937.55 1407.23,935.99 1411.44,934.4 1415.66,932.78 1419.87,931.13 1424.08,929.68 1428.3,928.2 1432.51,926.71 1436.73,925.2 1440.94,923.67 1445.15,922.18 1449.37,920.68 1453.58,919.16 1457.8,917.63 1462.01,916.08 1466.22,914.42 1470.44,912.74 1474.65,911.05 1478.87,909.34 1483.08,907.62 1487.29,906.09 1491.51,904.55 1495.72,903 1499.94,901.45 1504.15,899.9 1508.36,898.2 1512.58,896.49 1516.79,894.77 1521.01,893.05 1525.22,891.32 1529.43,889.47 1533.65,887.6 1537.86,885.73 1542.08,883.85 1546.29,881.97 1550.5,879.77 1554.72,877.56 1558.93,875.34 1563.15,873.11 1567.36,870.86 1571.57,869.31 1575.79,867.76 1580,866.23 1584.22,864.71 1588.43,863.21 1592.64,861.77 1596.86,860.36 1601.07,858.96 1605.29,857.58 1609.5,856.22 1613.71,854.28 1617.93,852.34 1622.14,850.41 1626.36,848.49 1630.57,846.58 1634.78,845.25 1639,843.94 1643.21,842.66 1647.43,841.4 1651.64,840.17 1655.85,838.68 1660.07,837.2 1664.28,835.75 1668.5,834.33 1672.71,832.93 1676.92,831.18 1681.14,829.46 1685.35,827.75 1689.57,826.07 1693.78,824.42 1697.99,823.61 1702.21,822.85 1706.42,822.12 1710.64,821.43 1714.85,820.78 1719.06,820.11 1723.28,819.47 1727.49,818.87 1731.71,818.12 1735.92,817.23 1740.13,816.37 1744.35,815.56 1748.56,814.64 1752.78,813.66 1756.99,812.73 1761.2,811.75 1765.42,810.82 1769.63,809.93 1773.85,809.08 1778.06,808.28 1782.27,807.83 1786.49,807.43 1790.7,807.07 1794.92,806.76 1799.13,806.5 1803.34,805.91 1807.56,805.38 1811.77,804.89 1815.99,804.44 1820.2,804.04 1824.41,804.73 1828.63,805.46 1832.84,806.23 1837.06,807.05 1841.27,807.92 1845.48,807.68 1849.7,807.49 1853.91,807.35 1858.13,807.25 1862.34,807.2 1866.55,807.78 1870.77,808.41 1874.98,809.08 1879.2,809.79 1883.41,810.54 1887.62,811.42 1891.84,812.34 1896.05,813.31 1900.27,814.31 1904.48,815.35 1908.69,815.93 1912.91,816.55 1917.12,817.21 1921.34,817.91 1925.55,818.66 1929.76,819.85 1933.98,821.09 1938.19,822.35 1942.41,823.65 1946.62,824.97 1950.83,826.64 1955.05,828.32 1959.26,830.03 1963.48,831.77 1967.69,833.52 1971.9,834.35 1976.12,835.22 1980.33,836.12 1984.55,837.05 1988.76,838.02 1992.97,840.19 1997.19,842.36 2001.4,844.54 2005.62,846.73 2009.83,848.93 2014.04,850.19 2018.26,851.49 2022.47,852.8 2026.69,854.14 2030.9,855.5 2035.11,857.21 2039.33,858.93 2043.54,860.66 2047.76,862.4 2051.97,864.15 2056.18,865.8 2060.4,867.46 2064.61,869.12 2068.83,870.8 2073.04,872.48 2077.25,874.5 2081.47,876.52 2085.68,878.53 2089.9,880.53 2094.11,882.53 2098.32,884.16 2102.54,885.78 2106.75,887.41 2110.97,889.04 2115.18,890.67 2119.39,892.44 2123.61,894.21 2127.82,895.97 2132.04,897.72 2136.25,899.47 2140.46,900.99 2144.68,902.52 2148.89,904.04 2153.11,905.55 2157.32,907.07 2161.53,909.02 2165.75,910.94 2169.96,912.85 2174.18,914.73 2178.39,916.58 2182.6,918.05 2186.82,919.5 2191.03,920.95 2195.25,922.38 2199.46,923.81 2203.67,925.37 2207.89,926.9 2212.1,928.43 2216.32,929.93 2220.53,931.41 2224.74,932.95 2228.96,934.46 2233.17,935.95 2237.39,937.42 2241.6,938.86"/>
<polyline points="1398.8,911.52 1403.01,910.74 1407.23,909.96 1411.44,909.19 1415.66,908.43 1419.87,907.67 1424.08,906.72 1428.3,905.76 1432.51,904.81 1436.73,903.86 1440.94,902.92 1445.15,901.25 1449.37,899.58 1453.58,897.89 1457.8,896.18 1462.01,894.46 1466.22,893.69 1470.44,892.92 1474.65,892.17 1478.87,891.43 1483.08,890.7 1487.29,889.24 1491.51,887.78 1495.72,886.31 1499.94,884.84 1504.15,883.36 1508.36,882.07 1512.58,880.78 1516.79,879.49 1521.01,878.21 1525.22,876.93 1529.43,876.07 1533.65,875.22 1537.86,874.39 1542.08,873.56 1546.29,872.75 1550.5,871.58 1554.72,870.4 1558.93,869.24 1563.15,868.08 1567.36,866.93 1571.57,865.86 1575.79,864.8 1580,863.76 1584.22,862.72 1588.43,861.69 1592.64,860.55 1596.86,859.42 1601.07,858.3 1605.29,857.19 1609.5,856.08 1613.71,855.47 1617.93,854.88 1622.14,854.3 1626.36,853.74 1630.57,853.2 1634.78,852.2 1639,851.2 1643.21,850.23 1647.43,849.26 1651.64,848.31 1655.85,847.19 1660.07,846.08 1664.28,844.99 1668.5,843.9 1672.71,842.84 1676.92,841.76 1681.14,840.7 1685.35,839.66 1689.57,838.63 1693.78,837.61 1697.99,837.06 1702.21,836.53 1706.42,836.02 1710.64,835.53 1714.85,835.06 1719.06,834.19 1723.28,833.33 1727.49,832.49 1731.71,831.73 1735.92,831.25 1740.13,830.8 1744.35,830.59 1748.56,830.47 1752.78,830.39 1756.99,830.32 1761.2,830.33 1765.42,830.37 1769.63,830.43 1773.85,830.51 1778.06,830.62 1782.27,830.28 1786.49,829.96 1790.7,829.67 1794.92,829.4 1799.13,829.16 1803.34,829.61 1807.56,830.1 1811.77,830.6 1815.99,830.81 1820.2,830.8 1824.41,830.81 1828.63,830.84 1832.84,830.84 1837.06,830.61 1841.27,830.4 1845.48,830.54 1849.7,830.72 1853.91,830.91 1858.13,831.13 1862.34,831.37 1866.55,831.23 1870.77,831.12 1874.98,831.04 1879.2,830.98 1883.41,830.94 1887.62,831.19 1891.84,831.47 1896.05,831.77 1900.27,832.09 1904.48,832.44 1908.69,833.26 1912.91,834.11 1917.12,834.97 1921.34,835.85 1925.55,836.75 1929.76,837.34 1933.98,837.94 1938.19,838.57 1942.41,839.21 1946.62,839.88 1950.83,840.82 1955.05,841.78 1959.26,842.75 1963.48,843.74 1967.69,844.75 1971.9,845.12 1976.12,845.52 1980.33,845.94 1984.55,846.39 1988.76,846.85 1992.97,847.61 1997.19,848.38 2001.4,849.17 2005.62,849.98 2009.83,850.8 2014.04,851.69 2018.26,852.59 2022.47,853.5 2026.69,854.43 2030.9,855.37 2035.11,856.68 2039.33,857.99 2043.54,859.32 2047.76,860.64 2051.97,861.98 2056.18,862.37 2060.4,862.79 2064.61,863.23 2068.83,863.68 2073.04,864.32 2077.25,865.47 2081.47,866.78 2085.68,868.09 2089.9,869.41 2094.11,870.74 2098.32,872.17 2102.54,873.61 2106.75,875.05 2110.97,876.49 2115.18,877.92 2119.39,879.18 2123.61,880.45 2127.82,881.71 2132.04,882.98 2136.25,884.25 2140.46,885.39 2144.68,886.54 2148.89,887.69 2153.11,888.84 2157.32,890 2161.53,891.11 2165.75,892.22 2169.96,893.34 2174.18,894.45 2178.39,895.57 2182.6,896.8 2186.82,898.03 2191.03,899.26 2195.25,900.48 2199.46,901.7 2203.67,902.81 2207.89,903.92 2212.1,905.03 2216.32,906.14 2220.53,907.24 2224.74,908.38 2228.96,909.51 2233.17,910.65 2237.39,911.77 2241.6,912.9"/>
</g>
<rect x="1398.8" y="120.5" width="842.8" height="873.1" fill="none" stroke="#000" stroke-width="1"/>
<g stroke="#000" stroke-width="0.97">
<line x1="1398.8" y1="993.6" x2="1398.8" y2="969.1" />
<line x1="1419.87" y1="993.6" x2="1419.87" y2="981.1" />
<line x1="1440.94" y1="993.6" x2="1440.94" y2="981.1" />
<line x1="1462.01" y1="993.6" x2="1462.01" y2="981.1" />
<line x1="1483.08" y1="993.6" x2="1483.08" y2="969.1" />
<line x1="1504.15" y1="993.6" x2="1504.15" y2="981.1" />
<line x1="1525.22" y1="993.6" x2="1525.22" y2="981.1" />
<line x1="1546.29" y1="993.6" x2="1546.29" y2="981.1" />
<line x1="1567.36" y1="993.6" x2="1567.36" y2="969.1" />
<line x1="1588.43" y1="993.6" x2="1588.43" y2="981.1" />
<line x1="1609.5" y1="993.6" x2="1609.5" y2="981.1" />
<line x1="1630.57" y1="993.6" x2="1630.57" y2="981.1" />
<line x1="1651.64" y1="993.6" x2="1651.64" y2="969.1" />
<line x1="1672.71" y1="993.6" x2="1672.71" y2="981.1" />
<line x1="1693.78" y1="993.6" x2="1693.78" y2="981.1" />
<line x1="1714.85" y1="993.6" x2="1714.85" y2="981.1" />
<line x1="1735.92" y1="993.6" x2="1735.92" y2="969.1" />
<line x1="1756.99" y1="993.6" x2="1756.99" y2="981.1" />
<line x1="1778.06" y1="993.6" x2="1778.06" y2="981.1" />
<line x1="1799.13" y1="993.6" x2="1799.13" y2="981.1" />
<line x1="1820.2" y1="993.6" x2="1820.2" y2="969.1" />
<line x1="1841.27" y1="993.6" x2="1841.27" y2="981.1" />
<line x1="1862.34" y1="993.6" x2="1862.34" y2="981.1" />
<line x1="1883.41" y1="993.6" x2="1883.41" y2="981.1" />
<line x1="1904.48" y1="993.6" x2="1904.48" y2="969.1" />
<line x1="1925.55" y1="993.6" x2="1925.55" y2="981.1" />
<line x1="1946.62" y1="993.6" x2="1946.62" y2="981.1" />
<line x1="1967.69" y1="993.6" x2="1967.69" y2="981.1" />
<line x1="1988.76" y1="993.6" x2="1988.76" y2="969.1" />
<line x1="2009.83" y1="993.6" x2="2009.83" y2="981.1" />
<line x1="2030.9" y1="993.6" x2="2030.9" y2="981.1" />
<line x1="2051.97" y1="993.6" x2="2051.97" y2="981.1" />
<line x1="2073.04" y1="993.6" x2="2073.04" y2="969.1" />
<line x1="2094.11" y1="993.6" x2="2094.11" y2="981.1" />
<line x1="2115.18" y1="993.6" x2="2115.18" y2="981.1" />
<line x1="2136.25" y1="993.6" x2="2136.25" y2="981.1" />
<line x1="2157.32" y1="993.6" x2="2157.32" y2="969.1" />
<line x1="2178.39" y1="993.6" x2="2178.39" y2="981.1" />
<line x1="2199.46" y1="993.6" x2="2199.46" y2="981.1" />
<line x1="2220.53" y1="993.6" x2="2220.53" y2="981.1" />
<line x1="2241.6" y1="993.6" x2="2241.6" y2="969.1" />
</g>
<g font-family="Liberation Sans, sans-serif" fill="#000">
<text font-size="34.7" text-anchor="middle" transform="translate(1394.8 1029) scale(1 1.048)" >−10</text>
<text font-size="34.7" text-anchor="middle" transform="translate(1479.08 1029) scale(1 1.048)" >−8</text>
<text font-size="34.7" text-anchor="middle" transform="translate(1563.36 1029) scale(1 1.048)" >−6</text>
<text font-size="34.7" text-anchor="middle" transform="translate(1647.64 1029) scale(1 1.048)" >−4</text>
<text font-size="34.7" text-anchor="middle" transform="translate(1731.92 1029) scale(1 1.048)" >−2</text>
<text font-size="34.7" text-anchor="middle" transform="translate(1818.2 1029) scale(1 1.048)" >0</text>
<text font-size="34.7" text-anchor="middle" transform="translate(1902.48 1029) scale(1 1.048)" >2</text>
<text font-size="34.7" text-anchor="middle" transform="translate(1986.76 1029) scale(1 1.048)" >4</text>
<text font-size="34.7" text-anchor="middle" transform="translate(2071.04 1029) scale(1 1.048)" >6</text>
<text font-size="34.7" text-anchor="middle" transform="translate(2155.32 1029) scale(1 1.048)" >8</text>
<text font-size="34.7" text-anchor="middle" transform="translate(2239.6 1029) scale(1 1.048)" >10</text>
</g>
<g stroke="#000" stroke-width="0.97">
<line x1="1398.8" y1="993.6" x2="1425.8" y2="993.6" />
<line x1="1398.8" y1="967.09" x2="1414" y2="967.09" />
<line x1="1398.8" y1="940.59" x2="1414" y2="940.59" />
<line x1="1398.8" y1="914.08" x2="1414" y2="914.08" />
<line x1="1398.8" y1="887.57" x2="1414" y2="887.57" />
<line x1="1398.8" y1="861.07" x2="1425.8" y2="861.07" />
<line x1="1398.8" y1="834.56" x2="1414" y2="834.56" />
<line x1="1398.8" y1="808.05" x2="1414" y2="808.05" />
<line x1="1398.8" y1="781.54" x2="1414" y2="781.54" />
<line x1="1398.8" y1="755.04" x2="1414" y2="755.04" />
<line x1="1398.8" y1="728.53" x2="1425.8" y2="728.53" />
<line x1="1398.8" y1="702.02" x2="1414" y2="702.02" />
<line x1="1398.8" y1="675.52" x2="1414" y2="675.52" />
<line x1="1398.8" y1="649.01" x2="1414" y2="649.01" />
<line x1="1398.8" y1="622.5" x2="1414" y2="622.5" />
<line x1="1398.8" y1="596" x2="1425.8" y2="596" />
<line x1="1398.8" y1="569.49" x2="1414" y2="569.49" />
<line x1="1398.8" y1="542.98" x2="1414" y2="542.98" />
<line x1="1398.8" y1="516.47" x2="1414" y2="516.47" />
<line x1="1398.8" y1="489.97" x2="1414" y2="489.97" />
<line x1="1398.8" y1="463.46" x2="1425.8" y2="463.46" />
<line x1="1398.8" y1="436.95" x2="1414" y2="436.95" />
<line x1="1398.8" y1="410.45" x2="1414" y2="410.45" />
<line x1="1398.8" y1="383.94" x2="1414" y2="383.94" />
<line x1="1398.8" y1="357.43" x2="1414" y2="357.43" />
<line x1="1398.8" y1="330.93" x2="1425.8" y2="330.93" />
<line x1="1398.8" y1="304.42" x2="1414" y2="304.42" />
<line x1="1398.8" y1="277.91" x2="1414" y2="277.91" />
<line x1="1398.8" y1="251.4" x2="1414" y2="251.4" />
<line x1="1398.8" y1="224.9" x2="1414" y2="224.9" />
<line x1="1398.8" y1="198.39" x2="1425.8" y2="198.39" />
<line x1="1398.8" y1="171.88" x2="1414" y2="171.88" />
<line x1="1398.8" y1="145.38" x2="1414" y2="145.38" />
</g>
<g font-family="Liberation Sans, sans-serif" fill="#000">
<text font-size="34.7" text-anchor="end" transform="translate(1390.3 1008.4) scale(1 1.048)" >0</text>
<text font-size="34.7" text-anchor="end" transform="translate(1390.3 875.87) scale(1 1.048)" >0.05</text>
<text font-size="34.7" text-anchor="end" transform="translate(1390.3 743.33) scale(1 1.048)" >0.1</text>
<text font-size="34.7" text-anchor="end" transform="translate(1390.3 610.8) scale(1 1.048)" >0.15</text>
<text font-size="34.7" text-anchor="end" transform="translate(1390.3 478.26) scale(1 1.048)" >0.2</text>
<text font-size="34.7" text-anchor="end" transform="translate(1390.3 345.73) scale(1 1.048)" >0.25</text>
<text font-size="34.7" text-anchor="end" transform="translate(1390.3 213.19) scale(1 1.048)" >0.3</text>
<text font-size="34.7" text-anchor="end" transform="translate(2239.5 1071.2) scale(1 1.048)" >dt</text>
<text font-size="34.7" text-anchor="end" transform="translate(1312 128.5) rotate(-90) scale(1 1.048)" >Projection of decay</text>
<text font-size="40.95" text-anchor="middle" transform="translate(1784.3 63.2) scale(1 1.03)" >Slices of decay(dt|dterr) at various dterr</text>
</g>
<g stroke="#000" stroke-width="0.97" fill="#000">
<line x1="2600.11" y1="979.08" x2="2600.11" y2="989.87" />
<line x1="2593.81" y1="979.08" x2="2606.41" y2="979.08" />
<line x1="2593.81" y1="989.87" x2="2606.41" y2="989.87" />
<circle cx="2600.11" cy="985.8" r="12.4" stroke="none"/>
<line x1="2608.54" y1="979.08" x2="2608.54" y2="989.87" />
<line x1="2602.24" y1="979.08" x2="2614.84" y2="979.08" />
<line x1="2602.24" y1="989.87" x2="2614.84" y2="989.87" />
<circle cx="2608.54" cy="985.8" r="12.4" stroke="none"/>
<line x1="2616.96" y1="979.08" x2="2616.96" y2="989.87" />
<line x1="2610.66" y1="979.08" x2="2623.26" y2="979.08" />
<line x1="2610.66" y1="989.87" x2="2623.26" y2="989.87" />
<circle cx="2616.96" cy="985.8" r="12.4" stroke="none"/>
<line x1="2625.39" y1="971.41" x2="2625.39" y2="984.91" />
<line x1="2619.09" y1="971.41" x2="2631.69" y2="971.41" />
<line x1="2619.09" y1="984.91" x2="2631.69" y2="984.91" />
<circle cx="2625.39" cy="979.42" r="12.4" stroke="none"/>
<line x1="2633.82" y1="968.91" x2="2633.82" y2="983.18" />
<line x1="2627.52" y1="968.91" x2="2640.12" y2="968.91" />
<line x1="2627.52" y1="983.18" x2="2640.12" y2="983.18" />
<circle cx="2633.82" cy="977.3" r="12.4" stroke="none"/>
<line x1="2642.24" y1="956.68" x2="2642.24" y2="974.23" />
<line x1="2635.94" y1="956.68" x2="2648.54" y2="956.68" />
<line x1="2635.94" y1="974.23" x2="2648.54" y2="974.23" />
<circle cx="2642.24" cy="966.67" r="12.4" stroke="none"/>
<line x1="2650.67" y1="971.41" x2="2650.67" y2="984.91" />
<line x1="2644.37" y1="971.41" x2="2656.97" y2="971.41" />
<line x1="2644.37" y1="984.91" x2="2656.97" y2="984.91" />
<circle cx="2650.67" cy="979.42" r="12.4" stroke="none"/>
<line x1="2659.09" y1="971.41" x2="2659.09" y2="984.91" />
<line x1="2652.79" y1="971.41" x2="2665.39" y2="971.41" />
<line x1="2652.79" y1="984.91" x2="2665.39" y2="984.91" />
<circle cx="2659.09" cy="979.42" r="12.4" stroke="none"/>
<line x1="2667.52" y1="961.53" x2="2667.52" y2="977.86" />
<line x1="2661.22" y1="961.53" x2="2673.82" y2="961.53" />
<line x1="2661.22" y1="977.86" x2="2673.82" y2="977.86" />
<circle cx="2667.52" cy="970.92" r="12.4" stroke="none"/>
<line x1="2675.95" y1="966.43" x2="2675.95" y2="981.43" />
<line x1="2669.65" y1="966.43" x2="2682.25" y2="966.43" />
<line x1="2669.65" y1="981.43" x2="2682.25" y2="981.43" />
<circle cx="2675.95" cy="975.17" r="12.4" stroke="none"/>
<line x1="2684.37" y1="968.91" x2="2684.37" y2="983.18" />
<line x1="2678.07" y1="968.91" x2="2690.67" y2="968.91" />
<line x1="2678.07" y1="983.18" x2="2690.67" y2="983.18" />
<circle cx="2684.37" cy="977.3" r="12.4" stroke="none"/>
<line x1="2692.8" y1="949.49" x2="2692.8" y2="968.7" />
<line x1="2686.5" y1="949.49" x2="2699.1" y2="949.49" />
<line x1="2686.5" y1="968.7" x2="2699.1" y2="968.7" />
<circle cx="2692.8" cy="960.29" r="12.4" stroke="none"/>
<line x1="2701.22" y1="930.61" x2="2701.22" y2="953.63" />
<line x1="2694.92" y1="930.61" x2="2707.53" y2="930.61" />
<line x1="2694.92" y1="953.63" x2="2707.53" y2="953.63" />
<circle cx="2701.22" cy="943.29" r="12.4" stroke="none"/>
<line x1="2709.65" y1="942.36" x2="2709.65" y2="963.1" />
<line x1="2703.35" y1="942.36" x2="2715.95" y2="942.36" />
<line x1="2703.35" y1="963.1" x2="2715.95" y2="963.1" />
<circle cx="2709.65" cy="953.92" r="12.4" stroke="none"/>
<line x1="2718.08" y1="937.64" x2="2718.08" y2="959.33" />
<line x1="2711.78" y1="937.64" x2="2724.38" y2="937.64" />
<line x1="2711.78" y1="959.33" x2="2724.38" y2="959.33" />
<circle cx="2718.08" cy="949.66" r="12.4" stroke="none"/>
<line x1="2726.5" y1="963.98" x2="2726.5" y2="979.65" />
<line x1="2720.2" y1="963.98" x2="2732.8" y2="963.98" />
<line x1="2720.2" y1="979.65" x2="2732.8" y2="979.65" />
<circle cx="2726.5" cy="973.04" r="12.4" stroke="none"/>
<line x1="2734.93" y1="942.36" x2="2734.93" y2="963.1" />
<line x1="2728.63" y1="942.36" x2="2741.23" y2="942.36" />
<line x1="2728.63" y1="963.1" x2="2741.23" y2="963.1" />
<circle cx="2734.93" cy="953.92" r="12.4" stroke="none"/>
<line x1="2743.35" y1="947.11" x2="2743.35" y2="966.84" />
<line x1="2737.05" y1="947.11" x2="2749.65" y2="947.11" />
<line x1="2737.05" y1="966.84" x2="2749.65" y2="966.84" />
<circle cx="2743.35" cy="958.17" r="12.4" stroke="none"/>
<line x1="2751.78" y1="930.61" x2="2751.78" y2="953.63" />
<line x1="2745.48" y1="930.61" x2="2758.08" y2="930.61" />
<line x1="2745.48" y1="953.63" x2="2758.08" y2="953.63" />
<circle cx="2751.78" cy="943.29" r="12.4" stroke="none"/>
<line x1="2760.21" y1="909.7" x2="2760.21" y2="936.31" />
<line x1="2753.91" y1="909.7" x2="2766.51" y2="909.7" />
<line x1="2753.91" y1="936.31" x2="2766.51" y2="936.31" />
<circle cx="2760.21" cy="924.16" r="12.4" stroke="none"/>
<line x1="2768.63" y1="907.39" x2="2768.63" y2="934.37" />
<line x1="2762.33" y1="907.39" x2="2774.93" y2="907.39" />
<line x1="2762.33" y1="934.37" x2="2774.93" y2="934.37" />
<circle cx="2768.63" cy="922.03" r="12.4" stroke="none"/>
<line x1="2777.06" y1="928.27" x2="2777.06" y2="951.72" />
<line x1="2770.76" y1="928.27" x2="2783.36" y2="928.27" />
<line x1="2770.76" y1="951.72" x2="2783.36" y2="951.72" />
<circle cx="2777.06" cy="941.16" r="12.4" stroke="none"/>
<line x1="2785.48" y1="879.88" x2="2785.48" y2="910.89" />
<line x1="2779.18" y1="879.88" x2="2791.78" y2="879.88" />
<line x1="2779.18" y1="910.89" x2="2791.78" y2="910.89" />
<circle cx="2785.48" cy="896.53" r="12.4" stroke="none"/>
<line x1="2793.91" y1="907.39" x2="2793.91" y2="934.37" />
<line x1="2787.61" y1="907.39" x2="2800.21" y2="907.39" />
<line x1="2787.61" y1="934.37" x2="2800.21" y2="934.37" />
<circle cx="2793.91" cy="922.03" r="12.4" stroke="none"/>
<line x1="2802.34" y1="868.5" x2="2802.34" y2="901.03" />
<line x1="2796.04" y1="868.5" x2="2808.64" y2="868.5" />
<line x1="2796.04" y1="901.03" x2="2808.64" y2="901.03" />
<circle cx="2802.34" cy="885.9" r="12.4" stroke="none"/>
<line x1="2810.76" y1="882.16" x2="2810.76" y2="912.86" />
<line x1="2804.46" y1="882.16" x2="2817.06" y2="882.16" />
<line x1="2804.46" y1="912.86" x2="2817.06" y2="912.86" />
<circle cx="2810.76" cy="898.65" r="12.4" stroke="none"/>
<line x1="2819.19" y1="850.35" x2="2819.19" y2="885.18" />
<line x1="2812.89" y1="850.35" x2="2825.49" y2="850.35" />
<line x1="2812.89" y1="885.18" x2="2825.49" y2="885.18" />
<circle cx="2819.19" cy="868.9" r="12.4" stroke="none"/>
<line x1="2827.61" y1="852.62" x2="2827.61" y2="887.16" />
<line x1="2821.31" y1="852.62" x2="2833.91" y2="852.62" />
<line x1="2821.31" y1="887.16" x2="2833.91" y2="887.16" />
<circle cx="2827.61" cy="871.02" r="12.4" stroke="none"/>
<line x1="2836.04" y1="814.27" x2="2836.04" y2="853.25" />
<line x1="2829.74" y1="814.27" x2="2842.34" y2="814.27" />
<line x1="2829.74" y1="853.25" x2="2842.34" y2="853.25" />
<circle cx="2836.04" cy="834.89" r="12.4" stroke="none"/>
<line x1="2844.47" y1="830.03" x2="2844.47" y2="867.25" />
<line x1="2838.17" y1="830.03" x2="2850.77" y2="830.03" />
<line x1="2838.17" y1="867.25" x2="2850.77" y2="867.25" />
<circle cx="2844.47" cy="849.77" r="12.4" stroke="none"/>
<line x1="2852.89" y1="780.64" x2="2852.89" y2="823.13" />
<line x1="2846.59" y1="780.64" x2="2859.19" y2="780.64" />
<line x1="2846.59" y1="823.13" x2="2859.19" y2="823.13" />
<circle cx="2852.89" cy="803" r="12.4" stroke="none"/>
<line x1="2861.32" y1="767.23" x2="2861.32" y2="811.04" />
<line x1="2855.02" y1="767.23" x2="2867.62" y2="767.23" />
<line x1="2855.02" y1="811.04" x2="2867.62" y2="811.04" />
<circle cx="2861.32" cy="790.25" r="12.4" stroke="none"/>
<line x1="2869.74" y1="760.53" x2="2869.74" y2="804.99" />
<line x1="2863.44" y1="760.53" x2="2876.05" y2="760.53" />
<line x1="2863.44" y1="804.99" x2="2876.05" y2="804.99" />
<circle cx="2869.74" cy="783.88" r="12.4" stroke="none"/>
<line x1="2878.17" y1="769.46" x2="2878.17" y2="813.06" />
<line x1="2871.87" y1="769.46" x2="2884.47" y2="769.46" />
<line x1="2871.87" y1="813.06" x2="2884.47" y2="813.06" />
<circle cx="2878.17" cy="792.38" r="12.4" stroke="none"/>
<line x1="2886.6" y1="749.38" x2="2886.6" y2="794.89" />
<line x1="2880.3" y1="749.38" x2="2892.9" y2="749.38" />
<line x1="2880.3" y1="794.89" x2="2892.9" y2="794.89" />
<circle cx="2886.6" cy="773.25" r="12.4" stroke="none"/>
<line x1="2895.02" y1="709.32" x2="2895.02" y2="758.43" />
<line x1="2888.72" y1="709.32" x2="2901.32" y2="709.32" />
<line x1="2888.72" y1="758.43" x2="2901.32" y2="758.43" />
<circle cx="2895.02" cy="734.99" r="12.4" stroke="none"/>
<line x1="2903.45" y1="669.4" x2="2903.45" y2="721.85" />
<line x1="2897.15" y1="669.4" x2="2909.75" y2="669.4" />
<line x1="2897.15" y1="721.85" x2="2909.75" y2="721.85" />
<circle cx="2903.45" cy="696.73" r="12.4" stroke="none"/>
<line x1="2911.88" y1="653.9" x2="2911.88" y2="707.59" />
<line x1="2905.57" y1="653.9" x2="2918.18" y2="653.9" />
<line x1="2905.57" y1="707.59" x2="2918.18" y2="707.59" />
<circle cx="2911.88" cy="681.85" r="12.4" stroke="none"/>
<line x1="2920.3" y1="574.4" x2="2920.3" y2="634.06" />
<line x1="2914" y1="574.4" x2="2926.6" y2="574.4" />
<line x1="2914" y1="634.06" x2="2926.6" y2="634.06" />
<circle cx="2920.3" cy="605.33" r="12.4" stroke="none"/>
<line x1="2928.73" y1="563.39" x2="2928.73" y2="623.82" />
<line x1="2922.43" y1="563.39" x2="2935.03" y2="563.39" />
<line x1="2922.43" y1="623.82" x2="2935.03" y2="623.82" />
<circle cx="2928.73" cy="594.71" r="12.4" stroke="none"/>
<line x1="2937.15" y1="490.79" x2="2937.15" y2="556.14" />
<line x1="2930.85" y1="490.79" x2="2943.45" y2="490.79" />
<line x1="2930.85" y1="556.14" x2="2943.45" y2="556.14" />
<circle cx="2937.15" cy="524.56" r="12.4" stroke="none"/>
<line x1="2945.58" y1="438.11" x2="2945.58" y2="506.8" />
<line x1="2939.28" y1="438.11" x2="2951.88" y2="438.11" />
<line x1="2939.28" y1="506.8" x2="2951.88" y2="506.8" />
<circle cx="2945.58" cy="473.55" r="12.4" stroke="none"/>
<line x1="2954" y1="398.65" x2="2954" y2="469.74" />
<line x1="2947.7" y1="398.65" x2="2960.3" y2="398.65" />
<line x1="2947.7" y1="469.74" x2="2960.3" y2="469.74" />
<circle cx="2954" cy="435.29" r="12.4" stroke="none"/>
<line x1="2962.43" y1="394.27" x2="2962.43" y2="465.62" />
<line x1="2956.13" y1="394.27" x2="2968.73" y2="394.27" />
<line x1="2956.13" y1="465.62" x2="2968.73" y2="465.62" />
<circle cx="2962.43" cy="431.04" r="12.4" stroke="none"/>
<line x1="2970.86" y1="365.8" x2="2970.86" y2="438.83" />
<line x1="2964.56" y1="365.8" x2="2977.16" y2="365.8" />
<line x1="2964.56" y1="438.83" x2="2977.16" y2="438.83" />
<circle cx="2970.86" cy="403.41" r="12.4" stroke="none"/>
<line x1="2979.28" y1="324.23" x2="2979.28" y2="399.64" />
<line x1="2972.98" y1="324.23" x2="2985.58" y2="324.23" />
<line x1="2972.98" y1="399.64" x2="2985.58" y2="399.64" />
<circle cx="2979.28" cy="363.03" r="12.4" stroke="none"/>
<line x1="2987.71" y1="293.62" x2="2987.71" y2="370.73" />
<line x1="2981.41" y1="293.62" x2="2994.01" y2="293.62" />
<line x1="2981.41" y1="370.73" x2="2994.01" y2="370.73" />
<circle cx="2987.71" cy="333.27" r="12.4" stroke="none"/>
<line x1="2996.13" y1="239.01" x2="2996.13" y2="319.07" />
<line x1="2989.83" y1="239.01" x2="3002.43" y2="239.01" />
<line x1="2989.83" y1="319.07" x2="3002.43" y2="319.07" />
<circle cx="2996.13" cy="280.13" r="12.4" stroke="none"/>
<line x1="3004.56" y1="249.92" x2="3004.56" y2="329.41" />
<line x1="2998.26" y1="249.92" x2="3010.86" y2="249.92" />
<line x1="2998.26" y1="329.41" x2="3010.86" y2="329.41" />
<circle cx="3004.56" cy="290.76" r="12.4" stroke="none"/>
<line x1="3012.99" y1="197.54" x2="3012.99" y2="279.78" />
<line x1="3006.69" y1="197.54" x2="3019.29" y2="197.54" />
<line x1="3006.69" y1="279.78" x2="3019.29" y2="279.78" />
<circle cx="3012.99" cy="239.75" r="12.4" stroke="none"/>
<line x1="3021.41" y1="180.08" x2="3021.41" y2="263.22" />
<line x1="3015.11" y1="180.08" x2="3027.71" y2="180.08" />
<line x1="3015.11" y1="263.22" x2="3027.71" y2="263.22" />
<circle cx="3021.41" cy="222.74" r="12.4" stroke="none"/>
<line x1="3029.84" y1="162.64" x2="3029.84" y2="246.66" />
<line x1="3023.54" y1="162.64" x2="3036.14" y2="162.64" />
<line x1="3023.54" y1="246.66" x2="3036.14" y2="246.66" />
<circle cx="3029.84" cy="205.74" r="12.4" stroke="none"/>
<line x1="3038.26" y1="223.72" x2="3038.26" y2="304.6" />
<line x1="3031.96" y1="223.72" x2="3044.57" y2="223.72" />
<line x1="3031.96" y1="304.6" x2="3044.57" y2="304.6" />
<circle cx="3038.26" cy="265.25" r="12.4" stroke="none"/>
<line x1="3046.69" y1="273.95" x2="3046.69" y2="352.14" />
<line x1="3040.39" y1="273.95" x2="3052.99" y2="273.95" />
<line x1="3040.39" y1="352.14" x2="3052.99" y2="352.14" />
<circle cx="3046.69" cy="314.14" r="12.4" stroke="none"/>
<line x1="3055.12" y1="278.32" x2="3055.12" y2="356.27" />
<line x1="3048.82" y1="278.32" x2="3061.42" y2="278.32" />
<line x1="3048.82" y1="356.27" x2="3061.42" y2="356.27" />
<circle cx="3055.12" cy="318.39" r="12.4" stroke="none"/>
<line x1="3063.54" y1="295.81" x2="3063.54" y2="372.8" />
<line x1="3057.24" y1="295.81" x2="3069.84" y2="295.81" />
<line x1="3057.24" y1="372.8" x2="3069.84" y2="372.8" />
<circle cx="3063.54" cy="335.39" r="12.4" stroke="none"/>
<line x1="3071.97" y1="346.11" x2="3071.97" y2="420.27" />
<line x1="3065.67" y1="346.11" x2="3078.27" y2="346.11" />
<line x1="3065.67" y1="420.27" x2="3078.27" y2="420.27" />
<circle cx="3071.97" cy="384.28" r="12.4" stroke="none"/>
<line x1="3080.39" y1="376.75" x2="3080.39" y2="449.14" />
<line x1="3074.09" y1="376.75" x2="3086.7" y2="376.75" />
<line x1="3074.09" y1="449.14" x2="3086.7" y2="449.14" />
<circle cx="3080.39" cy="414.04" r="12.4" stroke="none"/>
<line x1="3088.82" y1="460.05" x2="3088.82" y2="527.37" />
<line x1="3082.52" y1="460.05" x2="3095.12" y2="460.05" />
<line x1="3082.52" y1="527.37" x2="3095.12" y2="527.37" />
<circle cx="3088.82" cy="494.81" r="12.4" stroke="none"/>
<line x1="3097.25" y1="541.37" x2="3097.25" y2="603.33" />
<line x1="3090.95" y1="541.37" x2="3103.55" y2="541.37" />
<line x1="3090.95" y1="603.33" x2="3103.55" y2="603.33" />
<circle cx="3097.25" cy="573.45" r="12.4" stroke="none"/>
<line x1="3105.67" y1="556.78" x2="3105.67" y2="617.68" />
<line x1="3099.37" y1="556.78" x2="3111.97" y2="556.78" />
<line x1="3099.37" y1="617.68" x2="3111.97" y2="617.68" />
<circle cx="3105.67" cy="588.33" r="12.4" stroke="none"/>
<line x1="3114.1" y1="572.2" x2="3114.1" y2="632.01" />
<line x1="3107.8" y1="572.2" x2="3120.4" y2="572.2" />
<line x1="3107.8" y1="632.01" x2="3120.4" y2="632.01" />
<circle cx="3114.1" cy="603.21" r="12.4" stroke="none"/>
<line x1="3122.52" y1="653.9" x2="3122.52" y2="707.59" />
<line x1="3116.22" y1="653.9" x2="3128.82" y2="653.9" />
<line x1="3116.22" y1="707.59" x2="3128.82" y2="707.59" />
<circle cx="3122.52" cy="681.85" r="12.4" stroke="none"/>
<line x1="3130.95" y1="653.9" x2="3130.95" y2="707.59" />
<line x1="3124.65" y1="653.9" x2="3137.25" y2="653.9" />
<line x1="3124.65" y1="707.59" x2="3137.25" y2="707.59" />
<circle cx="3130.95" cy="681.85" r="12.4" stroke="none"/>
<line x1="3139.38" y1="720.43" x2="3139.38" y2="768.57" />
<line x1="3133.08" y1="720.43" x2="3145.68" y2="720.43" />
<line x1="3133.08" y1="768.57" x2="3145.68" y2="768.57" />
<circle cx="3139.38" cy="745.62" r="12.4" stroke="none"/>
<line x1="3147.8" y1="700.44" x2="3147.8" y2="750.31" />
<line x1="3141.5" y1="700.44" x2="3154.1" y2="700.44" />
<line x1="3141.5" y1="750.31" x2="3154.1" y2="750.31" />
<circle cx="3147.8" cy="726.49" r="12.4" stroke="none"/>
<line x1="3156.23" y1="776.17" x2="3156.23" y2="819.1" />
<line x1="3149.93" y1="776.17" x2="3162.53" y2="776.17" />
<line x1="3149.93" y1="819.1" x2="3162.53" y2="819.1" />
<circle cx="3156.23" cy="798.75" r="12.4" stroke="none"/>
<line x1="3164.65" y1="776.17" x2="3164.65" y2="819.1" />
<line x1="3158.35" y1="776.17" x2="3170.95" y2="776.17" />
<line x1="3158.35" y1="819.1" x2="3170.95" y2="819.1" />
<circle cx="3164.65" cy="798.75" r="12.4" stroke="none"/>
<line x1="3173.08" y1="807.53" x2="3173.08" y2="847.24" />
<line x1="3166.78" y1="807.53" x2="3179.38" y2="807.53" />
<line x1="3166.78" y1="847.24" x2="3179.38" y2="847.24" />
<circle cx="3173.08" cy="828.51" r="12.4" stroke="none"/>
<line x1="3181.51" y1="787.35" x2="3181.51" y2="829.17" />
<line x1="3175.21" y1="787.35" x2="3187.81" y2="787.35" />
<line x1="3175.21" y1="829.17" x2="3187.81" y2="829.17" />
<circle cx="3181.51" cy="809.38" r="12.4" stroke="none"/>
<line x1="3189.93" y1="818.77" x2="3189.93" y2="857.26" />
<line x1="3183.63" y1="818.77" x2="3196.23" y2="818.77" />
<line x1="3183.63" y1="857.26" x2="3196.23" y2="857.26" />
<circle cx="3189.93" cy="839.14" r="12.4" stroke="none"/>
<line x1="3198.36" y1="785.12" x2="3198.36" y2="827.16" />
<line x1="3192.06" y1="785.12" x2="3204.66" y2="785.12" />
<line x1="3192.06" y1="827.16" x2="3204.66" y2="827.16" />
<circle cx="3198.36" cy="807.26" r="12.4" stroke="none"/>
<line x1="3206.78" y1="850.35" x2="3206.78" y2="885.18" />
<line x1="3200.48" y1="850.35" x2="3213.09" y2="850.35" />
<line x1="3200.48" y1="885.18" x2="3213.09" y2="885.18" />
<circle cx="3206.78" cy="868.9" r="12.4" stroke="none"/>
<line x1="3215.21" y1="843.57" x2="3215.21" y2="879.21" />
<line x1="3208.91" y1="843.57" x2="3221.51" y2="843.57" />
<line x1="3208.91" y1="879.21" x2="3221.51" y2="879.21" />
<circle cx="3215.21" cy="862.52" r="12.4" stroke="none"/>
<line x1="3223.64" y1="891.31" x2="3223.64" y2="920.71" />
<line x1="3217.34" y1="891.31" x2="3229.94" y2="891.31" />
<line x1="3217.34" y1="920.71" x2="3229.94" y2="920.71" />
<circle cx="3223.64" cy="907.15" r="12.4" stroke="none"/>
<line x1="3232.06" y1="868.5" x2="3232.06" y2="901.03" />
<line x1="3225.76" y1="868.5" x2="3238.36" y2="868.5" />
<line x1="3225.76" y1="901.03" x2="3238.36" y2="901.03" />
<circle cx="3232.06" cy="885.9" r="12.4" stroke="none"/>
<line x1="3240.49" y1="877.6" x2="3240.49" y2="908.92" />
<line x1="3234.19" y1="877.6" x2="3246.79" y2="877.6" />
<line x1="3234.19" y1="908.92" x2="3246.79" y2="908.92" />
<circle cx="3240.49" cy="894.4" r="12.4" stroke="none"/>
<line x1="3248.91" y1="900.49" x2="3248.91" y2="928.53" />
<line x1="3242.61" y1="900.49" x2="3255.22" y2="900.49" />
<line x1="3242.61" y1="928.53" x2="3255.22" y2="928.53" />
<circle cx="3248.91" cy="915.66" r="12.4" stroke="none"/>
<line x1="3257.34" y1="895.89" x2="3257.34" y2="924.62" />
<line x1="3251.04" y1="895.89" x2="3263.64" y2="895.89" />
<line x1="3251.04" y1="924.62" x2="3263.64" y2="924.62" />
<circle cx="3257.34" cy="911.41" r="12.4" stroke="none"/>
<line x1="3265.77" y1="912.01" x2="3265.77" y2="938.24" />
<line x1="3259.47" y1="912.01" x2="3272.07" y2="912.01" />
<line x1="3259.47" y1="938.24" x2="3272.07" y2="938.24" />
<circle cx="3265.77" cy="926.28" r="12.4" stroke="none"/>
<line x1="3274.19" y1="912.01" x2="3274.19" y2="938.24" />
<line x1="3267.89" y1="912.01" x2="3280.49" y2="912.01" />
<line x1="3267.89" y1="938.24" x2="3280.49" y2="938.24" />
<circle cx="3274.19" cy="926.28" r="12.4" stroke="none"/>
<line x1="3282.62" y1="928.27" x2="3282.62" y2="951.72" />
<line x1="3276.32" y1="928.27" x2="3288.92" y2="928.27" />
<line x1="3276.32" y1="951.72" x2="3288.92" y2="951.72" />
<circle cx="3282.62" cy="941.16" r="12.4" stroke="none"/>
<line x1="3291.05" y1="954.28" x2="3291.05" y2="972.4" />
<line x1="3284.74" y1="954.28" x2="3297.35" y2="954.28" />
<line x1="3284.74" y1="972.4" x2="3297.35" y2="972.4" />
<circle cx="3291.05" cy="964.54" r="12.4" stroke="none"/>
<line x1="3299.47" y1="937.64" x2="3299.47" y2="959.33" />
<line x1="3293.17" y1="937.64" x2="3305.77" y2="937.64" />
<line x1="3293.17" y1="959.33" x2="3305.77" y2="959.33" />
<circle cx="3299.47" cy="949.66" r="12.4" stroke="none"/>
<line x1="3307.9" y1="951.88" x2="3307.9" y2="970.56" />
<line x1="3301.6" y1="951.88" x2="3314.2" y2="951.88" />
<line x1="3301.6" y1="970.56" x2="3314.2" y2="970.56" />
<circle cx="3307.9" cy="962.42" r="12.4" stroke="none"/>
<line x1="3316.32" y1="949.49" x2="3316.32" y2="968.7" />
<line x1="3310.02" y1="949.49" x2="3322.62" y2="949.49" />
<line x1="3310.02" y1="968.7" x2="3322.62" y2="968.7" />
<circle cx="3316.32" cy="960.29" r="12.4" stroke="none"/>
<line x1="3324.75" y1="944.73" x2="3324.75" y2="964.97" />
<line x1="3318.45" y1="944.73" x2="3331.05" y2="944.73" />
<line x1="3318.45" y1="964.97" x2="3331.05" y2="964.97" />
<circle cx="3324.75" cy="956.04" r="12.4" stroke="none"/>
<line x1="3333.17" y1="976.48" x2="3333.17" y2="988.26" />
<line x1="3326.87" y1="976.48" x2="3339.47" y2="976.48" />
<line x1="3326.87" y1="988.26" x2="3339.47" y2="988.26" />
<circle cx="3333.17" cy="983.67" r="12.4" stroke="none"/>
<line x1="3341.6" y1="966.43" x2="3341.6" y2="981.43" />
<line x1="3335.3" y1="966.43" x2="3347.9" y2="966.43" />
<line x1="3335.3" y1="981.43" x2="3347.9" y2="981.43" />
<circle cx="3341.6" cy="975.17" r="12.4" stroke="none"/>
<line x1="3350.03" y1="966.43" x2="3350.03" y2="981.43" />
<line x1="3343.73" y1="966.43" x2="3356.33" y2="966.43" />
<line x1="3343.73" y1="981.43" x2="3356.33" y2="981.43" />
<circle cx="3350.03" cy="975.17" r="12.4" stroke="none"/>
<line x1="3358.45" y1="944.73" x2="3358.45" y2="964.97" />
<line x1="3352.15" y1="944.73" x2="3364.75" y2="944.73" />
<line x1="3352.15" y1="964.97" x2="3364.75" y2="964.97" />
<circle cx="3358.45" cy="956.04" r="12.4" stroke="none"/>
<line x1="3366.88" y1="966.43" x2="3366.88" y2="981.43" />
<line x1="3360.58" y1="966.43" x2="3373.18" y2="966.43" />
<line x1="3360.58" y1="981.43" x2="3373.18" y2="981.43" />
<circle cx="3366.88" cy="975.17" r="12.4" stroke="none"/>
<line x1="3375.3" y1="963.98" x2="3375.3" y2="979.65" />
<line x1="3369" y1="963.98" x2="3381.61" y2="963.98" />
<line x1="3369" y1="979.65" x2="3381.61" y2="979.65" />
<circle cx="3375.3" cy="973.04" r="12.4" stroke="none"/>
<line x1="3383.73" y1="961.53" x2="3383.73" y2="977.86" />
<line x1="3377.43" y1="961.53" x2="3390.03" y2="961.53" />
<line x1="3377.43" y1="977.86" x2="3390.03" y2="977.86" />
<circle cx="3383.73" cy="970.92" r="12.4" stroke="none"/>
<line x1="3392.16" y1="966.43" x2="3392.16" y2="981.43" />
<line x1="3385.86" y1="966.43" x2="3398.46" y2="966.43" />
<line x1="3385.86" y1="981.43" x2="3398.46" y2="981.43" />
<circle cx="3392.16" cy="975.17" r="12.4" stroke="none"/>
<line x1="3400.58" y1="961.53" x2="3400.58" y2="977.86" />
<line x1="3394.28" y1="961.53" x2="3406.88" y2="961.53" />
<line x1="3394.28" y1="977.86" x2="3406.88" y2="977.86" />
<circle cx="3400.58" cy="970.92" r="12.4" stroke="none"/>
<line x1="3409.01" y1="976.48" x2="3409.01" y2="988.26" />
<line x1="3402.71" y1="976.48" x2="3415.31" y2="976.48" />
<line x1="3402.71" y1="988.26" x2="3415.31" y2="988.26" />
<circle cx="3409.01" cy="983.67" r="12.4" stroke="none"/>
<line x1="3417.43" y1="979.08" x2="3417.43" y2="989.87" />
<line x1="3411.13" y1="979.08" x2="3423.74" y2="979.08" />
<line x1="3411.13" y1="989.87" x2="3423.74" y2="989.87" />
<circle cx="3417.43" cy="985.8" r="12.4" stroke="none"/>
<line x1="3425.86" y1="987.29" x2="3425.86" y2="993.93" />
<line x1="3419.56" y1="987.29" x2="3432.16" y2="987.29" />
<line x1="3419.56" y1="993.93" x2="3432.16" y2="993.93" />
<circle cx="3425.86" cy="992.17" r="12.4" stroke="none"/>
<line x1="3434.29" y1="976.48" x2="3434.29" y2="988.26" />
<line x1="3427.99" y1="976.48" x2="3440.59" y2="976.48" />
<line x1="3427.99" y1="988.26" x2="3440.59" y2="988.26" />
<circle cx="3434.29" cy="983.67" r="12.4" stroke="none"/>
</g>
<polyline points="2595.9,985.06 2600.11,984.69 2608.54,983.9 2616.96,983.04 2625.39,982.06 2633.82,980.95 2642.24,979.72 2650.67,978.41 2659.09,977.01 2667.52,975.46 2675.95,973.62 2684.37,971.44 2692.8,968.99 2701.22,966.38 2709.65,963.58 2718.08,960.48 2726.5,957.03 2734.93,953.19 2743.35,948.92 2751.78,944.11 2760.21,938.67 2768.63,932.6 2777.06,925.9 2785.48,918.51 2793.91,910.29 2802.34,901.35 2810.76,891.65 2819.19,880.91 2827.61,868.76 2836.04,854.99 2844.47,839.73 2852.89,822.79 2861.32,803.99 2869.74,783.24 2878.17,760.16 2886.6,734.52 2895.02,706.4 2903.45,676.25 2911.88,644.16 2920.3,609.66 2928.73,573.86 2937.15,537.27 2945.58,498.27 2954,456.88 2962.43,415.41 2970.86,375.03 2979.28,337.24 2987.71,302.04 2996.13,271.17 3004.56,251.43 3012.99,244.42 3021.41,244.42 3029.84,251.43 3038.26,270.87 3046.69,299.67 3055.12,335.21 3063.54,374.05 3071.97,415.32 3080.39,455.79 3088.82,494.68 3097.25,533.14 3105.67,571.93 3114.1,610.24 3122.52,646.11 3130.95,678.29 3139.38,707.06 3147.8,733.59 3156.23,758.01 3164.65,780.39 3173.08,800.79 3181.51,819.73 3189.93,837.23 3198.36,853.02 3206.78,867.17 3215.21,879.84 3223.64,891.24 3232.06,901.34 3240.49,910.29 3248.91,918.36 3257.34,925.81 3265.77,932.66 3274.19,938.8 3282.62,944.18 3291.05,948.89 3299.47,953.14 3307.9,957 3316.32,960.51 3324.75,963.67 3333.17,966.48 3341.6,968.98 3350.03,971.24 3358.45,973.29 3366.88,975.16 3375.3,976.85 3383.73,978.36 3392.16,979.71 3400.58,980.93 3409.01,982.05 3417.43,983.07 3425.86,983.99 3434.29,984.83 3438.5,985.21" fill="none" stroke="#0000ff" stroke-width="3.3" stroke-linejoin="round"/>
<rect x="2595.8" y="120.6" width="842.7" height="873" fill="none" stroke="#000" stroke-width="1"/>
<g stroke="#000" stroke-width="0.97">
<line x1="2595.8" y1="993.6" x2="2595.8" y2="969.1" />
<line x1="2616.87" y1="993.6" x2="2616.87" y2="981.1" />
<line x1="2637.94" y1="993.6" x2="2637.94" y2="981.1" />
<line x1="2659" y1="993.6" x2="2659" y2="981.1" />
<line x1="2680.07" y1="993.6" x2="2680.07" y2="969.1" />
<line x1="2701.14" y1="993.6" x2="2701.14" y2="981.1" />
<line x1="2722.2" y1="993.6" x2="2722.2" y2="981.1" />
<line x1="2743.27" y1="993.6" x2="2743.27" y2="981.1" />
<line x1="2764.34" y1="993.6" x2="2764.34" y2="969.1" />
<line x1="2785.41" y1="993.6" x2="2785.41" y2="981.1" />
<line x1="2806.48" y1="993.6" x2="2806.48" y2="981.1" />
<line x1="2827.54" y1="993.6" x2="2827.54" y2="981.1" />
<line x1="2848.61" y1="993.6" x2="2848.61" y2="969.1" />
<line x1="2869.68" y1="993.6" x2="2869.68" y2="981.1" />
<line x1="2890.74" y1="993.6" x2="2890.74" y2="981.1" />
<line x1="2911.81" y1="993.6" x2="2911.81" y2="981.1" />
<line x1="2932.88" y1="993.6" x2="2932.88" y2="969.1" />
<line x1="2953.95" y1="993.6" x2="2953.95" y2="981.1" />
<line x1="2975.02" y1="993.6" x2="2975.02" y2="981.1" />
<line x1="2996.08" y1="993.6" x2="2996.08" y2="981.1" />
<line x1="3017.15" y1="993.6" x2="3017.15" y2="969.1" />
<line x1="3038.22" y1="993.6" x2="3038.22" y2="981.1" />
<line x1="3059.28" y1="993.6" x2="3059.28" y2="981.1" />
<line x1="3080.35" y1="993.6" x2="3080.35" y2="981.1" />
<line x1="3101.42" y1="993.6" x2="3101.42" y2="969.1" />
<line x1="3122.49" y1="993.6" x2="3122.49" y2="981.1" />
<line x1="3143.56" y1="993.6" x2="3143.56" y2="981.1" />
<line x1="3164.62" y1="993.6" x2="3164.62" y2="981.1" />
<line x1="3185.69" y1="993.6" x2="3185.69" y2="969.1" />
<line x1="3206.76" y1="993.6" x2="3206.76" y2="981.1" />
<line x1="3227.82" y1="993.6" x2="3227.82" y2="981.1" />
<line x1="3248.89" y1="993.6" x2="3248.89" y2="981.1" />
<line x1="3269.96" y1="993.6" x2="3269.96" y2="969.1" />
<line x1="3291.03" y1="993.6" x2="3291.03" y2="981.1" />
<line x1="3312.1" y1="993.6" x2="3312.1" y2="981.1" />
<line x1="3333.16" y1="993.6" x2="3333.16" y2="981.1" />
<line x1="3354.23" y1="993.6" x2="3354.23" y2="969.1" />
<line x1="3375.3" y1="993.6" x2="3375.3" y2="981.1" />
<line x1="3396.36" y1="993.6" x2="3396.36" y2="981.1" />
<line x1="3417.43" y1="993.6" x2="3417.43" y2="981.1" />
<line x1="3438.5" y1="993.6" x2="3438.5" y2="969.1" />
</g>
<g font-family="Liberation Sans, sans-serif" fill="#000">
<text font-size="34.7" text-anchor="middle" transform="translate(2591.8 1029) scale(1 1.048)" >−10</text>
<text font-size="34.7" text-anchor="middle" transform="translate(2676.07 1029) scale(1 1.048)" >−8</text>
<text font-size="34.7" text-anchor="middle" transform="translate(2760.34 1029) scale(1 1.048)" >−6</text>
<text font-size="34.7" text-anchor="middle" transform="translate(2844.61 1029) scale(1 1.048)" >−4</text>
<text font-size="34.7" text-anchor="middle" transform="translate(2928.88 1029) scale(1 1.048)" >−2</text>
<text font-size="34.7" text-anchor="middle" transform="translate(3015.15 1029) scale(1 1.048)" >0</text>
<text font-size="34.7" text-anchor="middle" transform="translate(3099.42 1029) scale(1 1.048)" >2</text>
<text font-size="34.7" text-anchor="middle" transform="translate(3183.69 1029) scale(1 1.048)" >4</text>
<text font-size="34.7" text-anchor="middle" transform="translate(3267.96 1029) scale(1 1.048)" >6</text>
<text font-size="34.7" text-anchor="middle" transform="translate(3352.23 1029) scale(1 1.048)" >8</text>
<text font-size="34.7" text-anchor="middle" transform="translate(3436.5 1029) scale(1 1.048)" >10</text>
</g>
<g stroke="#000" stroke-width="0.97">
<line x1="2595.8" y1="993.7" x2="2622.8" y2="993.7" />
<line x1="2595.8" y1="972.49" x2="2611" y2="972.49" />
<line x1="2595.8" y1="951.28" x2="2611" y2="951.28" />
<line x1="2595.8" y1="930.06" x2="2611" y2="930.06" />
<line x1="2595.8" y1="908.85" x2="2611" y2="908.85" />
<line x1="2595.8" y1="887.64" x2="2622.8" y2="887.64" />
<line x1="2595.8" y1="866.43" x2="2611" y2="866.43" />
<line x1="2595.8" y1="845.22" x2="2611" y2="845.22" />
<line x1="2595.8" y1="824" x2="2611" y2="824" />
<line x1="2595.8" y1="802.79" x2="2611" y2="802.79" />
<line x1="2595.8" y1="781.58" x2="2622.8" y2="781.58" />
<line x1="2595.8" y1="760.37" x2="2611" y2="760.37" />
<line x1="2595.8" y1="739.16" x2="2611" y2="739.16" />
<line x1="2595.8" y1="717.94" x2="2611" y2="717.94" />
<line x1="2595.8" y1="696.73" x2="2611" y2="696.73" />
<line x1="2595.8" y1="675.52" x2="2622.8" y2="675.52" />
<line x1="2595.8" y1="654.31" x2="2611" y2="654.31" />
<line x1="2595.8" y1="633.1" x2="2611" y2="633.1" />
<line x1="2595.8" y1="611.88" x2="2611" y2="611.88" />
<line x1="2595.8" y1="590.67" x2="2611" y2="590.67" />
<line x1="2595.8" y1="569.46" x2="2622.8" y2="569.46" />
<line x1="2595.8" y1="548.25" x2="2611" y2="548.25" />
<line x1="2595.8" y1="527.04" x2="2611" y2="527.04" />
<line x1="2595.8" y1="505.82" x2="2611" y2="505.82" />
<line x1="2595.8" y1="484.61" x2="2611" y2="484.61" />
<line x1="2595.8" y1="463.4" x2="2622.8" y2="463.4" />
<line x1="2595.8" y1="442.19" x2="2611" y2="442.19" />
<line x1="2595.8" y1="420.98" x2="2611" y2="420.98" />
<line x1="2595.8" y1="399.76" x2="2611" y2="399.76" />
<line x1="2595.8" y1="378.55" x2="2611" y2="378.55" />
<line x1="2595.8" y1="357.34" x2="2622.8" y2="357.34" />
<line x1="2595.8" y1="336.13" x2="2611" y2="336.13" />
<line x1="2595.8" y1="314.92" x2="2611" y2="314.92" />
<line x1="2595.8" y1="293.7" x2="2611" y2="293.7" />
<line x1="2595.8" y1="272.49" x2="2611" y2="272.49" />
<line x1="2595.8" y1="251.28" x2="2622.8" y2="251.28" />
<line x1="2595.8" y1="230.07" x2="2611" y2="230.07" />
<line x1="2595.8" y1="208.86" x2="2611" y2="208.86" />
<line x1="2595.8" y1="187.64" x2="2611" y2="187.64" />
<line x1="2595.8" y1="166.43" x2="2611" y2="166.43" />
<line x1="2595.8" y1="145.22" x2="2622.8" y2="145.22" />
<line x1="2595.8" y1="124.01" x2="2611" y2="124.01" />
</g>
<g font-family="Liberation Sans, sans-serif" fill="#000">
<text font-size="34.7" text-anchor="end" transform="translate(2587.8 1008.5) scale(1 1.048)" >0</text>
<text font-size="34.7" text-anchor="end" transform="translate(2587.8 902.44) scale(1 1.048)" >50</text>
<text font-size="34.7" text-anchor="end" transform="translate(2587.8 796.38) scale(1 1.048)" >100</text>
<text font-size="34.7" text-anchor="end" transform="translate(2587.8 690.32) scale(1 1.048)" >150</text>
<text font-size="34.7" text-anchor="end" transform="translate(2587.8 584.26) scale(1 1.048)" >200</text>
<text font-size="34.7" text-anchor="end" transform="translate(2587.8 478.2) scale(1 1.048)" >250</text>
<text font-size="34.7" text-anchor="end" transform="translate(2587.8 372.14) scale(1 1.048)" >300</text>
<text font-size="34.7" text-anchor="end" transform="translate(2587.8 266.08) scale(1 1.048)" >350</text>
<text font-size="34.7" text-anchor="end" transform="translate(2587.8 160.02) scale(1 1.048)" >400</text>
<text font-size="34.7" text-anchor="end" transform="translate(3436.4 1071.2) scale(1 1.048)" >dt</text>
<text font-size="34.7" text-anchor="end" transform="translate(2507.4 127) rotate(-90) scale(1 1.048)" >Events / ( 0.2 )</text>
<text font-size="47.95" text-anchor="middle" transform="translate(2988 63) scale(1 1.03)" >Projection of decay(dt|dterr) on dt</text>
</g>
</svg>
</body></html>
